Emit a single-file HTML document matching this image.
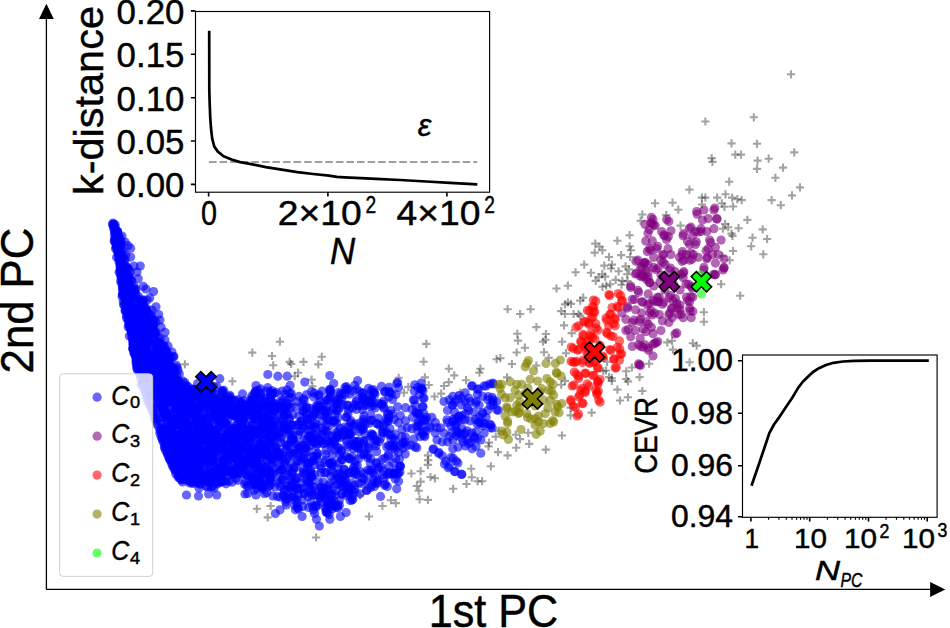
<!DOCTYPE html>
<html><head><meta charset="utf-8"><style>
html,body{margin:0;padding:0;background:#fff;}
body{width:950px;height:628px;overflow:hidden;}
svg{display:block;}
text{font-family:"Liberation Sans", sans-serif;fill:#000;stroke:#000;stroke-width:0.45px;}
</style></head><body>
<svg width="950" height="628" viewBox="0 0 950 628">
<g fill="none" stroke="#000" stroke-opacity="0.36" stroke-width="2.1"><path d="M786.9 74.3h8.2M791.0 70.2v8.2"/><path d="M701.3 121.5h8.2M705.4 117.4v8.2"/><path d="M749.7 117.3h8.2M753.8 113.2v8.2"/><path d="M727.4 143.4h8.2M731.5 139.3v8.2"/><path d="M752.9 143.8h8.2M757.0 139.7v8.2"/><path d="M790.1 152.4h8.2M794.2 148.3v8.2"/><path d="M707.6 158.1h8.2M711.7 154.0v8.2"/><path d="M708.3 161.9h8.2M712.4 157.8v8.2"/><path d="M731.2 154.6h8.2M735.3 150.5v8.2"/><path d="M736.9 154.6h8.2M741.0 150.5v8.2"/><path d="M753.5 160.6h8.2M757.6 156.5v8.2"/><path d="M764.6 158.7h8.2M768.7 154.6v8.2"/><path d="M752.9 168.9h8.2M757.0 164.8v8.2"/><path d="M778.9 167.6h8.2M783.0 163.5v8.2"/><path d="M725.1 181.7h8.2M729.2 177.6v8.2"/><path d="M771.3 177.8h8.2M775.4 173.7v8.2"/><path d="M795.9 187.4h8.2M800.0 183.3v8.2"/><path d="M685.3 189.6h8.2M689.4 185.5v8.2"/><path d="M650.9 203.3h8.2M655.0 199.2v8.2"/><path d="M668.4 202.7h8.2M672.5 198.6v8.2"/><path d="M701.3 197.6h8.2M705.4 193.5v8.2"/><path d="M713.0 197.6h8.2M717.1 193.5v8.2"/><path d="M717.8 203.3h8.2M721.9 199.2v8.2"/><path d="M728.0 197.6h8.2M732.1 193.5v8.2"/><path d="M737.6 200.1h8.2M741.7 196.0v8.2"/><path d="M728.9 206.5h8.2M733.0 202.4v8.2"/><path d="M767.5 200.1h8.2M771.6 196.0v8.2"/><path d="M776.7 205.2h8.2M780.8 201.1v8.2"/><path d="M787.9 195.4h8.2M792.0 191.3v8.2"/><path d="M674.2 209.7h8.2M678.3 205.6v8.2"/><path d="M743.3 219.9h8.2M747.4 215.8v8.2"/><path d="M638.2 214.5h8.2M642.3 210.4v8.2"/><path d="M662.1 215.1h8.2M666.2 211.0v8.2"/><path d="M676.4 225.6h8.2M680.5 221.5v8.2"/><path d="M721.0 224.0h8.2M725.1 219.9v8.2"/><path d="M724.2 227.2h8.2M728.3 223.1v8.2"/><path d="M734.4 228.2h8.2M738.5 224.1v8.2"/><path d="M758.6 229.4h8.2M762.7 225.3v8.2"/><path d="M763.0 239.0h8.2M767.1 234.9v8.2"/><path d="M748.4 237.7h8.2M752.5 233.6v8.2"/><path d="M747.1 246.3h8.2M751.2 242.2v8.2"/><path d="M727.4 233.6h8.2M731.5 229.5v8.2"/><path d="M759.2 254.3h8.2M763.3 250.2v8.2"/><path d="M728.9 251.0h8.2M733.0 246.9v8.2"/><path d="M625.5 235.2h8.2M629.6 231.1v8.2"/><path d="M625.5 246.3h8.2M629.6 242.2v8.2"/><path d="M180.8 364.4h8.2M184.9 360.3v8.2"/><path d="M228.3 381.3h8.2M232.4 377.2v8.2"/><path d="M248.2 352.6h8.2M252.3 348.5v8.2"/><path d="M267.9 356.0h8.2M272.0 351.9v8.2"/><path d="M269.1 365.3h8.2M273.2 361.2v8.2"/><path d="M275.8 341.7h8.2M279.9 337.6v8.2"/><path d="M285.6 361.9h8.2M289.7 357.8v8.2"/><path d="M287.1 364.0h8.2M291.2 359.9v8.2"/><path d="M294.0 372.8h8.2M298.1 368.7v8.2"/><path d="M299.4 361.9h8.2M303.5 357.8v8.2"/><path d="M307.5 379.6h8.2M311.6 375.5v8.2"/><path d="M308.3 386.3h8.2M312.4 382.2v8.2"/><path d="M314.2 364.4h8.2M318.3 360.3v8.2"/><path d="M290.6 376.2h8.2M294.7 372.1v8.2"/><path d="M317.7 356.8h8.2M321.8 352.7v8.2"/><path d="M394.6 377.8h8.2M398.7 373.7v8.2"/><path d="M422.2 343.9h8.2M426.3 339.8v8.2"/><path d="M419.5 361.7h8.2M423.6 357.6v8.2"/><path d="M404.2 386.9h8.2M408.3 382.8v8.2"/><path d="M399.8 392.6h8.2M403.9 388.5v8.2"/><path d="M420.8 377.4h8.2M424.9 373.3v8.2"/><path d="M424.6 385.0h8.2M428.7 380.9v8.2"/><path d="M444.7 368.7h8.2M448.8 364.6v8.2"/><path d="M450.1 375.4h8.2M454.2 371.3v8.2"/><path d="M444.7 382.1h8.2M448.8 378.0v8.2"/><path d="M439.9 386.0h8.2M444.0 381.9v8.2"/><path d="M437.1 393.6h8.2M441.2 389.5v8.2"/><path d="M430.4 396.5h8.2M434.5 392.4v8.2"/><path d="M456.2 392.6h8.2M460.3 388.5v8.2"/><path d="M461.9 380.2h8.2M466.0 376.1v8.2"/><path d="M476.3 368.7h8.2M480.4 364.6v8.2"/><path d="M475.3 372.6h8.2M479.4 368.5v8.2"/><path d="M492.5 359.2h8.2M496.6 355.1v8.2"/><path d="M496.3 358.2h8.2M500.4 354.1v8.2"/><path d="M507.8 364.0h8.2M511.9 359.9v8.2"/><path d="M513.2 333.8h8.2M517.3 329.7v8.2"/><path d="M513.9 340.6h8.2M518.0 336.5v8.2"/><path d="M520.8 347.7h8.2M524.9 343.6v8.2"/><path d="M512.6 352.5h8.2M516.7 348.4v8.2"/><path d="M532.3 327.1h8.2M536.4 323.0v8.2"/><path d="M532.3 365.5h8.2M536.4 361.4v8.2"/><path d="M503.0 377.4h8.2M507.1 373.3v8.2"/><path d="M491.6 436.6h8.2M495.7 432.5v8.2"/><path d="M511.6 434.7h8.2M515.7 430.6v8.2"/><path d="M524.1 432.8h8.2M528.2 428.7v8.2"/><path d="M494.4 430.9h8.2M498.5 426.8v8.2"/><path d="M252.7 508.8h8.2M256.8 504.7v8.2"/><path d="M266.5 506.0h8.2M270.6 501.9v8.2"/><path d="M263.6 517.4h8.2M267.7 513.3v8.2"/><path d="M312.0 537.5h8.2M316.1 533.4v8.2"/><path d="M355.9 495.4h8.2M360.0 491.3v8.2"/><path d="M364.9 516.5h8.2M369.0 512.4v8.2"/><path d="M378.3 506.0h8.2M382.4 501.9v8.2"/><path d="M386.9 500.2h8.2M391.0 496.1v8.2"/><path d="M391.7 503.1h8.2M395.8 499.0v8.2"/><path d="M383.1 477.3h8.2M387.2 473.2v8.2"/><path d="M361.1 484.9h8.2M365.2 480.8v8.2"/><path d="M423.8 455.4h8.2M427.9 451.3v8.2"/><path d="M424.1 460.1h8.2M428.2 456.0v8.2"/><path d="M423.8 464.9h8.2M427.9 460.8v8.2"/><path d="M407.3 473.5h8.2M411.4 469.4v8.2"/><path d="M416.5 471.2h8.2M420.6 467.1v8.2"/><path d="M426.4 477.0h8.2M430.5 472.9v8.2"/><path d="M430.8 478.3h8.2M434.9 474.2v8.2"/><path d="M416.5 481.6h8.2M420.6 477.5v8.2"/><path d="M412.7 486.0h8.2M416.8 481.9v8.2"/><path d="M414.6 490.7h8.2M418.7 486.6v8.2"/><path d="M415.5 499.3h8.2M419.6 495.2v8.2"/><path d="M423.8 499.9h8.2M427.9 495.8v8.2"/><path d="M449.0 488.8h8.2M453.1 484.7v8.2"/><path d="M462.4 484.0h8.2M466.5 479.9v8.2"/><path d="M467.1 468.7h8.2M471.2 464.6v8.2"/><path d="M467.7 477.3h8.2M471.8 473.2v8.2"/><path d="M473.5 481.2h8.2M477.6 477.1v8.2"/><path d="M478.0 481.2h8.2M482.1 477.1v8.2"/><path d="M484.9 442.6h8.2M489.0 438.5v8.2"/><path d="M484.4 446.4h8.2M488.5 442.3v8.2"/><path d="M486.8 466.3h8.2M490.9 462.2v8.2"/><path d="M493.9 452.1h8.2M498.0 448.0v8.2"/><path d="M503.5 455.4h8.2M507.6 451.3v8.2"/><path d="M512.1 447.7h8.2M516.2 443.6v8.2"/><path d="M515.9 439.1h8.2M520.0 435.0v8.2"/><path d="M525.1 443.9h8.2M529.2 439.8v8.2"/><path d="M541.7 449.6h8.2M545.8 445.5v8.2"/><path d="M591.2 243.6h8.2M595.3 239.5v8.2"/><path d="M595.4 246.5h8.2M599.5 242.4v8.2"/><path d="M598.2 250.3h8.2M602.3 246.2v8.2"/><path d="M590.6 252.6h8.2M594.7 248.5v8.2"/><path d="M613.2 240.7h8.2M617.3 236.6v8.2"/><path d="M626.9 250.3h8.2M631.0 246.2v8.2"/><path d="M626.0 257.0h8.2M630.1 252.9v8.2"/><path d="M617.0 255.1h8.2M621.1 251.0v8.2"/><path d="M604.9 257.0h8.2M609.0 252.9v8.2"/><path d="M580.1 264.6h8.2M584.2 260.5v8.2"/><path d="M571.5 272.3h8.2M575.6 268.2v8.2"/><path d="M586.8 272.8h8.2M590.9 268.7v8.2"/><path d="M600.2 265.6h8.2M604.3 261.5v8.2"/><path d="M607.8 264.6h8.2M611.9 260.5v8.2"/><path d="M606.9 268.5h8.2M611.0 264.4v8.2"/><path d="M614.5 271.3h8.2M618.6 267.2v8.2"/><path d="M625.0 269.4h8.2M629.1 265.3v8.2"/><path d="M623.1 274.2h8.2M627.2 270.1v8.2"/><path d="M598.2 274.2h8.2M602.3 270.1v8.2"/><path d="M594.4 277.1h8.2M598.5 273.0v8.2"/><path d="M591.6 280.9h8.2M595.7 276.8v8.2"/><path d="M611.6 279.9h8.2M615.7 275.8v8.2"/><path d="M618.3 280.9h8.2M622.4 276.8v8.2"/><path d="M617.4 284.7h8.2M621.5 280.6v8.2"/><path d="M602.1 285.7h8.2M606.2 281.6v8.2"/><path d="M563.8 285.7h8.2M567.9 281.6v8.2"/><path d="M552.4 288.5h8.2M556.5 284.4v8.2"/><path d="M636.5 220.7h8.2M640.6 216.6v8.2"/><path d="M579.1 297.7h8.2M583.2 293.6v8.2"/><path d="M576.2 300.6h8.2M580.3 296.5v8.2"/><path d="M563.8 302.5h8.2M567.9 298.4v8.2"/><path d="M560.9 304.4h8.2M565.0 300.3v8.2"/><path d="M557.1 311.1h8.2M561.2 307.0v8.2"/><path d="M560.9 314.0h8.2M565.0 309.9v8.2"/><path d="M569.5 314.0h8.2M573.6 309.9v8.2"/><path d="M574.3 314.0h8.2M578.4 309.9v8.2"/><path d="M576.2 315.9h8.2M580.3 311.8v8.2"/><path d="M503.5 309.2h8.2M507.6 305.1v8.2"/><path d="M516.0 314.0h8.2M520.1 309.9v8.2"/><path d="M526.5 309.2h8.2M530.6 305.1v8.2"/><path d="M559.9 325.4h8.2M564.0 321.3v8.2"/><path d="M567.6 333.1h8.2M571.7 329.0v8.2"/><path d="M541.8 334.0h8.2M545.9 329.9v8.2"/><path d="M541.4 339.8h8.2M545.5 335.7v8.2"/><path d="M538.9 341.7h8.2M543.0 337.6v8.2"/><path d="M558.0 341.7h8.2M562.1 337.6v8.2"/><path d="M539.9 352.2h8.2M544.0 348.1v8.2"/><path d="M561.9 353.2h8.2M566.0 349.1v8.2"/><path d="M544.6 357.9h8.2M548.7 353.8v8.2"/><path d="M603.0 361.8h8.2M607.1 357.7v8.2"/><path d="M599.1 371.3h8.2M603.2 367.2v8.2"/><path d="M604.9 377.1h8.2M609.0 373.0v8.2"/><path d="M607.7 380.9h8.2M611.8 376.8v8.2"/><path d="M622.1 371.3h8.2M626.2 367.2v8.2"/><path d="M627.8 367.5h8.2M631.9 363.4v8.2"/><path d="M645.0 363.7h8.2M649.1 359.6v8.2"/><path d="M622.1 379.0h8.2M626.2 374.9v8.2"/><path d="M635.5 377.1h8.2M639.6 373.0v8.2"/><path d="M560.9 380.9h8.2M565.0 376.8v8.2"/><path d="M557.1 384.7h8.2M561.2 380.6v8.2"/><path d="M721.4 194.3h8.2M725.5 190.2v8.2"/><path d="M733.2 199.1h8.2M737.3 195.0v8.2"/><path d="M720.3 206.8h8.2M724.4 202.7v8.2"/><path d="M697.9 204.5h8.2M702.0 200.4v8.2"/><path d="M718.9 228.7h8.2M723.0 224.6v8.2"/><path d="M725.6 260.3h8.2M729.7 256.2v8.2"/><path d="M717.0 284.2h8.2M721.1 280.1v8.2"/><path d="M736.1 295.7h8.2M740.2 291.6v8.2"/><path d="M623.4 281.1h8.2M627.5 277.0v8.2"/><path d="M699.8 312.2h8.2M703.9 308.1v8.2"/><path d="M699.8 321.7h8.2M703.9 317.6v8.2"/><path d="M663.2 342.4h8.2M667.3 338.3v8.2"/><path d="M668.0 340.8h8.2M672.1 336.7v8.2"/><path d="M668.8 349.6h8.2M672.9 345.5v8.2"/><path d="M688.7 343.2h8.2M692.8 339.1v8.2"/><path d="M692.6 345.6h8.2M696.7 341.5v8.2"/><path d="M685.5 362.3h8.2M689.6 358.2v8.2"/><path d="M623.9 381.4h8.2M628.0 377.3v8.2"/><path d="M638.2 391.0h8.2M642.3 386.9v8.2"/><path d="M623.9 397.3h8.2M628.0 393.2v8.2"/><path d="M615.9 400.5h8.2M620.0 396.4v8.2"/><path d="M566.5 407.8h8.2M570.6 403.7v8.2"/><path d="M566.5 415.4h8.2M570.6 411.3v8.2"/><path d="M587.5 412.6h8.2M591.6 408.5v8.2"/><path d="M557.9 435.5h8.2M562.0 431.4v8.2"/><path d="M601.9 370.5h8.2M606.0 366.4v8.2"/><path d="M607.6 378.2h8.2M611.7 374.1v8.2"/><path d="M613.3 389.6h8.2M617.4 385.5v8.2"/><path d="M566.9 303.9h8.2M571.0 299.8v8.2"/><path d="M621.4 266.4h8.2M625.5 262.3v8.2"/><path d="M601.0 276.6h8.2M605.1 272.5v8.2"/><path d="M606.1 284.3h8.2M610.2 280.2v8.2"/><path d="M598.4 286.8h8.2M602.5 282.7v8.2"/><path d="M697.8 197.6h8.2M701.9 193.5v8.2"/><path d="M728.4 235.9h8.2M732.5 231.8v8.2"/><path d="M718.2 256.2h8.2M722.3 252.1v8.2"/></g><g fill="#0000ff" fill-opacity="0.6"><circle cx="154.1" cy="320.8" r="4.6"/><circle cx="144.0" cy="362.0" r="4.6"/><circle cx="148.8" cy="364.7" r="4.6"/><circle cx="158.3" cy="346.4" r="4.6"/><circle cx="133.9" cy="353.1" r="4.6"/><circle cx="126.4" cy="273.2" r="4.6"/><circle cx="136.9" cy="359.3" r="4.6"/><circle cx="127.1" cy="305.1" r="4.6"/><circle cx="138.1" cy="312.6" r="4.6"/><circle cx="125.2" cy="277.8" r="4.6"/><circle cx="166.2" cy="350.7" r="4.6"/><circle cx="126.6" cy="268.4" r="4.6"/><circle cx="116.6" cy="257.2" r="4.6"/><circle cx="137.5" cy="364.3" r="4.6"/><circle cx="157.8" cy="383.9" r="4.6"/><circle cx="168.6" cy="376.8" r="4.6"/><circle cx="160.2" cy="338.5" r="4.6"/><circle cx="127.6" cy="292.6" r="4.6"/><circle cx="165.4" cy="363.5" r="4.6"/><circle cx="142.6" cy="346.4" r="4.6"/><circle cx="125.8" cy="277.0" r="4.6"/><circle cx="143.5" cy="348.4" r="4.6"/><circle cx="159.1" cy="342.7" r="4.6"/><circle cx="131.6" cy="320.3" r="4.6"/><circle cx="173.6" cy="369.9" r="4.6"/><circle cx="122.4" cy="250.4" r="4.6"/><circle cx="125.2" cy="303.5" r="4.6"/><circle cx="160.4" cy="384.3" r="4.6"/><circle cx="123.5" cy="254.7" r="4.6"/><circle cx="169.1" cy="372.5" r="4.6"/><circle cx="123.2" cy="293.5" r="4.6"/><circle cx="160.3" cy="345.3" r="4.6"/><circle cx="136.6" cy="330.6" r="4.6"/><circle cx="137.5" cy="335.5" r="4.6"/><circle cx="143.0" cy="327.1" r="4.6"/><circle cx="136.3" cy="339.7" r="4.6"/><circle cx="149.7" cy="377.6" r="4.6"/><circle cx="147.5" cy="353.8" r="4.6"/><circle cx="155.5" cy="333.1" r="4.6"/><circle cx="145.6" cy="312.5" r="4.6"/><circle cx="135.8" cy="335.8" r="4.6"/><circle cx="156.5" cy="347.6" r="4.6"/><circle cx="119.3" cy="238.6" r="4.6"/><circle cx="135.5" cy="318.6" r="4.6"/><circle cx="114.7" cy="241.6" r="4.6"/><circle cx="140.9" cy="307.9" r="4.6"/><circle cx="156.0" cy="370.7" r="4.6"/><circle cx="172.7" cy="369.4" r="4.6"/><circle cx="128.8" cy="325.6" r="4.6"/><circle cx="156.8" cy="372.2" r="4.6"/><circle cx="127.4" cy="293.7" r="4.6"/><circle cx="146.0" cy="381.2" r="4.6"/><circle cx="155.2" cy="359.7" r="4.6"/><circle cx="123.8" cy="266.0" r="4.6"/><circle cx="146.1" cy="314.0" r="4.6"/><circle cx="134.8" cy="289.2" r="4.6"/><circle cx="132.9" cy="315.5" r="4.6"/><circle cx="121.3" cy="279.5" r="4.6"/><circle cx="118.2" cy="234.8" r="4.6"/><circle cx="148.5" cy="325.9" r="4.6"/><circle cx="125.1" cy="310.4" r="4.6"/><circle cx="133.3" cy="296.5" r="4.6"/><circle cx="135.2" cy="297.8" r="4.6"/><circle cx="157.2" cy="352.3" r="4.6"/><circle cx="143.8" cy="333.8" r="4.6"/><circle cx="139.9" cy="363.8" r="4.6"/><circle cx="129.9" cy="292.5" r="4.6"/><circle cx="143.3" cy="365.3" r="4.6"/><circle cx="148.0" cy="331.9" r="4.6"/><circle cx="150.5" cy="321.9" r="4.6"/><circle cx="155.1" cy="376.6" r="4.6"/><circle cx="117.6" cy="231.3" r="4.6"/><circle cx="134.4" cy="319.2" r="4.6"/><circle cx="155.6" cy="372.0" r="4.6"/><circle cx="128.2" cy="326.9" r="4.6"/><circle cx="157.2" cy="369.1" r="4.6"/><circle cx="161.3" cy="351.4" r="4.6"/><circle cx="149.0" cy="329.8" r="4.6"/><circle cx="163.7" cy="378.3" r="4.6"/><circle cx="123.1" cy="259.3" r="4.6"/><circle cx="120.6" cy="281.4" r="4.6"/><circle cx="123.2" cy="288.4" r="4.6"/><circle cx="141.6" cy="309.6" r="4.6"/><circle cx="135.1" cy="335.6" r="4.6"/><circle cx="130.4" cy="320.9" r="4.6"/><circle cx="156.0" cy="343.9" r="4.6"/><circle cx="122.0" cy="257.8" r="4.6"/><circle cx="121.3" cy="244.7" r="4.6"/><circle cx="148.6" cy="320.3" r="4.6"/><circle cx="171.3" cy="375.9" r="4.6"/><circle cx="155.0" cy="333.5" r="4.6"/><circle cx="126.5" cy="318.1" r="4.6"/><circle cx="118.4" cy="254.3" r="4.6"/><circle cx="131.3" cy="314.0" r="4.6"/><circle cx="129.3" cy="311.2" r="4.6"/><circle cx="133.1" cy="344.6" r="4.6"/><circle cx="150.8" cy="347.9" r="4.6"/><circle cx="140.0" cy="358.0" r="4.6"/><circle cx="133.0" cy="322.0" r="4.6"/><circle cx="138.9" cy="308.9" r="4.6"/><circle cx="146.6" cy="323.4" r="4.6"/><circle cx="146.6" cy="341.4" r="4.6"/><circle cx="133.8" cy="344.7" r="4.6"/><circle cx="126.7" cy="285.0" r="4.6"/><circle cx="139.9" cy="341.7" r="4.6"/><circle cx="140.4" cy="328.3" r="4.6"/><circle cx="164.0" cy="346.2" r="4.6"/><circle cx="134.2" cy="349.4" r="4.6"/><circle cx="178.6" cy="381.7" r="4.6"/><circle cx="141.6" cy="362.3" r="4.6"/><circle cx="130.8" cy="330.1" r="4.6"/><circle cx="146.9" cy="312.2" r="4.6"/><circle cx="140.9" cy="343.6" r="4.6"/><circle cx="121.0" cy="261.1" r="4.6"/><circle cx="172.1" cy="368.5" r="4.6"/><circle cx="128.0" cy="313.3" r="4.6"/><circle cx="151.3" cy="363.6" r="4.6"/><circle cx="140.8" cy="327.8" r="4.6"/><circle cx="121.2" cy="248.8" r="4.6"/><circle cx="129.0" cy="276.8" r="4.6"/><circle cx="142.0" cy="342.9" r="4.6"/><circle cx="145.5" cy="358.8" r="4.6"/><circle cx="159.2" cy="342.5" r="4.6"/><circle cx="139.4" cy="312.4" r="4.6"/><circle cx="137.4" cy="314.0" r="4.6"/><circle cx="134.7" cy="311.6" r="4.6"/><circle cx="141.6" cy="302.5" r="4.6"/><circle cx="156.5" cy="384.1" r="4.6"/><circle cx="148.1" cy="322.0" r="4.6"/><circle cx="121.2" cy="241.6" r="4.6"/><circle cx="165.3" cy="377.2" r="4.6"/><circle cx="169.5" cy="366.6" r="4.6"/><circle cx="126.1" cy="294.4" r="4.6"/><circle cx="158.2" cy="355.8" r="4.6"/><circle cx="115.5" cy="248.8" r="4.6"/><circle cx="124.4" cy="285.7" r="4.6"/><circle cx="119.5" cy="250.3" r="4.6"/><circle cx="139.9" cy="317.6" r="4.6"/><circle cx="134.7" cy="305.2" r="4.6"/><circle cx="134.7" cy="320.7" r="4.6"/><circle cx="130.9" cy="304.8" r="4.6"/><circle cx="157.5" cy="352.3" r="4.6"/><circle cx="128.9" cy="269.8" r="4.6"/><circle cx="154.5" cy="367.4" r="4.6"/><circle cx="142.4" cy="324.0" r="4.6"/><circle cx="124.8" cy="291.1" r="4.6"/><circle cx="141.0" cy="384.5" r="4.6"/><circle cx="144.6" cy="331.8" r="4.6"/><circle cx="168.6" cy="368.8" r="4.6"/><circle cx="116.1" cy="247.2" r="4.6"/><circle cx="175.5" cy="383.3" r="4.6"/><circle cx="152.1" cy="364.8" r="4.6"/><circle cx="142.6" cy="340.9" r="4.6"/><circle cx="127.3" cy="306.6" r="4.6"/><circle cx="143.2" cy="299.9" r="4.6"/><circle cx="118.5" cy="240.6" r="4.6"/><circle cx="129.1" cy="323.0" r="4.6"/><circle cx="150.2" cy="382.4" r="4.6"/><circle cx="130.3" cy="316.3" r="4.6"/><circle cx="135.8" cy="319.9" r="4.6"/><circle cx="152.6" cy="380.2" r="4.6"/><circle cx="142.8" cy="352.5" r="4.6"/><circle cx="146.6" cy="380.9" r="4.6"/><circle cx="130.2" cy="272.0" r="4.6"/><circle cx="127.4" cy="293.7" r="4.6"/><circle cx="147.6" cy="365.9" r="4.6"/><circle cx="162.8" cy="383.7" r="4.6"/><circle cx="129.5" cy="301.5" r="4.6"/><circle cx="143.8" cy="329.0" r="4.6"/><circle cx="167.4" cy="358.7" r="4.6"/><circle cx="131.3" cy="330.4" r="4.6"/><circle cx="138.7" cy="318.0" r="4.6"/><circle cx="147.8" cy="328.2" r="4.6"/><circle cx="176.9" cy="383.2" r="4.6"/><circle cx="157.3" cy="379.7" r="4.6"/><circle cx="137.5" cy="315.8" r="4.6"/><circle cx="174.3" cy="378.3" r="4.6"/><circle cx="143.9" cy="348.4" r="4.6"/><circle cx="133.7" cy="342.3" r="4.6"/><circle cx="146.1" cy="333.9" r="4.6"/><circle cx="155.4" cy="350.9" r="4.6"/><circle cx="158.8" cy="365.3" r="4.6"/><circle cx="142.8" cy="361.6" r="4.6"/><circle cx="169.8" cy="369.7" r="4.6"/><circle cx="136.0" cy="343.8" r="4.6"/><circle cx="129.1" cy="276.3" r="4.6"/><circle cx="135.5" cy="342.5" r="4.6"/><circle cx="154.6" cy="340.8" r="4.6"/><circle cx="142.3" cy="341.8" r="4.6"/><circle cx="146.5" cy="338.8" r="4.6"/><circle cx="121.9" cy="270.6" r="4.6"/><circle cx="143.1" cy="318.7" r="4.6"/><circle cx="122.4" cy="289.0" r="4.6"/><circle cx="126.1" cy="278.4" r="4.6"/><circle cx="165.1" cy="380.1" r="4.6"/><circle cx="136.6" cy="301.3" r="4.6"/><circle cx="177.5" cy="384.4" r="4.6"/><circle cx="154.5" cy="334.1" r="4.6"/><circle cx="143.6" cy="380.5" r="4.6"/><circle cx="121.8" cy="266.5" r="4.6"/><circle cx="162.0" cy="349.2" r="4.6"/><circle cx="130.7" cy="321.1" r="4.6"/><circle cx="140.7" cy="333.4" r="4.6"/><circle cx="132.4" cy="320.3" r="4.6"/><circle cx="149.0" cy="383.5" r="4.6"/><circle cx="147.5" cy="340.0" r="4.6"/><circle cx="169.3" cy="362.0" r="4.6"/><circle cx="133.8" cy="285.9" r="4.6"/><circle cx="124.2" cy="284.0" r="4.6"/><circle cx="145.1" cy="325.5" r="4.6"/><circle cx="161.8" cy="371.8" r="4.6"/><circle cx="138.4" cy="296.4" r="4.6"/><circle cx="148.5" cy="328.6" r="4.6"/><circle cx="177.5" cy="380.7" r="4.6"/><circle cx="143.1" cy="375.3" r="4.6"/><circle cx="150.6" cy="371.3" r="4.6"/><circle cx="162.6" cy="345.2" r="4.6"/><circle cx="171.5" cy="368.8" r="4.6"/><circle cx="125.4" cy="311.1" r="4.6"/><circle cx="153.5" cy="326.7" r="4.6"/><circle cx="141.9" cy="343.6" r="4.6"/><circle cx="161.8" cy="361.7" r="4.6"/><circle cx="125.6" cy="310.3" r="4.6"/><circle cx="129.3" cy="336.0" r="4.6"/><circle cx="124.2" cy="265.7" r="4.6"/><circle cx="118.2" cy="242.4" r="4.6"/><circle cx="138.7" cy="325.6" r="4.6"/><circle cx="159.0" cy="361.3" r="4.6"/><circle cx="119.2" cy="236.3" r="4.6"/><circle cx="163.0" cy="372.0" r="4.6"/><circle cx="121.8" cy="257.4" r="4.6"/><circle cx="161.5" cy="366.4" r="4.6"/><circle cx="124.2" cy="297.1" r="4.6"/><circle cx="142.4" cy="335.1" r="4.6"/><circle cx="145.6" cy="350.0" r="4.6"/><circle cx="120.7" cy="262.7" r="4.6"/><circle cx="160.4" cy="347.0" r="4.6"/><circle cx="146.4" cy="358.1" r="4.6"/><circle cx="148.5" cy="321.7" r="4.6"/><circle cx="156.0" cy="359.7" r="4.6"/><circle cx="141.7" cy="348.2" r="4.6"/><circle cx="144.5" cy="317.3" r="4.6"/><circle cx="124.0" cy="259.5" r="4.6"/><circle cx="146.1" cy="359.4" r="4.6"/><circle cx="120.4" cy="243.6" r="4.6"/><circle cx="125.8" cy="254.9" r="4.6"/><circle cx="144.1" cy="315.5" r="4.6"/><circle cx="148.4" cy="335.0" r="4.6"/><circle cx="177.6" cy="380.3" r="4.6"/><circle cx="134.8" cy="353.3" r="4.6"/><circle cx="127.9" cy="268.3" r="4.6"/><circle cx="165.7" cy="378.0" r="4.6"/><circle cx="158.9" cy="361.7" r="4.6"/><circle cx="148.4" cy="383.4" r="4.6"/><circle cx="137.7" cy="331.1" r="4.6"/><circle cx="136.3" cy="308.5" r="4.6"/><circle cx="127.5" cy="280.8" r="4.6"/><circle cx="113.9" cy="224.3" r="4.6"/><circle cx="118.6" cy="244.2" r="4.6"/><circle cx="164.3" cy="379.6" r="4.6"/><circle cx="157.9" cy="336.5" r="4.6"/><circle cx="132.8" cy="321.9" r="4.6"/><circle cx="141.1" cy="326.4" r="4.6"/><circle cx="152.6" cy="323.3" r="4.6"/><circle cx="114.2" cy="240.9" r="4.6"/><circle cx="160.3" cy="366.1" r="4.6"/><circle cx="156.4" cy="332.6" r="4.6"/><circle cx="138.4" cy="350.7" r="4.6"/><circle cx="155.4" cy="377.1" r="4.6"/><circle cx="131.3" cy="280.1" r="4.6"/><circle cx="164.0" cy="367.1" r="4.6"/><circle cx="129.7" cy="288.4" r="4.6"/><circle cx="144.0" cy="368.1" r="4.6"/><circle cx="138.7" cy="343.3" r="4.6"/><circle cx="117.4" cy="231.6" r="4.6"/><circle cx="148.6" cy="344.6" r="4.6"/><circle cx="158.9" cy="368.0" r="4.6"/><circle cx="115.2" cy="227.5" r="4.6"/><circle cx="130.1" cy="321.3" r="4.6"/><circle cx="146.9" cy="326.2" r="4.6"/><circle cx="143.7" cy="357.3" r="4.6"/><circle cx="116.6" cy="232.9" r="4.6"/><circle cx="151.1" cy="352.1" r="4.6"/><circle cx="158.7" cy="343.4" r="4.6"/><circle cx="115.2" cy="224.8" r="4.6"/><circle cx="133.9" cy="289.9" r="4.6"/><circle cx="138.0" cy="309.4" r="4.6"/><circle cx="142.7" cy="311.9" r="4.6"/><circle cx="140.3" cy="326.1" r="4.6"/><circle cx="141.8" cy="350.0" r="4.6"/><circle cx="151.1" cy="314.7" r="4.6"/><circle cx="127.5" cy="314.6" r="4.6"/><circle cx="137.3" cy="351.1" r="4.6"/><circle cx="143.5" cy="356.7" r="4.6"/><circle cx="121.7" cy="283.5" r="4.6"/><circle cx="122.6" cy="294.7" r="4.6"/><circle cx="125.7" cy="298.1" r="4.6"/><circle cx="130.6" cy="318.1" r="4.6"/><circle cx="117.3" cy="231.8" r="4.6"/><circle cx="161.4" cy="347.8" r="4.6"/><circle cx="176.4" cy="374.9" r="4.6"/><circle cx="131.8" cy="308.4" r="4.6"/><circle cx="147.9" cy="367.3" r="4.6"/><circle cx="119.5" cy="240.4" r="4.6"/><circle cx="135.4" cy="350.3" r="4.6"/><circle cx="158.5" cy="377.1" r="4.6"/><circle cx="123.8" cy="282.0" r="4.6"/><circle cx="152.7" cy="372.1" r="4.6"/><circle cx="146.5" cy="350.4" r="4.6"/><circle cx="139.6" cy="358.7" r="4.6"/><circle cx="125.1" cy="296.3" r="4.6"/><circle cx="165.5" cy="353.3" r="4.6"/><circle cx="123.5" cy="292.8" r="4.6"/><circle cx="135.9" cy="289.1" r="4.6"/><circle cx="149.0" cy="364.7" r="4.6"/><circle cx="163.0" cy="366.4" r="4.6"/><circle cx="140.1" cy="337.5" r="4.6"/><circle cx="141.1" cy="301.2" r="4.6"/><circle cx="170.1" cy="367.0" r="4.6"/><circle cx="147.0" cy="343.4" r="4.6"/><circle cx="125.2" cy="295.4" r="4.6"/><circle cx="139.2" cy="349.9" r="4.6"/><circle cx="128.3" cy="321.1" r="4.6"/><circle cx="139.0" cy="335.5" r="4.6"/><circle cx="135.8" cy="315.8" r="4.6"/><circle cx="126.3" cy="301.0" r="4.6"/><circle cx="167.5" cy="380.2" r="4.6"/><circle cx="146.1" cy="307.9" r="4.6"/><circle cx="143.8" cy="364.9" r="4.6"/><circle cx="162.1" cy="372.8" r="4.6"/><circle cx="118.1" cy="251.8" r="4.6"/><circle cx="139.6" cy="365.7" r="4.6"/><circle cx="120.7" cy="276.3" r="4.6"/><circle cx="132.7" cy="311.5" r="4.6"/><circle cx="148.8" cy="379.8" r="4.6"/><circle cx="164.3" cy="355.8" r="4.6"/><circle cx="152.8" cy="344.0" r="4.6"/><circle cx="153.2" cy="325.5" r="4.6"/><circle cx="167.3" cy="360.3" r="4.6"/><circle cx="115.7" cy="243.5" r="4.6"/><circle cx="146.9" cy="311.3" r="4.6"/><circle cx="120.8" cy="273.2" r="4.6"/><circle cx="150.1" cy="340.2" r="4.6"/><circle cx="132.4" cy="324.9" r="4.6"/><circle cx="155.4" cy="366.9" r="4.6"/><circle cx="118.7" cy="254.4" r="4.6"/><circle cx="136.4" cy="314.9" r="4.6"/><circle cx="139.8" cy="299.7" r="4.6"/><circle cx="164.1" cy="381.6" r="4.6"/><circle cx="126.2" cy="299.6" r="4.6"/><circle cx="119.7" cy="250.7" r="4.6"/><circle cx="137.2" cy="323.2" r="4.6"/><circle cx="163.1" cy="348.7" r="4.6"/><circle cx="134.2" cy="320.2" r="4.6"/><circle cx="136.2" cy="327.9" r="4.6"/><circle cx="137.4" cy="317.6" r="4.6"/><circle cx="118.4" cy="245.0" r="4.6"/><circle cx="150.5" cy="358.7" r="4.6"/><circle cx="121.8" cy="255.7" r="4.6"/><circle cx="119.1" cy="272.3" r="4.6"/><circle cx="166.0" cy="354.7" r="4.6"/><circle cx="155.6" cy="353.8" r="4.6"/><circle cx="142.4" cy="302.9" r="4.6"/><circle cx="150.0" cy="368.5" r="4.6"/><circle cx="141.3" cy="362.9" r="4.6"/><circle cx="158.2" cy="368.1" r="4.6"/><circle cx="173.1" cy="375.3" r="4.6"/><circle cx="135.2" cy="306.3" r="4.6"/><circle cx="129.5" cy="284.5" r="4.6"/><circle cx="138.1" cy="344.6" r="4.6"/><circle cx="163.6" cy="362.3" r="4.6"/><circle cx="150.6" cy="374.0" r="4.6"/><circle cx="153.3" cy="319.3" r="4.6"/><circle cx="141.4" cy="342.2" r="4.6"/><circle cx="144.8" cy="316.0" r="4.6"/><circle cx="152.9" cy="356.6" r="4.6"/><circle cx="161.5" cy="376.9" r="4.6"/><circle cx="143.5" cy="352.9" r="4.6"/><circle cx="148.2" cy="353.4" r="4.6"/><circle cx="132.9" cy="348.7" r="4.6"/><circle cx="152.1" cy="328.6" r="4.6"/><circle cx="143.4" cy="340.4" r="4.6"/><circle cx="136.2" cy="309.2" r="4.6"/><circle cx="159.9" cy="376.7" r="4.6"/><circle cx="116.6" cy="231.3" r="4.6"/><circle cx="117.4" cy="236.0" r="4.6"/><circle cx="131.4" cy="290.6" r="4.6"/><circle cx="129.2" cy="308.1" r="4.6"/><circle cx="140.3" cy="319.8" r="4.6"/><circle cx="165.5" cy="356.0" r="4.6"/><circle cx="154.3" cy="377.0" r="4.6"/><circle cx="144.9" cy="315.6" r="4.6"/><circle cx="132.3" cy="290.7" r="4.6"/><circle cx="122.6" cy="281.4" r="4.6"/><circle cx="167.0" cy="371.8" r="4.6"/><circle cx="140.2" cy="336.3" r="4.6"/><circle cx="172.3" cy="383.0" r="4.6"/><circle cx="128.1" cy="278.5" r="4.6"/><circle cx="128.1" cy="304.9" r="4.6"/><circle cx="143.6" cy="305.2" r="4.6"/><circle cx="143.4" cy="327.3" r="4.6"/><circle cx="158.3" cy="353.4" r="4.6"/><circle cx="132.7" cy="309.8" r="4.6"/><circle cx="164.7" cy="352.6" r="4.6"/><circle cx="124.2" cy="269.1" r="4.6"/><circle cx="133.2" cy="347.3" r="4.6"/><circle cx="144.4" cy="346.0" r="4.6"/><circle cx="156.1" cy="356.1" r="4.6"/><circle cx="176.5" cy="383.5" r="4.6"/><circle cx="120.6" cy="241.1" r="4.6"/><circle cx="135.8" cy="294.0" r="4.6"/><circle cx="165.1" cy="383.3" r="4.6"/><circle cx="120.0" cy="271.5" r="4.6"/><circle cx="145.9" cy="344.9" r="4.6"/><circle cx="133.4" cy="347.9" r="4.6"/><circle cx="142.3" cy="346.4" r="4.6"/><circle cx="153.4" cy="356.7" r="4.6"/><circle cx="127.1" cy="267.1" r="4.6"/><circle cx="145.3" cy="380.4" r="4.6"/><circle cx="157.9" cy="369.3" r="4.6"/><circle cx="158.4" cy="380.5" r="4.6"/><circle cx="120.2" cy="263.6" r="4.6"/><circle cx="136.0" cy="311.3" r="4.6"/><circle cx="125.6" cy="298.9" r="4.6"/><circle cx="149.7" cy="314.6" r="4.6"/><circle cx="148.8" cy="332.1" r="4.6"/><circle cx="147.1" cy="310.3" r="4.6"/><circle cx="150.2" cy="379.7" r="4.6"/><circle cx="158.8" cy="349.8" r="4.6"/><circle cx="147.6" cy="366.9" r="4.6"/><circle cx="154.3" cy="367.4" r="4.6"/><circle cx="114.7" cy="238.8" r="4.6"/><circle cx="146.8" cy="323.7" r="4.6"/><circle cx="166.6" cy="352.1" r="4.6"/><circle cx="141.9" cy="303.6" r="4.6"/><circle cx="136.2" cy="354.2" r="4.6"/><circle cx="159.7" cy="383.2" r="4.6"/><circle cx="169.8" cy="362.1" r="4.6"/><circle cx="143.9" cy="306.1" r="4.6"/><circle cx="168.5" cy="382.0" r="4.6"/><circle cx="128.1" cy="318.0" r="4.6"/><circle cx="134.8" cy="291.8" r="4.6"/><circle cx="154.0" cy="338.9" r="4.6"/><circle cx="166.7" cy="384.2" r="4.6"/><circle cx="123.3" cy="301.8" r="4.6"/><circle cx="125.3" cy="266.1" r="4.6"/><circle cx="122.4" cy="293.7" r="4.6"/><circle cx="145.9" cy="375.7" r="4.6"/><circle cx="140.4" cy="304.2" r="4.6"/><circle cx="142.7" cy="376.3" r="4.6"/><circle cx="157.5" cy="383.0" r="4.6"/><circle cx="157.2" cy="381.4" r="4.6"/><circle cx="139.3" cy="342.7" r="4.6"/><circle cx="156.1" cy="372.6" r="4.6"/><circle cx="122.1" cy="268.8" r="4.6"/><circle cx="123.9" cy="305.0" r="4.6"/><circle cx="141.3" cy="349.4" r="4.6"/><circle cx="156.8" cy="361.4" r="4.6"/><circle cx="146.4" cy="311.2" r="4.6"/><circle cx="151.3" cy="358.7" r="4.6"/><circle cx="141.2" cy="322.5" r="4.6"/><circle cx="133.6" cy="295.6" r="4.6"/><circle cx="134.6" cy="343.0" r="4.6"/><circle cx="155.9" cy="373.6" r="4.6"/><circle cx="151.1" cy="359.5" r="4.6"/><circle cx="137.6" cy="322.3" r="4.6"/><circle cx="153.0" cy="367.6" r="4.6"/><circle cx="170.3" cy="375.7" r="4.6"/><circle cx="163.7" cy="362.4" r="4.6"/><circle cx="172.0" cy="367.8" r="4.6"/><circle cx="145.8" cy="320.5" r="4.6"/><circle cx="178.2" cy="381.0" r="4.6"/><circle cx="172.6" cy="374.6" r="4.6"/><circle cx="164.8" cy="353.7" r="4.6"/><circle cx="160.1" cy="349.5" r="4.6"/><circle cx="144.8" cy="359.0" r="4.6"/><circle cx="140.6" cy="338.8" r="4.6"/><circle cx="170.3" cy="366.2" r="4.6"/><circle cx="133.9" cy="349.1" r="4.6"/><circle cx="166.6" cy="367.4" r="4.6"/><circle cx="137.6" cy="335.9" r="4.6"/><circle cx="133.5" cy="344.6" r="4.6"/><circle cx="129.3" cy="297.2" r="4.6"/><circle cx="144.3" cy="378.7" r="4.6"/><circle cx="157.6" cy="348.0" r="4.6"/><circle cx="147.6" cy="342.4" r="4.6"/><circle cx="168.5" cy="356.6" r="4.6"/><circle cx="148.5" cy="324.4" r="4.6"/><circle cx="141.0" cy="302.0" r="4.6"/><circle cx="167.7" cy="354.1" r="4.6"/><circle cx="120.3" cy="262.7" r="4.6"/><circle cx="134.0" cy="324.3" r="4.6"/><circle cx="145.2" cy="338.7" r="4.6"/><circle cx="144.8" cy="377.6" r="4.6"/><circle cx="145.6" cy="335.1" r="4.6"/><circle cx="120.8" cy="262.3" r="4.6"/><circle cx="130.7" cy="302.0" r="4.6"/><circle cx="168.5" cy="365.6" r="4.6"/><circle cx="134.0" cy="350.7" r="4.6"/><circle cx="135.9" cy="346.7" r="4.6"/><circle cx="147.2" cy="333.3" r="4.6"/><circle cx="121.6" cy="271.6" r="4.6"/><circle cx="135.6" cy="354.5" r="4.6"/><circle cx="134.5" cy="322.5" r="4.6"/><circle cx="159.2" cy="359.0" r="4.6"/><circle cx="155.1" cy="383.6" r="4.6"/><circle cx="140.4" cy="347.3" r="4.6"/><circle cx="146.5" cy="348.7" r="4.6"/><circle cx="133.5" cy="321.9" r="4.6"/><circle cx="131.8" cy="281.5" r="4.6"/><circle cx="129.7" cy="279.2" r="4.6"/><circle cx="153.4" cy="356.5" r="4.6"/><circle cx="133.6" cy="311.0" r="4.6"/><circle cx="140.8" cy="306.5" r="4.6"/><circle cx="130.7" cy="311.2" r="4.6"/><circle cx="130.9" cy="307.5" r="4.6"/><circle cx="116.6" cy="246.5" r="4.6"/><circle cx="164.9" cy="348.3" r="4.6"/><circle cx="129.5" cy="296.5" r="4.6"/><circle cx="133.4" cy="296.8" r="4.6"/><circle cx="148.5" cy="381.0" r="4.6"/><circle cx="155.5" cy="340.8" r="4.6"/><circle cx="167.4" cy="366.2" r="4.6"/><circle cx="140.5" cy="314.9" r="4.6"/><circle cx="121.6" cy="276.8" r="4.6"/><circle cx="152.7" cy="325.8" r="4.6"/><circle cx="136.2" cy="334.2" r="4.6"/><circle cx="152.5" cy="331.9" r="4.6"/><circle cx="130.9" cy="310.8" r="4.6"/><circle cx="132.7" cy="348.8" r="4.6"/><circle cx="122.5" cy="285.8" r="4.6"/><circle cx="122.8" cy="294.8" r="4.6"/><circle cx="173.8" cy="381.4" r="4.6"/><circle cx="138.6" cy="354.9" r="4.6"/><circle cx="136.8" cy="359.8" r="4.6"/><circle cx="152.4" cy="376.8" r="4.6"/><circle cx="159.1" cy="358.1" r="4.6"/><circle cx="122.1" cy="296.8" r="4.6"/><circle cx="112.6" cy="224.4" r="4.6"/><circle cx="153.4" cy="323.8" r="4.6"/><circle cx="142.5" cy="338.8" r="4.6"/><circle cx="126.5" cy="315.7" r="4.6"/><circle cx="142.5" cy="363.2" r="4.6"/><circle cx="122.9" cy="289.0" r="4.6"/><circle cx="143.5" cy="380.6" r="4.6"/><circle cx="154.2" cy="330.7" r="4.6"/><circle cx="152.8" cy="332.1" r="4.6"/><circle cx="132.1" cy="294.7" r="4.6"/><circle cx="125.1" cy="260.6" r="4.6"/><circle cx="151.3" cy="318.1" r="4.6"/><circle cx="127.5" cy="300.2" r="4.6"/><circle cx="142.6" cy="311.8" r="4.6"/><circle cx="174.1" cy="368.2" r="4.6"/><circle cx="152.8" cy="365.1" r="4.6"/><circle cx="143.3" cy="300.8" r="4.6"/><circle cx="123.8" cy="304.8" r="4.6"/><circle cx="156.1" cy="378.2" r="4.6"/><circle cx="162.6" cy="376.5" r="4.6"/><circle cx="127.5" cy="283.9" r="4.6"/><circle cx="138.6" cy="309.8" r="4.6"/><circle cx="113.0" cy="223.0" r="4.6"/><circle cx="113.1" cy="224.9" r="4.6"/><circle cx="114.0" cy="226.7" r="4.6"/><circle cx="113.6" cy="228.6" r="4.6"/><circle cx="114.5" cy="230.4" r="4.6"/><circle cx="114.6" cy="232.3" r="4.6"/><circle cx="114.5" cy="234.2" r="4.6"/><circle cx="115.4" cy="236.0" r="4.6"/><circle cx="115.1" cy="237.9" r="4.6"/><circle cx="115.9" cy="239.7" r="4.6"/><circle cx="115.8" cy="241.6" r="4.6"/><circle cx="116.1" cy="243.5" r="4.6"/><circle cx="116.8" cy="245.3" r="4.6"/><circle cx="117.6" cy="247.2" r="4.6"/><circle cx="117.1" cy="249.1" r="4.6"/><circle cx="117.5" cy="250.9" r="4.6"/><circle cx="118.3" cy="252.8" r="4.6"/><circle cx="119.0" cy="254.6" r="4.6"/><circle cx="118.8" cy="256.5" r="4.6"/><circle cx="118.9" cy="258.4" r="4.6"/><circle cx="119.9" cy="260.2" r="4.6"/><circle cx="119.1" cy="262.1" r="4.6"/><circle cx="120.4" cy="263.9" r="4.6"/><circle cx="120.0" cy="265.8" r="4.6"/><circle cx="120.2" cy="267.7" r="4.6"/><circle cx="120.4" cy="269.5" r="4.6"/><circle cx="121.0" cy="271.4" r="4.6"/><circle cx="121.9" cy="273.2" r="4.6"/><circle cx="121.4" cy="275.1" r="4.6"/><circle cx="122.2" cy="277.0" r="4.6"/><circle cx="122.6" cy="278.8" r="4.6"/><circle cx="122.6" cy="280.7" r="4.6"/><circle cx="123.1" cy="282.5" r="4.6"/><circle cx="122.8" cy="284.4" r="4.6"/><circle cx="123.1" cy="286.3" r="4.6"/><circle cx="123.6" cy="288.1" r="4.6"/><circle cx="124.5" cy="290.0" r="4.6"/><circle cx="124.5" cy="291.8" r="4.6"/><circle cx="124.7" cy="293.7" r="4.6"/><circle cx="125.3" cy="295.6" r="4.6"/><circle cx="125.4" cy="297.4" r="4.6"/><circle cx="125.6" cy="299.3" r="4.6"/><circle cx="126.5" cy="301.2" r="4.6"/><circle cx="126.7" cy="303.0" r="4.6"/><circle cx="126.4" cy="304.9" r="4.6"/><circle cx="127.1" cy="306.7" r="4.6"/><circle cx="127.4" cy="308.6" r="4.6"/><circle cx="128.1" cy="310.5" r="4.6"/><circle cx="128.2" cy="312.3" r="4.6"/><circle cx="128.0" cy="314.2" r="4.6"/><circle cx="129.2" cy="316.0" r="4.6"/><circle cx="128.4" cy="317.9" r="4.6"/><circle cx="129.1" cy="319.8" r="4.6"/><circle cx="129.8" cy="321.6" r="4.6"/><circle cx="129.4" cy="323.5" r="4.6"/><circle cx="130.1" cy="325.3" r="4.6"/><circle cx="129.9" cy="327.2" r="4.6"/><circle cx="130.9" cy="329.1" r="4.6"/><circle cx="131.4" cy="330.9" r="4.6"/><circle cx="131.4" cy="332.8" r="4.6"/><circle cx="132.1" cy="334.6" r="4.6"/><circle cx="131.7" cy="336.5" r="4.6"/><circle cx="132.5" cy="338.4" r="4.6"/><circle cx="132.7" cy="340.2" r="4.6"/><circle cx="133.0" cy="342.1" r="4.6"/><circle cx="133.1" cy="343.9" r="4.6"/><circle cx="133.9" cy="345.8" r="4.6"/><circle cx="134.3" cy="347.7" r="4.6"/><circle cx="134.1" cy="349.5" r="4.6"/><circle cx="134.6" cy="351.4" r="4.6"/><circle cx="134.2" cy="353.3" r="4.6"/><circle cx="135.3" cy="355.1" r="4.6"/><circle cx="135.5" cy="357.0" r="4.6"/><circle cx="136.2" cy="358.8" r="4.6"/><circle cx="136.3" cy="360.7" r="4.6"/><circle cx="136.0" cy="362.6" r="4.6"/><circle cx="136.4" cy="364.4" r="4.6"/><circle cx="137.1" cy="366.3" r="4.6"/><circle cx="136.6" cy="368.1" r="4.6"/><circle cx="137.5" cy="370.0" r="4.6"/><circle cx="138.5" cy="370.0" r="4.6"/><circle cx="139.5" cy="374.0" r="4.6"/><circle cx="140.5" cy="378.0" r="4.6"/><circle cx="142.7" cy="382.0" r="4.6"/><circle cx="142.8" cy="386.0" r="4.6"/><circle cx="144.1" cy="390.0" r="4.6"/><circle cx="145.3" cy="393.0" r="4.6"/><circle cx="147.1" cy="396.0" r="4.6"/><circle cx="146.8" cy="399.0" r="4.6"/><circle cx="148.4" cy="402.0" r="4.6"/><circle cx="149.6" cy="405.0" r="4.6"/><circle cx="151.4" cy="408.2" r="4.6"/><circle cx="152.6" cy="411.4" r="4.6"/><circle cx="154.0" cy="414.6" r="4.6"/><circle cx="154.3" cy="417.8" r="4.6"/><circle cx="155.9" cy="421.0" r="4.6"/><circle cx="156.9" cy="424.0" r="4.6"/><circle cx="158.8" cy="427.0" r="4.6"/><circle cx="160.0" cy="430.0" r="4.6"/><circle cx="159.8" cy="433.0" r="4.6"/><circle cx="161.0" cy="436.0" r="4.6"/><circle cx="161.9" cy="438.4" r="4.6"/><circle cx="162.7" cy="440.8" r="4.6"/><circle cx="163.9" cy="443.2" r="4.6"/><circle cx="164.8" cy="445.6" r="4.6"/><circle cx="165.1" cy="448.0" r="4.6"/><circle cx="165.7" cy="450.8" r="4.6"/><circle cx="167.4" cy="453.6" r="4.6"/><circle cx="168.3" cy="456.4" r="4.6"/><circle cx="169.6" cy="459.2" r="4.6"/><circle cx="171.2" cy="462.0" r="4.6"/><circle cx="172.0" cy="464.4" r="4.6"/><circle cx="172.9" cy="466.8" r="4.6"/><circle cx="174.3" cy="469.2" r="4.6"/><circle cx="175.6" cy="471.6" r="4.6"/><circle cx="175.8" cy="474.0" r="4.6"/><circle cx="178.5" cy="476.0" r="4.6"/><circle cx="179.7" cy="478.0" r="4.6"/><circle cx="181.3" cy="480.0" r="4.6"/><circle cx="182.6" cy="482.0" r="4.6"/><circle cx="128.0" cy="245.7" r="4.6"/><circle cx="130.6" cy="248.2" r="4.6"/><circle cx="130.6" cy="257.1" r="4.6"/><circle cx="140.3" cy="266.0" r="4.6"/><circle cx="138.2" cy="278.8" r="4.6"/><circle cx="143.3" cy="286.4" r="4.6"/><circle cx="145.9" cy="289.0" r="4.6"/><circle cx="153.5" cy="291.5" r="4.6"/><circle cx="149.7" cy="297.9" r="4.6"/><circle cx="156.0" cy="306.8" r="4.6"/><circle cx="158.6" cy="314.5" r="4.6"/><circle cx="156.0" cy="322.1" r="4.6"/><circle cx="161.1" cy="327.2" r="4.6"/><circle cx="165.0" cy="332.3" r="4.6"/><circle cx="165.0" cy="339.9" r="4.6"/><circle cx="171.3" cy="357.8" r="4.6"/><circle cx="173.9" cy="356.5" r="4.6"/><circle cx="176.4" cy="365.4" r="4.6"/><circle cx="122.0" cy="236.0" r="4.6"/><circle cx="125.0" cy="242.0" r="4.6"/><circle cx="134.0" cy="266.0" r="4.6"/><circle cx="137.0" cy="272.0" r="4.6"/><circle cx="147.0" cy="300.0" r="4.6"/><circle cx="152.0" cy="310.0" r="4.6"/><circle cx="160.0" cy="320.0" r="4.6"/><circle cx="168.0" cy="346.0" r="4.6"/><circle cx="172.0" cy="352.0" r="4.6"/><circle cx="178.0" cy="370.0" r="4.6"/><circle cx="184.1" cy="453.9" r="4.6"/><circle cx="336.5" cy="437.1" r="4.6"/><circle cx="345.0" cy="394.6" r="4.6"/><circle cx="255.6" cy="434.2" r="4.6"/><circle cx="184.7" cy="390.8" r="4.6"/><circle cx="180.2" cy="451.0" r="4.6"/><circle cx="342.5" cy="480.8" r="4.6"/><circle cx="199.1" cy="469.5" r="4.6"/><circle cx="332.1" cy="508.9" r="4.6"/><circle cx="271.3" cy="409.4" r="4.6"/><circle cx="170.1" cy="442.8" r="4.6"/><circle cx="253.7" cy="435.4" r="4.6"/><circle cx="253.7" cy="405.9" r="4.6"/><circle cx="301.7" cy="483.0" r="4.6"/><circle cx="200.5" cy="428.9" r="4.6"/><circle cx="177.8" cy="469.1" r="4.6"/><circle cx="166.3" cy="393.8" r="4.6"/><circle cx="289.5" cy="398.4" r="4.6"/><circle cx="216.5" cy="408.0" r="4.6"/><circle cx="232.0" cy="457.2" r="4.6"/><circle cx="375.8" cy="445.9" r="4.6"/><circle cx="253.6" cy="417.2" r="4.6"/><circle cx="275.9" cy="409.0" r="4.6"/><circle cx="179.8" cy="399.2" r="4.6"/><circle cx="209.0" cy="462.0" r="4.6"/><circle cx="283.2" cy="419.3" r="4.6"/><circle cx="170.9" cy="441.7" r="4.6"/><circle cx="164.5" cy="374.3" r="4.6"/><circle cx="292.2" cy="472.3" r="4.6"/><circle cx="316.1" cy="495.3" r="4.6"/><circle cx="313.9" cy="434.7" r="4.6"/><circle cx="324.3" cy="488.0" r="4.6"/><circle cx="309.2" cy="483.4" r="4.6"/><circle cx="188.4" cy="456.6" r="4.6"/><circle cx="174.8" cy="400.5" r="4.6"/><circle cx="255.2" cy="418.7" r="4.6"/><circle cx="263.5" cy="418.1" r="4.6"/><circle cx="354.9" cy="489.7" r="4.6"/><circle cx="291.6" cy="472.8" r="4.6"/><circle cx="314.4" cy="393.2" r="4.6"/><circle cx="210.6" cy="430.1" r="4.6"/><circle cx="372.6" cy="434.7" r="4.6"/><circle cx="255.0" cy="392.3" r="4.6"/><circle cx="236.6" cy="468.9" r="4.6"/><circle cx="261.1" cy="475.1" r="4.6"/><circle cx="339.4" cy="500.6" r="4.6"/><circle cx="229.6" cy="431.5" r="4.6"/><circle cx="164.7" cy="413.0" r="4.6"/><circle cx="350.9" cy="420.7" r="4.6"/><circle cx="220.2" cy="433.3" r="4.6"/><circle cx="289.7" cy="447.3" r="4.6"/><circle cx="239.1" cy="408.4" r="4.6"/><circle cx="164.9" cy="440.2" r="4.6"/><circle cx="155.8" cy="388.8" r="4.6"/><circle cx="391.5" cy="393.2" r="4.6"/><circle cx="242.6" cy="419.8" r="4.6"/><circle cx="185.6" cy="427.8" r="4.6"/><circle cx="201.1" cy="479.4" r="4.6"/><circle cx="349.0" cy="472.5" r="4.6"/><circle cx="193.9" cy="482.8" r="4.6"/><circle cx="182.3" cy="397.9" r="4.6"/><circle cx="246.0" cy="421.7" r="4.6"/><circle cx="179.7" cy="414.7" r="4.6"/><circle cx="168.8" cy="444.7" r="4.6"/><circle cx="313.0" cy="436.1" r="4.6"/><circle cx="283.5" cy="495.1" r="4.6"/><circle cx="227.4" cy="476.5" r="4.6"/><circle cx="204.0" cy="466.2" r="4.6"/><circle cx="183.3" cy="411.4" r="4.6"/><circle cx="342.8" cy="404.7" r="4.6"/><circle cx="177.0" cy="455.3" r="4.6"/><circle cx="293.2" cy="438.7" r="4.6"/><circle cx="207.7" cy="479.4" r="4.6"/><circle cx="271.9" cy="459.6" r="4.6"/><circle cx="334.8" cy="442.8" r="4.6"/><circle cx="311.5" cy="391.6" r="4.6"/><circle cx="183.1" cy="478.9" r="4.6"/><circle cx="287.4" cy="414.6" r="4.6"/><circle cx="165.9" cy="402.5" r="4.6"/><circle cx="336.0" cy="507.2" r="4.6"/><circle cx="384.8" cy="485.4" r="4.6"/><circle cx="317.8" cy="405.6" r="4.6"/><circle cx="188.5" cy="401.8" r="4.6"/><circle cx="213.8" cy="415.0" r="4.6"/><circle cx="213.8" cy="386.8" r="4.6"/><circle cx="254.2" cy="419.0" r="4.6"/><circle cx="261.8" cy="485.0" r="4.6"/><circle cx="192.6" cy="483.5" r="4.6"/><circle cx="222.2" cy="449.1" r="4.6"/><circle cx="381.2" cy="467.1" r="4.6"/><circle cx="233.9" cy="428.5" r="4.6"/><circle cx="219.6" cy="438.5" r="4.6"/><circle cx="170.6" cy="424.9" r="4.6"/><circle cx="277.1" cy="454.9" r="4.6"/><circle cx="306.5" cy="407.9" r="4.6"/><circle cx="252.2" cy="476.5" r="4.6"/><circle cx="153.0" cy="384.8" r="4.6"/><circle cx="269.5" cy="457.4" r="4.6"/><circle cx="323.1" cy="403.6" r="4.6"/><circle cx="185.1" cy="411.5" r="4.6"/><circle cx="203.7" cy="479.4" r="4.6"/><circle cx="197.8" cy="482.8" r="4.6"/><circle cx="257.6" cy="414.8" r="4.6"/><circle cx="256.8" cy="432.0" r="4.6"/><circle cx="169.4" cy="457.5" r="4.6"/><circle cx="261.7" cy="423.4" r="4.6"/><circle cx="227.4" cy="461.6" r="4.6"/><circle cx="252.4" cy="425.4" r="4.6"/><circle cx="196.3" cy="479.7" r="4.6"/><circle cx="330.2" cy="463.6" r="4.6"/><circle cx="232.1" cy="414.9" r="4.6"/><circle cx="181.0" cy="383.6" r="4.6"/><circle cx="286.1" cy="403.0" r="4.6"/><circle cx="184.6" cy="421.8" r="4.6"/><circle cx="181.0" cy="455.5" r="4.6"/><circle cx="265.9" cy="406.6" r="4.6"/><circle cx="176.4" cy="390.8" r="4.6"/><circle cx="164.7" cy="373.6" r="4.6"/><circle cx="270.3" cy="436.6" r="4.6"/><circle cx="268.8" cy="408.7" r="4.6"/><circle cx="221.3" cy="462.4" r="4.6"/><circle cx="175.9" cy="420.2" r="4.6"/><circle cx="191.5" cy="401.2" r="4.6"/><circle cx="369.1" cy="423.2" r="4.6"/><circle cx="262.4" cy="470.4" r="4.6"/><circle cx="191.6" cy="398.6" r="4.6"/><circle cx="208.6" cy="425.5" r="4.6"/><circle cx="260.7" cy="388.9" r="4.6"/><circle cx="222.1" cy="401.6" r="4.6"/><circle cx="267.7" cy="471.1" r="4.6"/><circle cx="182.7" cy="397.5" r="4.6"/><circle cx="219.2" cy="425.5" r="4.6"/><circle cx="189.3" cy="457.4" r="4.6"/><circle cx="306.1" cy="479.5" r="4.6"/><circle cx="196.6" cy="414.9" r="4.6"/><circle cx="273.9" cy="474.6" r="4.6"/><circle cx="182.2" cy="427.3" r="4.6"/><circle cx="366.4" cy="490.5" r="4.6"/><circle cx="246.4" cy="434.0" r="4.6"/><circle cx="189.8" cy="419.3" r="4.6"/><circle cx="190.0" cy="468.3" r="4.6"/><circle cx="315.1" cy="443.0" r="4.6"/><circle cx="277.8" cy="453.6" r="4.6"/><circle cx="389.2" cy="387.3" r="4.6"/><circle cx="196.5" cy="391.9" r="4.6"/><circle cx="185.2" cy="427.3" r="4.6"/><circle cx="339.1" cy="398.1" r="4.6"/><circle cx="292.5" cy="455.2" r="4.6"/><circle cx="353.7" cy="474.3" r="4.6"/><circle cx="338.5" cy="448.7" r="4.6"/><circle cx="270.4" cy="426.5" r="4.6"/><circle cx="261.8" cy="438.4" r="4.6"/><circle cx="227.0" cy="471.8" r="4.6"/><circle cx="172.9" cy="425.9" r="4.6"/><circle cx="218.5" cy="422.0" r="4.6"/><circle cx="212.2" cy="476.2" r="4.6"/><circle cx="247.8" cy="475.5" r="4.6"/><circle cx="303.6" cy="411.0" r="4.6"/><circle cx="255.4" cy="430.6" r="4.6"/><circle cx="213.5" cy="402.0" r="4.6"/><circle cx="236.0" cy="440.3" r="4.6"/><circle cx="161.3" cy="391.4" r="4.6"/><circle cx="278.2" cy="452.9" r="4.6"/><circle cx="159.9" cy="381.6" r="4.6"/><circle cx="255.2" cy="454.5" r="4.6"/><circle cx="191.5" cy="440.8" r="4.6"/><circle cx="191.7" cy="426.6" r="4.6"/><circle cx="362.8" cy="399.1" r="4.6"/><circle cx="180.8" cy="441.4" r="4.6"/><circle cx="270.0" cy="406.4" r="4.6"/><circle cx="158.4" cy="418.5" r="4.6"/><circle cx="251.9" cy="428.1" r="4.6"/><circle cx="186.0" cy="472.4" r="4.6"/><circle cx="237.7" cy="432.1" r="4.6"/><circle cx="172.4" cy="373.1" r="4.6"/><circle cx="183.7" cy="393.1" r="4.6"/><circle cx="318.9" cy="394.5" r="4.6"/><circle cx="160.9" cy="395.5" r="4.6"/><circle cx="303.5" cy="473.3" r="4.6"/><circle cx="219.5" cy="436.6" r="4.6"/><circle cx="291.4" cy="397.3" r="4.6"/><circle cx="293.9" cy="453.5" r="4.6"/><circle cx="243.9" cy="400.7" r="4.6"/><circle cx="282.0" cy="402.6" r="4.6"/><circle cx="179.0" cy="473.7" r="4.6"/><circle cx="354.0" cy="471.7" r="4.6"/><circle cx="202.4" cy="437.6" r="4.6"/><circle cx="277.0" cy="429.5" r="4.6"/><circle cx="174.3" cy="447.2" r="4.6"/><circle cx="275.6" cy="449.3" r="4.6"/><circle cx="204.8" cy="397.1" r="4.6"/><circle cx="363.4" cy="393.0" r="4.6"/><circle cx="171.5" cy="413.1" r="4.6"/><circle cx="297.4" cy="488.3" r="4.6"/><circle cx="182.5" cy="408.0" r="4.6"/><circle cx="333.0" cy="420.9" r="4.6"/><circle cx="195.8" cy="391.6" r="4.6"/><circle cx="352.1" cy="496.2" r="4.6"/><circle cx="348.4" cy="426.9" r="4.6"/><circle cx="191.2" cy="459.8" r="4.6"/><circle cx="147.8" cy="370.8" r="4.6"/><circle cx="245.6" cy="449.2" r="4.6"/><circle cx="226.7" cy="424.4" r="4.6"/><circle cx="358.6" cy="458.8" r="4.6"/><circle cx="160.2" cy="394.4" r="4.6"/><circle cx="321.8" cy="496.3" r="4.6"/><circle cx="328.7" cy="398.9" r="4.6"/><circle cx="247.9" cy="467.0" r="4.6"/><circle cx="367.3" cy="457.5" r="4.6"/><circle cx="234.0" cy="469.4" r="4.6"/><circle cx="224.5" cy="450.3" r="4.6"/><circle cx="189.9" cy="434.2" r="4.6"/><circle cx="191.6" cy="415.2" r="4.6"/><circle cx="173.6" cy="414.7" r="4.6"/><circle cx="377.6" cy="468.4" r="4.6"/><circle cx="207.3" cy="402.9" r="4.6"/><circle cx="236.4" cy="460.3" r="4.6"/><circle cx="218.9" cy="443.0" r="4.6"/><circle cx="179.2" cy="441.9" r="4.6"/><circle cx="252.7" cy="424.3" r="4.6"/><circle cx="187.8" cy="471.2" r="4.6"/><circle cx="188.7" cy="478.0" r="4.6"/><circle cx="197.6" cy="424.4" r="4.6"/><circle cx="233.0" cy="457.3" r="4.6"/><circle cx="207.2" cy="403.1" r="4.6"/><circle cx="254.3" cy="482.7" r="4.6"/><circle cx="201.7" cy="419.6" r="4.6"/><circle cx="258.2" cy="463.9" r="4.6"/><circle cx="313.1" cy="426.2" r="4.6"/><circle cx="360.9" cy="483.5" r="4.6"/><circle cx="308.3" cy="492.1" r="4.6"/><circle cx="194.2" cy="478.6" r="4.6"/><circle cx="163.5" cy="397.3" r="4.6"/><circle cx="206.2" cy="474.9" r="4.6"/><circle cx="199.7" cy="413.2" r="4.6"/><circle cx="387.8" cy="421.6" r="4.6"/><circle cx="260.7" cy="476.9" r="4.6"/><circle cx="271.9" cy="449.0" r="4.6"/><circle cx="336.3" cy="404.0" r="4.6"/><circle cx="306.6" cy="414.6" r="4.6"/><circle cx="252.1" cy="401.0" r="4.6"/><circle cx="245.8" cy="411.3" r="4.6"/><circle cx="197.1" cy="421.5" r="4.6"/><circle cx="284.5" cy="461.2" r="4.6"/><circle cx="196.4" cy="480.4" r="4.6"/><circle cx="173.8" cy="419.2" r="4.6"/><circle cx="273.3" cy="454.7" r="4.6"/><circle cx="339.6" cy="408.1" r="4.6"/><circle cx="234.8" cy="449.2" r="4.6"/><circle cx="192.7" cy="451.4" r="4.6"/><circle cx="241.8" cy="423.5" r="4.6"/><circle cx="273.2" cy="410.7" r="4.6"/><circle cx="326.1" cy="454.3" r="4.6"/><circle cx="189.5" cy="391.6" r="4.6"/><circle cx="171.7" cy="420.4" r="4.6"/><circle cx="201.2" cy="430.1" r="4.6"/><circle cx="261.5" cy="485.3" r="4.6"/><circle cx="188.9" cy="470.1" r="4.6"/><circle cx="221.9" cy="439.6" r="4.6"/><circle cx="323.8" cy="410.9" r="4.6"/><circle cx="212.6" cy="442.3" r="4.6"/><circle cx="229.8" cy="412.5" r="4.6"/><circle cx="222.6" cy="392.5" r="4.6"/><circle cx="249.5" cy="440.2" r="4.6"/><circle cx="172.7" cy="455.1" r="4.6"/><circle cx="352.7" cy="407.8" r="4.6"/><circle cx="267.9" cy="436.5" r="4.6"/><circle cx="305.2" cy="453.4" r="4.6"/><circle cx="229.1" cy="435.4" r="4.6"/><circle cx="241.5" cy="425.8" r="4.6"/><circle cx="175.9" cy="465.5" r="4.6"/><circle cx="187.3" cy="460.6" r="4.6"/><circle cx="230.6" cy="446.6" r="4.6"/><circle cx="170.2" cy="460.0" r="4.6"/><circle cx="289.1" cy="419.6" r="4.6"/><circle cx="266.6" cy="425.4" r="4.6"/><circle cx="172.5" cy="391.7" r="4.6"/><circle cx="363.1" cy="429.4" r="4.6"/><circle cx="306.8" cy="407.0" r="4.6"/><circle cx="214.0" cy="409.8" r="4.6"/><circle cx="235.1" cy="441.4" r="4.6"/><circle cx="286.3" cy="449.4" r="4.6"/><circle cx="266.8" cy="449.8" r="4.6"/><circle cx="188.5" cy="452.6" r="4.6"/><circle cx="198.7" cy="464.8" r="4.6"/><circle cx="186.0" cy="424.2" r="4.6"/><circle cx="183.5" cy="400.6" r="4.6"/><circle cx="172.8" cy="387.1" r="4.6"/><circle cx="371.2" cy="390.3" r="4.6"/><circle cx="287.7" cy="406.2" r="4.6"/><circle cx="195.6" cy="460.8" r="4.6"/><circle cx="193.6" cy="437.8" r="4.6"/><circle cx="181.8" cy="479.6" r="4.6"/><circle cx="350.8" cy="422.9" r="4.6"/><circle cx="282.2" cy="431.9" r="4.6"/><circle cx="171.2" cy="395.1" r="4.6"/><circle cx="307.9" cy="423.0" r="4.6"/><circle cx="306.0" cy="448.4" r="4.6"/><circle cx="257.0" cy="402.8" r="4.6"/><circle cx="252.4" cy="432.6" r="4.6"/><circle cx="359.0" cy="431.8" r="4.6"/><circle cx="214.4" cy="394.1" r="4.6"/><circle cx="346.4" cy="386.7" r="4.6"/><circle cx="187.9" cy="440.8" r="4.6"/><circle cx="375.0" cy="440.1" r="4.6"/><circle cx="183.9" cy="399.3" r="4.6"/><circle cx="241.5" cy="473.1" r="4.6"/><circle cx="195.8" cy="398.0" r="4.6"/><circle cx="220.6" cy="481.7" r="4.6"/><circle cx="178.1" cy="389.2" r="4.6"/><circle cx="202.7" cy="395.3" r="4.6"/><circle cx="203.8" cy="400.2" r="4.6"/><circle cx="377.9" cy="480.3" r="4.6"/><circle cx="236.5" cy="410.0" r="4.6"/><circle cx="190.8" cy="463.2" r="4.6"/><circle cx="389.1" cy="391.4" r="4.6"/><circle cx="373.3" cy="472.9" r="4.6"/><circle cx="150.5" cy="371.8" r="4.6"/><circle cx="388.3" cy="434.4" r="4.6"/><circle cx="329.3" cy="425.7" r="4.6"/><circle cx="186.5" cy="391.9" r="4.6"/><circle cx="197.1" cy="472.2" r="4.6"/><circle cx="333.6" cy="506.3" r="4.6"/><circle cx="255.5" cy="391.0" r="4.6"/><circle cx="290.8" cy="407.4" r="4.6"/><circle cx="278.2" cy="405.3" r="4.6"/><circle cx="222.4" cy="391.4" r="4.6"/><circle cx="163.3" cy="380.9" r="4.6"/><circle cx="197.7" cy="422.0" r="4.6"/><circle cx="290.0" cy="424.6" r="4.6"/><circle cx="260.2" cy="394.1" r="4.6"/><circle cx="238.0" cy="480.3" r="4.6"/><circle cx="302.7" cy="506.4" r="4.6"/><circle cx="222.4" cy="414.7" r="4.6"/><circle cx="258.6" cy="405.6" r="4.6"/><circle cx="167.4" cy="429.8" r="4.6"/><circle cx="368.6" cy="448.5" r="4.6"/><circle cx="234.1" cy="433.0" r="4.6"/><circle cx="217.7" cy="410.0" r="4.6"/><circle cx="388.4" cy="445.6" r="4.6"/><circle cx="288.5" cy="445.3" r="4.6"/><circle cx="259.8" cy="398.1" r="4.6"/><circle cx="169.2" cy="400.8" r="4.6"/><circle cx="382.3" cy="459.2" r="4.6"/><circle cx="266.0" cy="433.7" r="4.6"/><circle cx="261.7" cy="420.7" r="4.6"/><circle cx="247.5" cy="405.7" r="4.6"/><circle cx="199.0" cy="479.0" r="4.6"/><circle cx="176.2" cy="451.6" r="4.6"/><circle cx="232.4" cy="408.6" r="4.6"/><circle cx="182.5" cy="421.7" r="4.6"/><circle cx="208.0" cy="416.4" r="4.6"/><circle cx="214.4" cy="458.8" r="4.6"/><circle cx="193.2" cy="473.2" r="4.6"/><circle cx="321.3" cy="440.8" r="4.6"/><circle cx="310.5" cy="484.7" r="4.6"/><circle cx="217.8" cy="482.1" r="4.6"/><circle cx="311.4" cy="456.9" r="4.6"/><circle cx="330.7" cy="470.0" r="4.6"/><circle cx="336.7" cy="423.8" r="4.6"/><circle cx="392.6" cy="414.1" r="4.6"/><circle cx="264.9" cy="466.7" r="4.6"/><circle cx="342.5" cy="475.2" r="4.6"/><circle cx="293.9" cy="469.1" r="4.6"/><circle cx="364.0" cy="415.9" r="4.6"/><circle cx="171.8" cy="383.1" r="4.6"/><circle cx="344.2" cy="435.4" r="4.6"/><circle cx="267.3" cy="428.7" r="4.6"/><circle cx="156.0" cy="419.1" r="4.6"/><circle cx="216.4" cy="446.3" r="4.6"/><circle cx="230.8" cy="434.4" r="4.6"/><circle cx="367.1" cy="490.2" r="4.6"/><circle cx="154.3" cy="368.9" r="4.6"/><circle cx="258.2" cy="432.7" r="4.6"/><circle cx="341.6" cy="486.1" r="4.6"/><circle cx="320.4" cy="498.2" r="4.6"/><circle cx="185.6" cy="452.5" r="4.6"/><circle cx="208.9" cy="413.2" r="4.6"/><circle cx="191.0" cy="412.7" r="4.6"/><circle cx="159.6" cy="374.9" r="4.6"/><circle cx="195.0" cy="421.3" r="4.6"/><circle cx="195.2" cy="438.3" r="4.6"/><circle cx="292.8" cy="435.4" r="4.6"/><circle cx="233.0" cy="473.7" r="4.6"/><circle cx="264.0" cy="404.9" r="4.6"/><circle cx="370.3" cy="420.5" r="4.6"/><circle cx="196.5" cy="452.4" r="4.6"/><circle cx="326.1" cy="450.3" r="4.6"/><circle cx="168.6" cy="428.6" r="4.6"/><circle cx="227.4" cy="433.8" r="4.6"/><circle cx="259.4" cy="473.1" r="4.6"/><circle cx="308.4" cy="481.8" r="4.6"/><circle cx="177.9" cy="424.1" r="4.6"/><circle cx="239.2" cy="460.2" r="4.6"/><circle cx="183.4" cy="462.2" r="4.6"/><circle cx="236.1" cy="478.3" r="4.6"/><circle cx="262.4" cy="486.9" r="4.6"/><circle cx="375.3" cy="407.8" r="4.6"/><circle cx="186.8" cy="480.0" r="4.6"/><circle cx="237.4" cy="434.0" r="4.6"/><circle cx="370.4" cy="472.3" r="4.6"/><circle cx="345.0" cy="427.1" r="4.6"/><circle cx="309.8" cy="430.3" r="4.6"/><circle cx="252.2" cy="477.6" r="4.6"/><circle cx="184.2" cy="453.3" r="4.6"/><circle cx="205.2" cy="460.3" r="4.6"/><circle cx="189.7" cy="397.1" r="4.6"/><circle cx="173.0" cy="408.1" r="4.6"/><circle cx="328.6" cy="435.3" r="4.6"/><circle cx="207.6" cy="457.0" r="4.6"/><circle cx="362.6" cy="409.8" r="4.6"/><circle cx="378.8" cy="467.3" r="4.6"/><circle cx="269.7" cy="445.2" r="4.6"/><circle cx="203.2" cy="404.1" r="4.6"/><circle cx="235.1" cy="440.7" r="4.6"/><circle cx="248.6" cy="407.7" r="4.6"/><circle cx="196.1" cy="420.6" r="4.6"/><circle cx="187.9" cy="440.4" r="4.6"/><circle cx="308.3" cy="430.4" r="4.6"/><circle cx="150.6" cy="397.7" r="4.6"/><circle cx="177.0" cy="425.1" r="4.6"/><circle cx="392.7" cy="445.5" r="4.6"/><circle cx="203.9" cy="398.1" r="4.6"/><circle cx="296.9" cy="461.0" r="4.6"/><circle cx="260.3" cy="443.6" r="4.6"/><circle cx="224.1" cy="468.3" r="4.6"/><circle cx="314.9" cy="464.8" r="4.6"/><circle cx="362.1" cy="393.0" r="4.6"/><circle cx="185.3" cy="437.8" r="4.6"/><circle cx="216.4" cy="403.8" r="4.6"/><circle cx="341.4" cy="459.7" r="4.6"/><circle cx="164.7" cy="398.3" r="4.6"/><circle cx="327.3" cy="431.7" r="4.6"/><circle cx="177.8" cy="420.0" r="4.6"/><circle cx="214.1" cy="408.6" r="4.6"/><circle cx="277.8" cy="407.5" r="4.6"/><circle cx="331.0" cy="494.3" r="4.6"/><circle cx="197.2" cy="477.6" r="4.6"/><circle cx="388.9" cy="417.4" r="4.6"/><circle cx="232.0" cy="482.2" r="4.6"/><circle cx="252.9" cy="477.8" r="4.6"/><circle cx="389.8" cy="428.4" r="4.6"/><circle cx="287.2" cy="429.7" r="4.6"/><circle cx="321.0" cy="473.1" r="4.6"/><circle cx="220.6" cy="404.6" r="4.6"/><circle cx="330.9" cy="446.5" r="4.6"/><circle cx="303.4" cy="456.5" r="4.6"/><circle cx="251.6" cy="484.4" r="4.6"/><circle cx="353.9" cy="444.5" r="4.6"/><circle cx="183.0" cy="403.1" r="4.6"/><circle cx="162.1" cy="409.1" r="4.6"/><circle cx="166.2" cy="414.0" r="4.6"/><circle cx="395.8" cy="458.7" r="4.6"/><circle cx="346.2" cy="495.6" r="4.6"/><circle cx="180.4" cy="449.5" r="4.6"/><circle cx="376.6" cy="423.4" r="4.6"/><circle cx="330.3" cy="389.2" r="4.6"/><circle cx="303.2" cy="407.3" r="4.6"/><circle cx="367.5" cy="480.9" r="4.6"/><circle cx="211.2" cy="487.1" r="4.6"/><circle cx="246.7" cy="439.8" r="4.6"/><circle cx="172.0" cy="437.2" r="4.6"/><circle cx="253.5" cy="465.0" r="4.6"/><circle cx="227.2" cy="464.1" r="4.6"/><circle cx="176.3" cy="455.0" r="4.6"/><circle cx="310.9" cy="445.6" r="4.6"/><circle cx="159.8" cy="372.4" r="4.6"/><circle cx="327.7" cy="489.3" r="4.6"/><circle cx="209.7" cy="458.8" r="4.6"/><circle cx="227.2" cy="452.1" r="4.6"/><circle cx="362.7" cy="397.1" r="4.6"/><circle cx="364.2" cy="399.6" r="4.6"/><circle cx="255.4" cy="467.8" r="4.6"/><circle cx="181.1" cy="438.5" r="4.6"/><circle cx="260.0" cy="479.9" r="4.6"/><circle cx="295.4" cy="484.9" r="4.6"/><circle cx="217.4" cy="416.0" r="4.6"/><circle cx="191.9" cy="468.9" r="4.6"/><circle cx="355.1" cy="465.5" r="4.6"/><circle cx="203.1" cy="437.5" r="4.6"/><circle cx="158.3" cy="381.1" r="4.6"/><circle cx="182.7" cy="381.1" r="4.6"/><circle cx="230.3" cy="455.1" r="4.6"/><circle cx="360.0" cy="493.8" r="4.6"/><circle cx="262.1" cy="487.1" r="4.6"/><circle cx="217.0" cy="415.4" r="4.6"/><circle cx="243.1" cy="432.3" r="4.6"/><circle cx="226.9" cy="407.9" r="4.6"/><circle cx="238.8" cy="450.0" r="4.6"/><circle cx="287.3" cy="475.2" r="4.6"/><circle cx="320.4" cy="401.1" r="4.6"/><circle cx="251.0" cy="411.0" r="4.6"/><circle cx="219.0" cy="467.7" r="4.6"/><circle cx="210.0" cy="384.6" r="4.6"/><circle cx="311.6" cy="490.9" r="4.6"/><circle cx="212.5" cy="461.9" r="4.6"/><circle cx="246.3" cy="459.5" r="4.6"/><circle cx="219.2" cy="462.0" r="4.6"/><circle cx="223.4" cy="459.8" r="4.6"/><circle cx="244.6" cy="484.3" r="4.6"/><circle cx="254.2" cy="490.2" r="4.6"/><circle cx="289.7" cy="393.3" r="4.6"/><circle cx="258.8" cy="412.3" r="4.6"/><circle cx="280.2" cy="426.5" r="4.6"/><circle cx="323.4" cy="443.4" r="4.6"/><circle cx="348.5" cy="409.5" r="4.6"/><circle cx="210.0" cy="395.3" r="4.6"/><circle cx="376.7" cy="482.7" r="4.6"/><circle cx="202.2" cy="442.5" r="4.6"/><circle cx="148.9" cy="385.0" r="4.6"/><circle cx="266.7" cy="462.4" r="4.6"/><circle cx="141.2" cy="373.6" r="4.6"/><circle cx="192.4" cy="439.3" r="4.6"/><circle cx="312.7" cy="506.3" r="4.6"/><circle cx="254.7" cy="393.3" r="4.6"/><circle cx="270.4" cy="480.2" r="4.6"/><circle cx="279.9" cy="465.9" r="4.6"/><circle cx="178.1" cy="392.2" r="4.6"/><circle cx="161.8" cy="373.3" r="4.6"/><circle cx="206.9" cy="453.2" r="4.6"/><circle cx="269.1" cy="443.4" r="4.6"/><circle cx="184.1" cy="469.6" r="4.6"/><circle cx="148.5" cy="389.9" r="4.6"/><circle cx="193.2" cy="407.8" r="4.6"/><circle cx="190.0" cy="451.4" r="4.6"/><circle cx="329.3" cy="499.5" r="4.6"/><circle cx="165.9" cy="435.2" r="4.6"/><circle cx="174.5" cy="450.8" r="4.6"/><circle cx="343.3" cy="482.3" r="4.6"/><circle cx="244.1" cy="418.7" r="4.6"/><circle cx="198.7" cy="480.1" r="4.6"/><circle cx="213.0" cy="450.1" r="4.6"/><circle cx="319.9" cy="414.7" r="4.6"/><circle cx="279.6" cy="433.8" r="4.6"/><circle cx="147.7" cy="384.9" r="4.6"/><circle cx="224.5" cy="468.7" r="4.6"/><circle cx="294.8" cy="496.6" r="4.6"/><circle cx="183.9" cy="403.7" r="4.6"/><circle cx="382.6" cy="475.0" r="4.6"/><circle cx="302.3" cy="411.3" r="4.6"/><circle cx="364.0" cy="479.0" r="4.6"/><circle cx="237.6" cy="399.8" r="4.6"/><circle cx="190.1" cy="420.3" r="4.6"/><circle cx="346.1" cy="389.2" r="4.6"/><circle cx="200.1" cy="430.0" r="4.6"/><circle cx="283.5" cy="424.5" r="4.6"/><circle cx="390.4" cy="434.8" r="4.6"/><circle cx="219.8" cy="439.3" r="4.6"/><circle cx="334.5" cy="440.2" r="4.6"/><circle cx="327.6" cy="412.0" r="4.6"/><circle cx="240.6" cy="460.3" r="4.6"/><circle cx="229.6" cy="459.2" r="4.6"/><circle cx="343.2" cy="430.9" r="4.6"/><circle cx="297.6" cy="507.9" r="4.6"/><circle cx="222.3" cy="462.6" r="4.6"/><circle cx="333.5" cy="486.7" r="4.6"/><circle cx="259.4" cy="431.4" r="4.6"/><circle cx="240.1" cy="402.2" r="4.6"/><circle cx="207.5" cy="456.2" r="4.6"/><circle cx="178.1" cy="444.0" r="4.6"/><circle cx="225.8" cy="398.6" r="4.6"/><circle cx="234.3" cy="441.9" r="4.6"/><circle cx="355.4" cy="423.9" r="4.6"/><circle cx="243.4" cy="409.2" r="4.6"/><circle cx="195.4" cy="415.1" r="4.6"/><circle cx="392.9" cy="462.5" r="4.6"/><circle cx="266.8" cy="473.8" r="4.6"/><circle cx="309.1" cy="436.3" r="4.6"/><circle cx="315.6" cy="505.6" r="4.6"/><circle cx="239.2" cy="404.9" r="4.6"/><circle cx="152.1" cy="377.3" r="4.6"/><circle cx="156.3" cy="382.6" r="4.6"/><circle cx="178.2" cy="434.8" r="4.6"/><circle cx="182.7" cy="477.8" r="4.6"/><circle cx="177.9" cy="465.1" r="4.6"/><circle cx="219.8" cy="398.1" r="4.6"/><circle cx="161.4" cy="371.9" r="4.6"/><circle cx="196.1" cy="462.1" r="4.6"/><circle cx="205.9" cy="389.9" r="4.6"/><circle cx="166.3" cy="417.5" r="4.6"/><circle cx="213.1" cy="459.1" r="4.6"/><circle cx="165.8" cy="373.0" r="4.6"/><circle cx="248.7" cy="411.9" r="4.6"/><circle cx="252.5" cy="430.2" r="4.6"/><circle cx="179.6" cy="390.5" r="4.6"/><circle cx="214.3" cy="477.3" r="4.6"/><circle cx="204.6" cy="440.0" r="4.6"/><circle cx="162.1" cy="407.2" r="4.6"/><circle cx="334.1" cy="501.0" r="4.6"/><circle cx="178.0" cy="384.6" r="4.6"/><circle cx="265.0" cy="399.6" r="4.6"/><circle cx="259.1" cy="449.8" r="4.6"/><circle cx="329.9" cy="397.1" r="4.6"/><circle cx="388.3" cy="456.1" r="4.6"/><circle cx="217.9" cy="427.7" r="4.6"/><circle cx="280.3" cy="497.2" r="4.6"/><circle cx="317.6" cy="453.4" r="4.6"/><circle cx="326.1" cy="424.9" r="4.6"/><circle cx="167.2" cy="424.9" r="4.6"/><circle cx="300.2" cy="450.8" r="4.6"/><circle cx="214.8" cy="466.9" r="4.6"/><circle cx="365.2" cy="447.0" r="4.6"/><circle cx="224.6" cy="401.0" r="4.6"/><circle cx="266.1" cy="468.4" r="4.6"/><circle cx="336.8" cy="400.0" r="4.6"/><circle cx="240.7" cy="468.7" r="4.6"/><circle cx="210.3" cy="398.3" r="4.6"/><circle cx="226.7" cy="434.9" r="4.6"/><circle cx="303.8" cy="493.1" r="4.6"/><circle cx="339.9" cy="455.6" r="4.6"/><circle cx="310.0" cy="408.4" r="4.6"/><circle cx="183.4" cy="420.5" r="4.6"/><circle cx="190.8" cy="475.6" r="4.6"/><circle cx="360.5" cy="422.6" r="4.6"/><circle cx="170.8" cy="385.9" r="4.6"/><circle cx="272.1" cy="432.7" r="4.6"/><circle cx="288.8" cy="455.8" r="4.6"/><circle cx="260.3" cy="457.5" r="4.6"/><circle cx="215.6" cy="478.8" r="4.6"/><circle cx="196.3" cy="417.4" r="4.6"/><circle cx="271.1" cy="402.0" r="4.6"/><circle cx="202.8" cy="443.3" r="4.6"/><circle cx="224.7" cy="471.6" r="4.6"/><circle cx="286.7" cy="459.2" r="4.6"/><circle cx="329.4" cy="389.8" r="4.6"/><circle cx="270.5" cy="425.5" r="4.6"/><circle cx="240.8" cy="431.4" r="4.6"/><circle cx="231.1" cy="407.0" r="4.6"/><circle cx="222.3" cy="390.7" r="4.6"/><circle cx="181.0" cy="386.8" r="4.6"/><circle cx="199.5" cy="428.5" r="4.6"/><circle cx="179.6" cy="454.8" r="4.6"/><circle cx="247.4" cy="461.9" r="4.6"/><circle cx="185.2" cy="432.8" r="4.6"/><circle cx="264.0" cy="420.6" r="4.6"/><circle cx="164.5" cy="439.4" r="4.6"/><circle cx="259.7" cy="430.7" r="4.6"/><circle cx="175.8" cy="405.4" r="4.6"/><circle cx="359.7" cy="405.3" r="4.6"/><circle cx="247.7" cy="413.9" r="4.6"/><circle cx="196.7" cy="457.6" r="4.6"/><circle cx="200.4" cy="397.6" r="4.6"/><circle cx="189.8" cy="452.3" r="4.6"/><circle cx="268.5" cy="470.8" r="4.6"/><circle cx="220.4" cy="482.4" r="4.6"/><circle cx="165.1" cy="415.6" r="4.6"/><circle cx="250.3" cy="400.0" r="4.6"/><circle cx="252.5" cy="468.4" r="4.6"/><circle cx="386.6" cy="432.2" r="4.6"/><circle cx="166.1" cy="388.7" r="4.6"/><circle cx="341.1" cy="450.4" r="4.6"/><circle cx="218.6" cy="438.0" r="4.6"/><circle cx="261.6" cy="405.5" r="4.6"/><circle cx="276.6" cy="450.9" r="4.6"/><circle cx="170.2" cy="371.9" r="4.6"/><circle cx="227.4" cy="424.5" r="4.6"/><circle cx="169.4" cy="388.9" r="4.6"/><circle cx="146.7" cy="379.5" r="4.6"/><circle cx="347.4" cy="405.1" r="4.6"/><circle cx="331.9" cy="436.2" r="4.6"/><circle cx="332.9" cy="462.2" r="4.6"/><circle cx="189.7" cy="460.5" r="4.6"/><circle cx="287.0" cy="389.9" r="4.6"/><circle cx="361.5" cy="471.9" r="4.6"/><circle cx="383.8" cy="401.1" r="4.6"/><circle cx="316.4" cy="458.2" r="4.6"/><circle cx="256.3" cy="467.2" r="4.6"/><circle cx="197.1" cy="450.5" r="4.6"/><circle cx="167.2" cy="449.5" r="4.6"/><circle cx="260.2" cy="469.6" r="4.6"/><circle cx="261.4" cy="473.8" r="4.6"/><circle cx="285.0" cy="463.6" r="4.6"/><circle cx="207.7" cy="421.0" r="4.6"/><circle cx="162.9" cy="429.8" r="4.6"/><circle cx="329.6" cy="463.4" r="4.6"/><circle cx="288.7" cy="470.9" r="4.6"/><circle cx="308.9" cy="451.5" r="4.6"/><circle cx="293.4" cy="425.6" r="4.6"/><circle cx="174.9" cy="431.5" r="4.6"/><circle cx="259.6" cy="431.4" r="4.6"/><circle cx="236.0" cy="408.6" r="4.6"/><circle cx="180.2" cy="416.9" r="4.6"/><circle cx="345.2" cy="480.4" r="4.6"/><circle cx="229.9" cy="395.4" r="4.6"/><circle cx="383.6" cy="470.9" r="4.6"/><circle cx="213.2" cy="429.3" r="4.6"/><circle cx="265.5" cy="483.8" r="4.6"/><circle cx="177.1" cy="418.1" r="4.6"/><circle cx="182.0" cy="433.6" r="4.6"/><circle cx="216.7" cy="410.8" r="4.6"/><circle cx="160.1" cy="401.8" r="4.6"/><circle cx="211.9" cy="421.3" r="4.6"/><circle cx="206.7" cy="394.9" r="4.6"/><circle cx="150.0" cy="395.3" r="4.6"/><circle cx="166.0" cy="400.1" r="4.6"/><circle cx="249.8" cy="460.3" r="4.6"/><circle cx="290.6" cy="480.7" r="4.6"/><circle cx="201.8" cy="422.1" r="4.6"/><circle cx="370.6" cy="487.6" r="4.6"/><circle cx="184.7" cy="387.3" r="4.6"/><circle cx="377.9" cy="423.9" r="4.6"/><circle cx="211.4" cy="448.9" r="4.6"/><circle cx="209.3" cy="471.6" r="4.6"/><circle cx="378.4" cy="418.3" r="4.6"/><circle cx="156.2" cy="404.5" r="4.6"/><circle cx="199.7" cy="420.3" r="4.6"/><circle cx="266.6" cy="470.2" r="4.6"/><circle cx="282.4" cy="479.5" r="4.6"/><circle cx="215.7" cy="448.4" r="4.6"/><circle cx="364.0" cy="454.6" r="4.6"/><circle cx="340.0" cy="482.2" r="4.6"/><circle cx="275.4" cy="411.0" r="4.6"/><circle cx="258.3" cy="390.0" r="4.6"/><circle cx="220.8" cy="398.1" r="4.6"/><circle cx="323.2" cy="482.1" r="4.6"/><circle cx="210.4" cy="471.9" r="4.6"/><circle cx="226.0" cy="483.8" r="4.6"/><circle cx="228.5" cy="396.8" r="4.6"/><circle cx="254.7" cy="474.3" r="4.6"/><circle cx="166.3" cy="388.5" r="4.6"/><circle cx="311.6" cy="495.0" r="4.6"/><circle cx="262.8" cy="480.2" r="4.6"/><circle cx="240.4" cy="451.2" r="4.6"/><circle cx="176.0" cy="451.1" r="4.6"/><circle cx="182.6" cy="392.3" r="4.6"/><circle cx="162.7" cy="411.7" r="4.6"/><circle cx="224.9" cy="422.8" r="4.6"/><circle cx="188.9" cy="410.2" r="4.6"/><circle cx="226.7" cy="441.2" r="4.6"/><circle cx="198.2" cy="434.7" r="4.6"/><circle cx="357.0" cy="399.7" r="4.6"/><circle cx="250.5" cy="415.2" r="4.6"/><circle cx="289.6" cy="418.1" r="4.6"/><circle cx="209.5" cy="443.4" r="4.6"/><circle cx="298.3" cy="461.2" r="4.6"/><circle cx="203.0" cy="398.6" r="4.6"/><circle cx="262.5" cy="416.6" r="4.6"/><circle cx="166.8" cy="413.7" r="4.6"/><circle cx="305.0" cy="445.4" r="4.6"/><circle cx="258.1" cy="409.0" r="4.6"/><circle cx="218.4" cy="406.2" r="4.6"/><circle cx="276.4" cy="408.2" r="4.6"/><circle cx="143.2" cy="370.2" r="4.6"/><circle cx="177.6" cy="463.8" r="4.6"/><circle cx="199.8" cy="472.2" r="4.6"/><circle cx="205.9" cy="429.8" r="4.6"/><circle cx="275.6" cy="421.0" r="4.6"/><circle cx="187.6" cy="425.0" r="4.6"/><circle cx="232.5" cy="471.8" r="4.6"/><circle cx="383.6" cy="407.1" r="4.6"/><circle cx="336.3" cy="432.6" r="4.6"/><circle cx="188.0" cy="401.8" r="4.6"/><circle cx="174.7" cy="374.9" r="4.6"/><circle cx="195.8" cy="436.1" r="4.6"/><circle cx="264.9" cy="454.8" r="4.6"/><circle cx="283.9" cy="424.8" r="4.6"/><circle cx="316.7" cy="408.1" r="4.6"/><circle cx="241.6" cy="402.4" r="4.6"/><circle cx="193.4" cy="389.2" r="4.6"/><circle cx="254.3" cy="430.3" r="4.6"/><circle cx="282.8" cy="457.7" r="4.6"/><circle cx="334.7" cy="450.1" r="4.6"/><circle cx="397.2" cy="474.1" r="4.6"/><circle cx="188.1" cy="437.0" r="4.6"/><circle cx="230.6" cy="442.8" r="4.6"/><circle cx="281.4" cy="462.8" r="4.6"/><circle cx="222.5" cy="413.3" r="4.6"/><circle cx="155.1" cy="373.2" r="4.6"/><circle cx="241.7" cy="409.8" r="4.6"/><circle cx="215.1" cy="430.8" r="4.6"/><circle cx="272.1" cy="441.3" r="4.6"/><circle cx="275.1" cy="487.0" r="4.6"/><circle cx="206.7" cy="463.3" r="4.6"/><circle cx="233.5" cy="472.7" r="4.6"/><circle cx="226.3" cy="414.6" r="4.6"/><circle cx="273.7" cy="455.4" r="4.6"/><circle cx="196.4" cy="395.2" r="4.6"/><circle cx="154.5" cy="396.3" r="4.6"/><circle cx="186.9" cy="408.3" r="4.6"/><circle cx="389.4" cy="473.1" r="4.6"/><circle cx="172.1" cy="374.9" r="4.6"/><circle cx="222.9" cy="449.5" r="4.6"/><circle cx="393.7" cy="438.3" r="4.6"/><circle cx="352.1" cy="456.6" r="4.6"/><circle cx="280.5" cy="442.4" r="4.6"/><circle cx="253.1" cy="401.9" r="4.6"/><circle cx="261.9" cy="465.0" r="4.6"/><circle cx="386.7" cy="447.1" r="4.6"/><circle cx="306.0" cy="448.0" r="4.6"/><circle cx="279.3" cy="480.9" r="4.6"/><circle cx="176.1" cy="469.6" r="4.6"/><circle cx="316.1" cy="446.1" r="4.6"/><circle cx="315.9" cy="490.7" r="4.6"/><circle cx="234.7" cy="415.1" r="4.6"/><circle cx="184.0" cy="423.2" r="4.6"/><circle cx="251.2" cy="408.6" r="4.6"/><circle cx="204.9" cy="383.5" r="4.6"/><circle cx="185.7" cy="462.1" r="4.6"/><circle cx="301.2" cy="420.8" r="4.6"/><circle cx="174.8" cy="449.7" r="4.6"/><circle cx="173.3" cy="462.8" r="4.6"/><circle cx="285.0" cy="425.1" r="4.6"/><circle cx="178.2" cy="477.3" r="4.6"/><circle cx="331.1" cy="443.7" r="4.6"/><circle cx="210.5" cy="401.3" r="4.6"/><circle cx="183.0" cy="387.4" r="4.6"/><circle cx="210.7" cy="436.9" r="4.6"/><circle cx="288.8" cy="468.2" r="4.6"/><circle cx="214.1" cy="488.1" r="4.6"/><circle cx="333.8" cy="441.3" r="4.6"/><circle cx="387.8" cy="474.6" r="4.6"/><circle cx="327.4" cy="505.6" r="4.6"/><circle cx="372.0" cy="470.5" r="4.6"/><circle cx="395.2" cy="440.5" r="4.6"/><circle cx="241.5" cy="412.2" r="4.6"/><circle cx="178.6" cy="389.7" r="4.6"/><circle cx="202.2" cy="423.1" r="4.6"/><circle cx="217.8" cy="477.5" r="4.6"/><circle cx="173.2" cy="393.7" r="4.6"/><circle cx="353.9" cy="441.8" r="4.6"/><circle cx="212.8" cy="486.2" r="4.6"/><circle cx="277.9" cy="483.4" r="4.6"/><circle cx="314.5" cy="423.4" r="4.6"/><circle cx="358.8" cy="448.4" r="4.6"/><circle cx="176.6" cy="448.8" r="4.6"/><circle cx="270.8" cy="415.0" r="4.6"/><circle cx="206.7" cy="434.2" r="4.6"/><circle cx="257.3" cy="404.9" r="4.6"/><circle cx="298.0" cy="444.8" r="4.6"/><circle cx="217.6" cy="443.9" r="4.6"/><circle cx="229.0" cy="481.1" r="4.6"/><circle cx="214.9" cy="444.4" r="4.6"/><circle cx="228.5" cy="441.3" r="4.6"/><circle cx="178.5" cy="434.7" r="4.6"/><circle cx="173.5" cy="466.0" r="4.6"/><circle cx="282.4" cy="391.0" r="4.6"/><circle cx="202.4" cy="432.1" r="4.6"/><circle cx="154.3" cy="412.2" r="4.6"/><circle cx="183.1" cy="471.6" r="4.6"/><circle cx="172.5" cy="456.8" r="4.6"/><circle cx="203.2" cy="426.1" r="4.6"/><circle cx="164.8" cy="411.3" r="4.6"/><circle cx="256.6" cy="483.8" r="4.6"/><circle cx="278.7" cy="456.6" r="4.6"/><circle cx="335.0" cy="494.9" r="4.6"/><circle cx="187.9" cy="431.5" r="4.6"/><circle cx="291.2" cy="393.3" r="4.6"/><circle cx="216.4" cy="406.1" r="4.6"/><circle cx="329.1" cy="419.9" r="4.6"/><circle cx="326.5" cy="399.8" r="4.6"/><circle cx="210.0" cy="482.7" r="4.6"/><circle cx="383.4" cy="432.4" r="4.6"/><circle cx="187.8" cy="464.0" r="4.6"/><circle cx="198.6" cy="470.7" r="4.6"/><circle cx="234.9" cy="453.1" r="4.6"/><circle cx="163.0" cy="389.5" r="4.6"/><circle cx="221.9" cy="477.0" r="4.6"/><circle cx="180.2" cy="424.9" r="4.6"/><circle cx="228.5" cy="471.4" r="4.6"/><circle cx="237.0" cy="456.8" r="4.6"/><circle cx="142.7" cy="372.9" r="4.6"/><circle cx="157.9" cy="387.2" r="4.6"/><circle cx="168.5" cy="388.4" r="4.6"/><circle cx="327.8" cy="502.6" r="4.6"/><circle cx="177.0" cy="367.4" r="4.6"/><circle cx="269.9" cy="454.5" r="4.6"/><circle cx="372.2" cy="484.6" r="4.6"/><circle cx="222.3" cy="409.5" r="4.6"/><circle cx="262.0" cy="412.8" r="4.6"/><circle cx="211.6" cy="446.0" r="4.6"/><circle cx="257.2" cy="430.9" r="4.6"/><circle cx="384.1" cy="408.2" r="4.6"/><circle cx="195.5" cy="407.1" r="4.6"/><circle cx="226.1" cy="427.9" r="4.6"/><circle cx="332.2" cy="455.1" r="4.6"/><circle cx="211.7" cy="461.1" r="4.6"/><circle cx="180.0" cy="420.8" r="4.6"/><circle cx="170.6" cy="386.4" r="4.6"/><circle cx="243.6" cy="420.0" r="4.6"/><circle cx="347.9" cy="405.7" r="4.6"/><circle cx="146.2" cy="387.6" r="4.6"/><circle cx="374.4" cy="392.1" r="4.6"/><circle cx="354.4" cy="492.1" r="4.6"/><circle cx="368.5" cy="447.6" r="4.6"/><circle cx="229.8" cy="400.4" r="4.6"/><circle cx="205.4" cy="437.9" r="4.6"/><circle cx="238.1" cy="473.6" r="4.6"/><circle cx="205.0" cy="455.0" r="4.6"/><circle cx="320.8" cy="487.7" r="4.6"/><circle cx="303.6" cy="458.1" r="4.6"/><circle cx="164.7" cy="409.9" r="4.6"/><circle cx="282.2" cy="470.2" r="4.6"/><circle cx="332.2" cy="463.4" r="4.6"/><circle cx="242.0" cy="425.7" r="4.6"/><circle cx="250.9" cy="455.6" r="4.6"/><circle cx="166.5" cy="369.7" r="4.6"/><circle cx="239.2" cy="463.0" r="4.6"/><circle cx="323.0" cy="410.1" r="4.6"/><circle cx="243.1" cy="473.7" r="4.6"/><circle cx="336.3" cy="410.4" r="4.6"/><circle cx="199.4" cy="403.3" r="4.6"/><circle cx="198.2" cy="478.5" r="4.6"/><circle cx="260.1" cy="440.1" r="4.6"/><circle cx="338.3" cy="447.5" r="4.6"/><circle cx="390.7" cy="410.5" r="4.6"/><circle cx="330.8" cy="395.1" r="4.6"/><circle cx="281.6" cy="437.0" r="4.6"/><circle cx="326.5" cy="494.7" r="4.6"/><circle cx="208.4" cy="391.5" r="4.6"/><circle cx="336.6" cy="478.0" r="4.6"/><circle cx="185.7" cy="408.3" r="4.6"/><circle cx="314.5" cy="474.6" r="4.6"/><circle cx="168.5" cy="393.8" r="4.6"/><circle cx="316.5" cy="405.4" r="4.6"/><circle cx="228.3" cy="464.9" r="4.6"/><circle cx="235.9" cy="409.8" r="4.6"/><circle cx="266.4" cy="407.4" r="4.6"/><circle cx="274.6" cy="393.3" r="4.6"/><circle cx="360.8" cy="426.3" r="4.6"/><circle cx="241.4" cy="434.4" r="4.6"/><circle cx="171.4" cy="386.7" r="4.6"/><circle cx="233.1" cy="431.0" r="4.6"/><circle cx="160.6" cy="380.2" r="4.6"/><circle cx="209.1" cy="459.8" r="4.6"/><circle cx="251.8" cy="472.9" r="4.6"/><circle cx="234.9" cy="436.8" r="4.6"/><circle cx="382.2" cy="432.7" r="4.6"/><circle cx="291.2" cy="488.1" r="4.6"/><circle cx="232.6" cy="451.9" r="4.6"/><circle cx="311.3" cy="473.5" r="4.6"/><circle cx="259.0" cy="396.8" r="4.6"/><circle cx="331.1" cy="499.6" r="4.6"/><circle cx="326.9" cy="512.3" r="4.6"/><circle cx="159.5" cy="392.4" r="4.6"/><circle cx="190.4" cy="409.8" r="4.6"/><circle cx="249.2" cy="436.8" r="4.6"/><circle cx="212.9" cy="472.2" r="4.6"/><circle cx="208.6" cy="394.4" r="4.6"/><circle cx="162.9" cy="393.8" r="4.6"/><circle cx="171.2" cy="408.8" r="4.6"/><circle cx="189.6" cy="476.7" r="4.6"/><circle cx="240.5" cy="408.6" r="4.6"/><circle cx="263.0" cy="449.4" r="4.6"/><circle cx="316.3" cy="435.2" r="4.6"/><circle cx="199.2" cy="454.6" r="4.6"/><circle cx="374.2" cy="402.9" r="4.6"/><circle cx="330.3" cy="390.7" r="4.6"/><circle cx="257.2" cy="456.6" r="4.6"/><circle cx="328.2" cy="485.7" r="4.6"/><circle cx="256.5" cy="488.5" r="4.6"/><circle cx="192.6" cy="480.9" r="4.6"/><circle cx="373.0" cy="405.7" r="4.6"/><circle cx="217.7" cy="483.7" r="4.6"/><circle cx="308.0" cy="436.3" r="4.6"/><circle cx="180.2" cy="444.4" r="4.6"/><circle cx="314.0" cy="396.9" r="4.6"/><circle cx="164.6" cy="380.3" r="4.6"/><circle cx="249.8" cy="430.4" r="4.6"/><circle cx="364.2" cy="401.3" r="4.6"/><circle cx="190.1" cy="392.8" r="4.6"/><circle cx="180.2" cy="388.3" r="4.6"/><circle cx="239.6" cy="424.2" r="4.6"/><circle cx="308.7" cy="507.5" r="4.6"/><circle cx="212.8" cy="474.7" r="4.6"/><circle cx="337.2" cy="474.2" r="4.6"/><circle cx="268.1" cy="436.4" r="4.6"/><circle cx="246.4" cy="473.9" r="4.6"/><circle cx="175.4" cy="448.1" r="4.6"/><circle cx="178.0" cy="421.2" r="4.6"/><circle cx="258.3" cy="449.5" r="4.6"/><circle cx="225.6" cy="451.0" r="4.6"/><circle cx="334.4" cy="479.5" r="4.6"/><circle cx="274.1" cy="419.1" r="4.6"/><circle cx="261.7" cy="487.7" r="4.6"/><circle cx="163.3" cy="427.9" r="4.6"/><circle cx="190.7" cy="472.8" r="4.6"/><circle cx="156.0" cy="384.7" r="4.6"/><circle cx="251.1" cy="434.9" r="4.6"/><circle cx="180.4" cy="409.6" r="4.6"/><circle cx="250.1" cy="409.2" r="4.6"/><circle cx="262.4" cy="427.6" r="4.6"/><circle cx="315.7" cy="414.7" r="4.6"/><circle cx="261.4" cy="424.4" r="4.6"/><circle cx="201.0" cy="458.1" r="4.6"/><circle cx="366.5" cy="404.7" r="4.6"/><circle cx="238.4" cy="463.1" r="4.6"/><circle cx="206.2" cy="418.0" r="4.6"/><circle cx="281.8" cy="418.1" r="4.6"/><circle cx="144.3" cy="377.7" r="4.6"/><circle cx="348.6" cy="435.6" r="4.6"/><circle cx="158.6" cy="388.1" r="4.6"/><circle cx="183.4" cy="477.1" r="4.6"/><circle cx="249.4" cy="451.7" r="4.6"/><circle cx="201.0" cy="476.6" r="4.6"/><circle cx="197.8" cy="471.1" r="4.6"/><circle cx="203.5" cy="440.6" r="4.6"/><circle cx="257.1" cy="447.6" r="4.6"/><circle cx="322.7" cy="434.0" r="4.6"/><circle cx="167.7" cy="384.4" r="4.6"/><circle cx="324.7" cy="472.7" r="4.6"/><circle cx="161.2" cy="432.2" r="4.6"/><circle cx="345.4" cy="478.4" r="4.6"/><circle cx="225.7" cy="440.4" r="4.6"/><circle cx="185.9" cy="385.7" r="4.6"/><circle cx="241.8" cy="418.2" r="4.6"/><circle cx="269.5" cy="483.7" r="4.6"/><circle cx="205.0" cy="394.1" r="4.6"/><circle cx="161.5" cy="423.5" r="4.6"/><circle cx="284.1" cy="428.4" r="4.6"/><circle cx="221.9" cy="481.0" r="4.6"/><circle cx="373.0" cy="435.7" r="4.6"/><circle cx="199.3" cy="394.4" r="4.6"/><circle cx="217.4" cy="451.0" r="4.6"/><circle cx="376.0" cy="463.6" r="4.6"/><circle cx="286.8" cy="486.0" r="4.6"/><circle cx="292.5" cy="485.3" r="4.6"/><circle cx="200.5" cy="484.1" r="4.6"/><circle cx="352.9" cy="391.1" r="4.6"/><circle cx="162.1" cy="407.2" r="4.6"/><circle cx="203.6" cy="408.8" r="4.6"/><circle cx="385.0" cy="391.7" r="4.6"/><circle cx="285.7" cy="499.3" r="4.6"/><circle cx="318.5" cy="440.5" r="4.6"/><circle cx="349.5" cy="434.7" r="4.6"/><circle cx="270.7" cy="397.5" r="4.6"/><circle cx="280.0" cy="453.1" r="4.6"/><circle cx="179.8" cy="421.2" r="4.6"/><circle cx="330.4" cy="392.6" r="4.6"/><circle cx="223.0" cy="422.6" r="4.6"/><circle cx="179.3" cy="373.9" r="4.6"/><circle cx="326.4" cy="500.5" r="4.6"/><circle cx="240.8" cy="444.5" r="4.6"/><circle cx="166.2" cy="400.5" r="4.6"/><circle cx="330.6" cy="504.3" r="4.6"/><circle cx="173.7" cy="373.5" r="4.6"/><circle cx="224.8" cy="438.0" r="4.6"/><circle cx="373.8" cy="393.1" r="4.6"/><circle cx="184.2" cy="388.3" r="4.6"/><circle cx="356.9" cy="441.3" r="4.6"/><circle cx="270.7" cy="422.3" r="4.6"/><circle cx="279.2" cy="456.3" r="4.6"/><circle cx="166.7" cy="414.4" r="4.6"/><circle cx="252.4" cy="397.6" r="4.6"/><circle cx="349.7" cy="394.1" r="4.6"/><circle cx="225.4" cy="481.1" r="4.6"/><circle cx="179.1" cy="415.2" r="4.6"/><circle cx="214.3" cy="417.1" r="4.6"/><circle cx="209.5" cy="427.8" r="4.6"/><circle cx="201.3" cy="445.6" r="4.6"/><circle cx="163.9" cy="370.1" r="4.6"/><circle cx="167.6" cy="392.1" r="4.6"/><circle cx="343.8" cy="486.1" r="4.6"/><circle cx="219.7" cy="420.5" r="4.6"/><circle cx="209.0" cy="460.9" r="4.6"/><circle cx="152.0" cy="387.4" r="4.6"/><circle cx="229.6" cy="442.2" r="4.6"/><circle cx="371.3" cy="399.3" r="4.6"/><circle cx="214.2" cy="456.2" r="4.6"/><circle cx="201.5" cy="454.1" r="4.6"/><circle cx="269.6" cy="478.3" r="4.6"/><circle cx="230.3" cy="472.6" r="4.6"/><circle cx="351.5" cy="490.1" r="4.6"/><circle cx="252.5" cy="461.2" r="4.6"/><circle cx="283.4" cy="476.4" r="4.6"/><circle cx="292.5" cy="438.9" r="4.6"/><circle cx="207.7" cy="403.5" r="4.6"/><circle cx="324.5" cy="416.5" r="4.6"/><circle cx="298.8" cy="423.8" r="4.6"/><circle cx="237.3" cy="412.3" r="4.6"/><circle cx="186.2" cy="386.6" r="4.6"/><circle cx="349.5" cy="433.3" r="4.6"/><circle cx="235.4" cy="400.7" r="4.6"/><circle cx="184.7" cy="474.7" r="4.6"/><circle cx="214.7" cy="430.4" r="4.6"/><circle cx="208.3" cy="392.9" r="4.6"/><circle cx="383.5" cy="478.5" r="4.6"/><circle cx="258.3" cy="414.6" r="4.6"/><circle cx="368.9" cy="395.0" r="4.6"/><circle cx="363.9" cy="421.7" r="4.6"/><circle cx="264.2" cy="398.5" r="4.6"/><circle cx="357.3" cy="465.5" r="4.6"/><circle cx="395.2" cy="478.9" r="4.6"/><circle cx="191.7" cy="413.0" r="4.6"/><circle cx="272.4" cy="436.6" r="4.6"/><circle cx="228.3" cy="445.2" r="4.6"/><circle cx="303.2" cy="488.3" r="4.6"/><circle cx="230.5" cy="401.2" r="4.6"/><circle cx="188.7" cy="428.2" r="4.6"/><circle cx="278.0" cy="433.0" r="4.6"/><circle cx="246.8" cy="438.2" r="4.6"/><circle cx="197.0" cy="446.6" r="4.6"/><circle cx="357.1" cy="445.6" r="4.6"/><circle cx="370.3" cy="402.2" r="4.6"/><circle cx="338.1" cy="410.0" r="4.6"/><circle cx="325.2" cy="508.1" r="4.6"/><circle cx="187.8" cy="445.0" r="4.6"/><circle cx="276.6" cy="411.8" r="4.6"/><circle cx="389.6" cy="392.7" r="4.6"/><circle cx="251.6" cy="437.9" r="4.6"/><circle cx="330.7" cy="476.1" r="4.6"/><circle cx="256.5" cy="462.7" r="4.6"/><circle cx="218.8" cy="417.3" r="4.6"/><circle cx="299.5" cy="431.0" r="4.6"/><circle cx="256.4" cy="482.2" r="4.6"/><circle cx="326.7" cy="441.7" r="4.6"/><circle cx="221.4" cy="414.3" r="4.6"/><circle cx="221.9" cy="403.0" r="4.6"/><circle cx="160.5" cy="387.8" r="4.6"/><circle cx="320.3" cy="465.6" r="4.6"/><circle cx="170.1" cy="385.1" r="4.6"/><circle cx="160.2" cy="382.3" r="4.6"/><circle cx="144.2" cy="379.5" r="4.6"/><circle cx="235.0" cy="438.5" r="4.6"/><circle cx="209.4" cy="424.8" r="4.6"/><circle cx="185.6" cy="455.3" r="4.6"/><circle cx="296.6" cy="425.2" r="4.6"/><circle cx="240.0" cy="411.8" r="4.6"/><circle cx="291.1" cy="439.7" r="4.6"/><circle cx="232.4" cy="470.8" r="4.6"/><circle cx="266.3" cy="450.5" r="4.6"/><circle cx="204.6" cy="386.2" r="4.6"/><circle cx="186.2" cy="445.4" r="4.6"/><circle cx="242.2" cy="425.7" r="4.6"/><circle cx="281.5" cy="469.8" r="4.6"/><circle cx="327.5" cy="416.8" r="4.6"/><circle cx="310.4" cy="476.1" r="4.6"/><circle cx="299.0" cy="396.4" r="4.6"/><circle cx="190.9" cy="441.5" r="4.6"/><circle cx="165.8" cy="395.9" r="4.6"/><circle cx="219.3" cy="439.6" r="4.6"/><circle cx="294.9" cy="407.0" r="4.6"/><circle cx="173.4" cy="450.7" r="4.6"/><circle cx="276.5" cy="392.4" r="4.6"/><circle cx="165.3" cy="431.4" r="4.6"/><circle cx="273.6" cy="442.0" r="4.6"/><circle cx="264.5" cy="493.7" r="4.6"/><circle cx="357.2" cy="445.6" r="4.6"/><circle cx="268.7" cy="433.3" r="4.6"/><circle cx="382.9" cy="430.1" r="4.6"/><circle cx="260.1" cy="393.2" r="4.6"/><circle cx="265.7" cy="450.4" r="4.6"/><circle cx="240.8" cy="446.5" r="4.6"/><circle cx="351.7" cy="433.0" r="4.6"/><circle cx="321.3" cy="468.4" r="4.6"/><circle cx="246.8" cy="485.7" r="4.6"/><circle cx="265.5" cy="455.6" r="4.6"/><circle cx="259.6" cy="467.5" r="4.6"/><circle cx="206.9" cy="486.5" r="4.6"/><circle cx="266.7" cy="391.2" r="4.6"/><circle cx="236.0" cy="453.8" r="4.6"/><circle cx="260.5" cy="426.2" r="4.6"/><circle cx="228.1" cy="406.7" r="4.6"/><circle cx="207.9" cy="460.4" r="4.6"/><circle cx="195.5" cy="447.0" r="4.6"/><circle cx="335.1" cy="414.2" r="4.6"/><circle cx="200.3" cy="464.6" r="4.6"/><circle cx="337.5" cy="435.2" r="4.6"/><circle cx="176.7" cy="436.6" r="4.6"/><circle cx="233.7" cy="409.4" r="4.6"/><circle cx="233.7" cy="444.6" r="4.6"/><circle cx="329.1" cy="514.6" r="4.6"/><circle cx="240.4" cy="451.2" r="4.6"/><circle cx="283.8" cy="452.2" r="4.6"/><circle cx="321.0" cy="487.4" r="4.6"/><circle cx="300.5" cy="431.5" r="4.6"/><circle cx="185.9" cy="464.1" r="4.6"/><circle cx="250.6" cy="455.6" r="4.6"/><circle cx="300.0" cy="461.2" r="4.6"/><circle cx="192.2" cy="390.4" r="4.6"/><circle cx="371.0" cy="436.2" r="4.6"/><circle cx="175.5" cy="409.4" r="4.6"/><circle cx="279.6" cy="454.2" r="4.6"/><circle cx="380.5" cy="438.4" r="4.6"/><circle cx="298.9" cy="415.8" r="4.6"/><circle cx="187.2" cy="453.5" r="4.6"/><circle cx="186.4" cy="462.9" r="4.6"/><circle cx="282.8" cy="399.7" r="4.6"/><circle cx="272.2" cy="462.9" r="4.6"/><circle cx="222.6" cy="470.8" r="4.6"/><circle cx="168.8" cy="443.7" r="4.6"/><circle cx="217.2" cy="441.4" r="4.6"/><circle cx="190.3" cy="411.9" r="4.6"/><circle cx="193.8" cy="402.0" r="4.6"/><circle cx="218.1" cy="417.9" r="4.6"/><circle cx="217.2" cy="400.2" r="4.6"/><circle cx="347.9" cy="389.2" r="4.6"/><circle cx="282.3" cy="407.8" r="4.6"/><circle cx="314.8" cy="427.3" r="4.6"/><circle cx="337.5" cy="436.9" r="4.6"/><circle cx="382.4" cy="404.0" r="4.6"/><circle cx="180.9" cy="412.4" r="4.6"/><circle cx="184.9" cy="437.5" r="4.6"/><circle cx="346.5" cy="431.2" r="4.6"/><circle cx="354.1" cy="404.8" r="4.6"/><circle cx="208.5" cy="479.0" r="4.6"/><circle cx="340.3" cy="428.3" r="4.6"/><circle cx="312.3" cy="477.1" r="4.6"/><circle cx="264.8" cy="416.2" r="4.6"/><circle cx="325.3" cy="460.1" r="4.6"/><circle cx="342.1" cy="493.8" r="4.6"/><circle cx="166.0" cy="431.0" r="4.6"/><circle cx="227.4" cy="400.6" r="4.6"/><circle cx="303.2" cy="472.0" r="4.6"/><circle cx="365.1" cy="434.2" r="4.6"/><circle cx="171.0" cy="396.1" r="4.6"/><circle cx="272.5" cy="393.3" r="4.6"/><circle cx="298.6" cy="508.9" r="4.6"/><circle cx="151.3" cy="392.6" r="4.6"/><circle cx="204.5" cy="397.4" r="4.6"/><circle cx="234.1" cy="448.9" r="4.6"/><circle cx="339.8" cy="473.8" r="4.6"/><circle cx="363.4" cy="473.8" r="4.6"/><circle cx="267.7" cy="417.1" r="4.6"/><circle cx="207.1" cy="437.4" r="4.6"/><circle cx="313.9" cy="486.7" r="4.6"/><circle cx="223.8" cy="458.5" r="4.6"/><circle cx="203.2" cy="419.7" r="4.6"/><circle cx="255.4" cy="431.1" r="4.6"/><circle cx="180.1" cy="417.7" r="4.6"/><circle cx="213.4" cy="451.1" r="4.6"/><circle cx="251.1" cy="402.3" r="4.6"/><circle cx="322.6" cy="490.7" r="4.6"/><circle cx="293.8" cy="467.2" r="4.6"/><circle cx="318.7" cy="482.2" r="4.6"/><circle cx="177.8" cy="432.7" r="4.6"/><circle cx="169.9" cy="426.2" r="4.6"/><circle cx="228.9" cy="403.6" r="4.6"/><circle cx="166.0" cy="378.5" r="4.6"/><circle cx="253.4" cy="454.1" r="4.6"/><circle cx="327.7" cy="400.8" r="4.6"/><circle cx="261.0" cy="426.0" r="4.6"/><circle cx="256.2" cy="483.9" r="4.6"/><circle cx="246.9" cy="447.2" r="4.6"/><circle cx="220.1" cy="471.5" r="4.6"/><circle cx="221.6" cy="403.5" r="4.6"/><circle cx="378.3" cy="403.1" r="4.6"/><circle cx="370.7" cy="458.6" r="4.6"/><circle cx="236.7" cy="461.8" r="4.6"/><circle cx="341.7" cy="494.1" r="4.6"/><circle cx="166.6" cy="390.9" r="4.6"/><circle cx="177.3" cy="397.2" r="4.6"/><circle cx="278.1" cy="457.6" r="4.6"/><circle cx="164.4" cy="399.0" r="4.6"/><circle cx="302.2" cy="500.1" r="4.6"/><circle cx="311.2" cy="476.4" r="4.6"/><circle cx="242.0" cy="463.3" r="4.6"/><circle cx="312.4" cy="441.1" r="4.6"/><circle cx="208.1" cy="397.2" r="4.6"/><circle cx="220.7" cy="475.2" r="4.6"/><circle cx="257.8" cy="419.3" r="4.6"/><circle cx="332.1" cy="494.5" r="4.6"/><circle cx="341.4" cy="451.8" r="4.6"/><circle cx="395.9" cy="470.7" r="4.6"/><circle cx="194.2" cy="433.1" r="4.6"/><circle cx="157.0" cy="402.6" r="4.6"/><circle cx="362.7" cy="428.9" r="4.6"/><circle cx="337.9" cy="507.9" r="4.6"/><circle cx="241.7" cy="460.3" r="4.6"/><circle cx="239.3" cy="457.5" r="4.6"/><circle cx="233.7" cy="400.6" r="4.6"/><circle cx="173.5" cy="400.3" r="4.6"/><circle cx="258.1" cy="449.7" r="4.6"/><circle cx="291.1" cy="431.5" r="4.6"/><circle cx="234.7" cy="457.1" r="4.6"/><circle cx="210.1" cy="441.1" r="4.6"/><circle cx="191.0" cy="481.9" r="4.6"/><circle cx="208.0" cy="455.9" r="4.6"/><circle cx="164.4" cy="447.4" r="4.6"/><circle cx="216.2" cy="435.8" r="4.6"/><circle cx="354.2" cy="485.3" r="4.6"/><circle cx="186.7" cy="394.8" r="4.6"/><circle cx="208.7" cy="480.9" r="4.6"/><circle cx="297.0" cy="401.6" r="4.6"/><circle cx="238.6" cy="453.4" r="4.6"/><circle cx="270.2" cy="485.3" r="4.6"/><circle cx="267.5" cy="406.1" r="4.6"/><circle cx="234.5" cy="428.8" r="4.6"/><circle cx="163.7" cy="410.7" r="4.6"/><circle cx="242.3" cy="404.1" r="4.6"/><circle cx="247.4" cy="476.3" r="4.6"/><circle cx="313.5" cy="460.7" r="4.6"/><circle cx="226.6" cy="455.5" r="4.6"/><circle cx="203.2" cy="455.2" r="4.6"/><circle cx="238.3" cy="472.0" r="4.6"/><circle cx="186.5" cy="416.5" r="4.6"/><circle cx="183.7" cy="423.1" r="4.6"/><circle cx="191.2" cy="435.3" r="4.6"/><circle cx="251.1" cy="403.0" r="4.6"/><circle cx="239.3" cy="462.1" r="4.6"/><circle cx="221.8" cy="437.9" r="4.6"/><circle cx="335.1" cy="402.6" r="4.6"/><circle cx="180.6" cy="444.6" r="4.6"/><circle cx="187.9" cy="478.3" r="4.6"/><circle cx="155.5" cy="396.6" r="4.6"/><circle cx="251.0" cy="455.5" r="4.6"/><circle cx="199.4" cy="417.3" r="4.6"/><circle cx="169.7" cy="393.7" r="4.6"/><circle cx="258.8" cy="409.3" r="4.6"/><circle cx="209.0" cy="478.2" r="4.6"/><circle cx="172.7" cy="427.3" r="4.6"/><circle cx="285.0" cy="394.0" r="4.6"/><circle cx="338.9" cy="402.8" r="4.6"/><circle cx="371.9" cy="420.1" r="4.6"/><circle cx="264.2" cy="427.3" r="4.6"/><circle cx="252.7" cy="453.5" r="4.6"/><circle cx="225.7" cy="425.2" r="4.6"/><circle cx="262.0" cy="441.3" r="4.6"/><circle cx="175.4" cy="401.2" r="4.6"/><circle cx="276.6" cy="419.5" r="4.6"/><circle cx="178.8" cy="443.5" r="4.6"/><circle cx="356.8" cy="389.2" r="4.6"/><circle cx="185.0" cy="401.7" r="4.6"/><circle cx="366.7" cy="440.5" r="4.6"/><circle cx="308.0" cy="496.7" r="4.6"/><circle cx="363.4" cy="443.1" r="4.6"/><circle cx="255.2" cy="437.3" r="4.6"/><circle cx="171.3" cy="394.3" r="4.6"/><circle cx="388.8" cy="472.7" r="4.6"/><circle cx="222.9" cy="466.8" r="4.6"/><circle cx="177.2" cy="389.7" r="4.6"/><circle cx="183.3" cy="407.5" r="4.6"/><circle cx="292.8" cy="414.5" r="4.6"/><circle cx="222.6" cy="481.2" r="4.6"/><circle cx="232.7" cy="454.6" r="4.6"/><circle cx="163.3" cy="396.9" r="4.6"/><circle cx="225.7" cy="416.3" r="4.6"/><circle cx="235.2" cy="416.7" r="4.6"/><circle cx="298.6" cy="453.2" r="4.6"/><circle cx="338.2" cy="477.3" r="4.6"/><circle cx="212.1" cy="438.3" r="4.6"/><circle cx="330.0" cy="483.9" r="4.6"/><circle cx="322.3" cy="491.8" r="4.6"/><circle cx="207.5" cy="449.0" r="4.6"/><circle cx="221.4" cy="431.6" r="4.6"/><circle cx="393.6" cy="447.9" r="4.6"/><circle cx="269.9" cy="440.3" r="4.6"/><circle cx="271.5" cy="437.6" r="4.6"/><circle cx="296.0" cy="467.3" r="4.6"/><circle cx="165.4" cy="437.7" r="4.6"/><circle cx="269.6" cy="435.5" r="4.6"/><circle cx="262.7" cy="434.5" r="4.6"/><circle cx="241.6" cy="420.6" r="4.6"/><circle cx="364.2" cy="453.0" r="4.6"/><circle cx="348.3" cy="457.9" r="4.6"/><circle cx="289.8" cy="433.0" r="4.6"/><circle cx="197.1" cy="422.2" r="4.6"/><circle cx="203.8" cy="438.9" r="4.6"/><circle cx="166.3" cy="375.6" r="4.6"/><circle cx="264.3" cy="401.7" r="4.6"/><circle cx="252.2" cy="478.3" r="4.6"/><circle cx="269.8" cy="471.6" r="4.6"/><circle cx="176.5" cy="394.0" r="4.6"/><circle cx="197.4" cy="409.3" r="4.6"/><circle cx="192.9" cy="393.3" r="4.6"/><circle cx="230.3" cy="396.9" r="4.6"/><circle cx="248.2" cy="486.2" r="4.6"/><circle cx="272.5" cy="464.0" r="4.6"/><circle cx="188.0" cy="445.7" r="4.6"/><circle cx="213.1" cy="460.5" r="4.6"/><circle cx="239.9" cy="418.5" r="4.6"/><circle cx="243.2" cy="430.8" r="4.6"/><circle cx="337.5" cy="484.0" r="4.6"/><circle cx="270.4" cy="392.1" r="4.6"/><circle cx="319.7" cy="497.6" r="4.6"/><circle cx="337.7" cy="436.1" r="4.6"/><circle cx="209.3" cy="481.4" r="4.6"/><circle cx="236.3" cy="428.3" r="4.6"/><circle cx="199.3" cy="474.8" r="4.6"/><circle cx="216.3" cy="452.5" r="4.6"/><circle cx="265.8" cy="452.2" r="4.6"/><circle cx="204.1" cy="385.4" r="4.6"/><circle cx="289.0" cy="434.7" r="4.6"/><circle cx="196.1" cy="447.3" r="4.6"/><circle cx="222.0" cy="470.3" r="4.6"/><circle cx="370.2" cy="406.3" r="4.6"/><circle cx="337.8" cy="505.8" r="4.6"/><circle cx="355.4" cy="445.9" r="4.6"/><circle cx="238.9" cy="447.8" r="4.6"/><circle cx="210.9" cy="444.3" r="4.6"/><circle cx="271.5" cy="394.8" r="4.6"/><circle cx="158.0" cy="406.2" r="4.6"/><circle cx="375.3" cy="476.7" r="4.6"/><circle cx="192.6" cy="457.6" r="4.6"/><circle cx="369.7" cy="470.2" r="4.6"/><circle cx="270.6" cy="442.9" r="4.6"/><circle cx="198.1" cy="389.6" r="4.6"/><circle cx="306.6" cy="394.7" r="4.6"/><circle cx="195.9" cy="435.1" r="4.6"/><circle cx="376.6" cy="440.8" r="4.6"/><circle cx="207.6" cy="457.1" r="4.6"/><circle cx="317.4" cy="444.0" r="4.6"/><circle cx="267.8" cy="405.4" r="4.6"/><circle cx="194.9" cy="443.7" r="4.6"/><circle cx="201.1" cy="402.4" r="4.6"/><circle cx="255.9" cy="452.6" r="4.6"/><circle cx="215.5" cy="473.1" r="4.6"/><circle cx="199.4" cy="465.9" r="4.6"/><circle cx="395.0" cy="446.1" r="4.6"/><circle cx="163.4" cy="406.2" r="4.6"/><circle cx="251.7" cy="429.4" r="4.6"/><circle cx="180.7" cy="445.6" r="4.6"/><circle cx="333.6" cy="421.9" r="4.6"/><circle cx="226.4" cy="458.2" r="4.6"/><circle cx="187.9" cy="428.2" r="4.6"/><circle cx="195.2" cy="389.5" r="4.6"/><circle cx="191.5" cy="466.2" r="4.6"/><circle cx="241.4" cy="460.3" r="4.6"/><circle cx="175.0" cy="438.3" r="4.6"/><circle cx="250.4" cy="459.4" r="4.6"/><circle cx="247.8" cy="448.7" r="4.6"/><circle cx="151.8" cy="392.1" r="4.6"/><circle cx="273.3" cy="403.8" r="4.6"/><circle cx="170.3" cy="418.7" r="4.6"/><circle cx="306.6" cy="440.4" r="4.6"/><circle cx="168.8" cy="372.8" r="4.6"/><circle cx="296.8" cy="499.8" r="4.6"/><circle cx="235.4" cy="473.7" r="4.6"/><circle cx="221.3" cy="455.1" r="4.6"/><circle cx="381.2" cy="404.4" r="4.6"/><circle cx="287.3" cy="427.1" r="4.6"/><circle cx="200.0" cy="393.7" r="4.6"/><circle cx="321.2" cy="434.5" r="4.6"/><circle cx="340.6" cy="393.7" r="4.6"/><circle cx="243.0" cy="460.5" r="4.6"/><circle cx="267.2" cy="452.2" r="4.6"/><circle cx="211.3" cy="391.0" r="4.6"/><circle cx="190.1" cy="450.5" r="4.6"/><circle cx="368.0" cy="455.3" r="4.6"/><circle cx="266.5" cy="446.1" r="4.6"/><circle cx="185.4" cy="407.1" r="4.6"/><circle cx="262.7" cy="489.3" r="4.6"/><circle cx="351.7" cy="483.0" r="4.6"/><circle cx="344.1" cy="469.2" r="4.6"/><circle cx="294.2" cy="486.8" r="4.6"/><circle cx="314.3" cy="409.9" r="4.6"/><circle cx="319.5" cy="406.7" r="4.6"/><circle cx="170.6" cy="434.5" r="4.6"/><circle cx="323.0" cy="494.3" r="4.6"/><circle cx="220.9" cy="476.7" r="4.6"/><circle cx="244.1" cy="406.8" r="4.6"/><circle cx="199.4" cy="483.9" r="4.6"/><circle cx="197.9" cy="435.9" r="4.6"/><circle cx="353.3" cy="425.2" r="4.6"/><circle cx="245.3" cy="429.5" r="4.6"/><circle cx="154.4" cy="384.8" r="4.6"/><circle cx="234.6" cy="434.2" r="4.6"/><circle cx="195.5" cy="433.1" r="4.6"/><circle cx="374.4" cy="486.6" r="4.6"/><circle cx="271.3" cy="400.8" r="4.6"/><circle cx="326.2" cy="508.2" r="4.6"/><circle cx="221.7" cy="412.4" r="4.6"/><circle cx="370.3" cy="463.0" r="4.6"/><circle cx="388.4" cy="454.6" r="4.6"/><circle cx="296.6" cy="477.8" r="4.6"/><circle cx="158.8" cy="386.2" r="4.6"/><circle cx="167.4" cy="440.6" r="4.6"/><circle cx="235.0" cy="425.6" r="4.6"/><circle cx="161.4" cy="374.3" r="4.6"/><circle cx="182.5" cy="460.7" r="4.6"/><circle cx="190.6" cy="441.1" r="4.6"/><circle cx="176.2" cy="458.2" r="4.6"/><circle cx="162.2" cy="438.0" r="4.6"/><circle cx="245.1" cy="465.2" r="4.6"/><circle cx="184.2" cy="429.7" r="4.6"/><circle cx="207.2" cy="477.9" r="4.6"/><circle cx="178.1" cy="399.1" r="4.6"/><circle cx="158.5" cy="399.8" r="4.6"/><circle cx="214.4" cy="419.5" r="4.6"/><circle cx="210.2" cy="438.9" r="4.6"/><circle cx="167.3" cy="453.5" r="4.6"/><circle cx="198.1" cy="428.8" r="4.6"/><circle cx="211.2" cy="458.0" r="4.6"/><circle cx="336.0" cy="400.9" r="4.6"/><circle cx="263.5" cy="451.9" r="4.6"/><circle cx="249.1" cy="461.2" r="4.6"/><circle cx="284.0" cy="489.3" r="4.6"/><circle cx="242.5" cy="451.4" r="4.6"/><circle cx="183.9" cy="462.6" r="4.6"/><circle cx="179.6" cy="437.8" r="4.6"/><circle cx="350.7" cy="444.3" r="4.6"/><circle cx="171.5" cy="447.7" r="4.6"/><circle cx="327.3" cy="419.7" r="4.6"/><circle cx="260.2" cy="434.9" r="4.6"/><circle cx="248.5" cy="435.4" r="4.6"/><circle cx="205.6" cy="393.2" r="4.6"/><circle cx="312.4" cy="441.9" r="4.6"/><circle cx="189.4" cy="391.6" r="4.6"/><circle cx="280.7" cy="486.8" r="4.6"/><circle cx="267.5" cy="420.6" r="4.6"/><circle cx="190.9" cy="399.5" r="4.6"/><circle cx="295.2" cy="478.9" r="4.6"/><circle cx="395.2" cy="450.0" r="4.6"/><circle cx="183.5" cy="412.9" r="4.6"/><circle cx="197.7" cy="383.6" r="4.6"/><circle cx="230.5" cy="433.4" r="4.6"/><circle cx="203.4" cy="438.3" r="4.6"/><circle cx="207.9" cy="481.4" r="4.6"/><circle cx="172.1" cy="372.7" r="4.6"/><circle cx="171.8" cy="419.3" r="4.6"/><circle cx="170.0" cy="448.6" r="4.6"/><circle cx="231.0" cy="429.4" r="4.6"/><circle cx="158.3" cy="375.6" r="4.6"/><circle cx="188.9" cy="480.6" r="4.6"/><circle cx="288.6" cy="495.2" r="4.6"/><circle cx="223.8" cy="390.4" r="4.6"/><circle cx="195.5" cy="448.7" r="4.6"/><circle cx="167.4" cy="372.9" r="4.6"/><circle cx="356.8" cy="474.4" r="4.6"/><circle cx="153.0" cy="385.3" r="4.6"/><circle cx="155.2" cy="389.8" r="4.6"/><circle cx="272.5" cy="408.6" r="4.6"/><circle cx="192.3" cy="389.0" r="4.6"/><circle cx="388.5" cy="414.2" r="4.6"/><circle cx="311.1" cy="477.6" r="4.6"/><circle cx="360.2" cy="428.9" r="4.6"/><circle cx="348.8" cy="485.7" r="4.6"/><circle cx="208.6" cy="406.1" r="4.6"/><circle cx="201.1" cy="440.6" r="4.6"/><circle cx="168.5" cy="429.5" r="4.6"/><circle cx="232.5" cy="416.0" r="4.6"/><circle cx="247.6" cy="441.5" r="4.6"/><circle cx="215.6" cy="476.1" r="4.6"/><circle cx="316.0" cy="427.5" r="4.6"/><circle cx="375.0" cy="394.5" r="4.6"/><circle cx="176.1" cy="409.1" r="4.6"/><circle cx="239.6" cy="442.1" r="4.6"/><circle cx="263.4" cy="450.3" r="4.6"/><circle cx="384.9" cy="458.3" r="4.6"/><circle cx="191.0" cy="391.2" r="4.6"/><circle cx="267.0" cy="460.1" r="4.6"/><circle cx="301.1" cy="421.4" r="4.6"/><circle cx="210.1" cy="454.0" r="4.6"/><circle cx="270.0" cy="480.6" r="4.6"/><circle cx="187.3" cy="439.1" r="4.6"/><circle cx="203.9" cy="453.4" r="4.6"/><circle cx="201.5" cy="450.1" r="4.6"/><circle cx="335.5" cy="491.0" r="4.6"/><circle cx="162.0" cy="385.2" r="4.6"/><circle cx="177.9" cy="439.3" r="4.6"/><circle cx="374.5" cy="443.7" r="4.6"/><circle cx="296.7" cy="489.0" r="4.6"/><circle cx="192.4" cy="460.7" r="4.6"/><circle cx="361.2" cy="454.4" r="4.6"/><circle cx="399.9" cy="472.3" r="4.6"/><circle cx="165.0" cy="405.8" r="4.6"/><circle cx="160.6" cy="381.2" r="4.6"/><circle cx="153.5" cy="371.2" r="4.6"/><circle cx="205.6" cy="465.5" r="4.6"/><circle cx="178.7" cy="422.3" r="4.6"/><circle cx="286.5" cy="504.9" r="4.6"/><circle cx="235.7" cy="406.7" r="4.6"/><circle cx="236.6" cy="471.4" r="4.6"/><circle cx="210.9" cy="391.6" r="4.6"/><circle cx="158.9" cy="399.2" r="4.6"/><circle cx="313.1" cy="460.5" r="4.6"/><circle cx="289.6" cy="487.3" r="4.6"/><circle cx="295.2" cy="505.8" r="4.6"/><circle cx="327.9" cy="440.5" r="4.6"/><circle cx="279.2" cy="471.5" r="4.6"/><circle cx="305.0" cy="474.3" r="4.6"/><circle cx="376.6" cy="462.6" r="4.6"/><circle cx="208.9" cy="402.3" r="4.6"/><circle cx="304.0" cy="439.6" r="4.6"/><circle cx="357.3" cy="448.1" r="4.6"/><circle cx="350.4" cy="434.1" r="4.6"/><circle cx="240.1" cy="418.2" r="4.6"/><circle cx="161.7" cy="375.7" r="4.6"/><circle cx="298.1" cy="495.2" r="4.6"/><circle cx="242.6" cy="440.0" r="4.6"/><circle cx="323.4" cy="430.2" r="4.6"/><circle cx="209.8" cy="409.6" r="4.6"/><circle cx="266.6" cy="409.8" r="4.6"/><circle cx="386.3" cy="418.8" r="4.6"/><circle cx="192.6" cy="392.5" r="4.6"/><circle cx="248.0" cy="446.9" r="4.6"/><circle cx="238.9" cy="433.4" r="4.6"/><circle cx="198.3" cy="459.1" r="4.6"/><circle cx="260.4" cy="446.4" r="4.6"/><circle cx="273.6" cy="426.6" r="4.6"/><circle cx="238.6" cy="460.6" r="4.6"/><circle cx="198.1" cy="475.1" r="4.6"/><circle cx="285.5" cy="444.1" r="4.6"/><circle cx="323.9" cy="462.6" r="4.6"/><circle cx="192.4" cy="426.8" r="4.6"/><circle cx="204.2" cy="456.2" r="4.6"/><circle cx="312.9" cy="439.0" r="4.6"/><circle cx="185.0" cy="447.9" r="4.6"/><circle cx="306.8" cy="481.4" r="4.6"/><circle cx="250.1" cy="462.1" r="4.6"/><circle cx="328.9" cy="503.9" r="4.6"/><circle cx="316.3" cy="506.7" r="4.6"/><circle cx="151.5" cy="386.0" r="4.6"/><circle cx="342.5" cy="459.8" r="4.6"/><circle cx="202.8" cy="404.9" r="4.6"/><circle cx="321.1" cy="501.8" r="4.6"/><circle cx="163.4" cy="413.1" r="4.6"/><circle cx="200.3" cy="437.9" r="4.6"/><circle cx="270.8" cy="394.4" r="4.6"/><circle cx="226.3" cy="405.9" r="4.6"/><circle cx="145.4" cy="384.8" r="4.6"/><circle cx="215.9" cy="401.7" r="4.6"/><circle cx="176.8" cy="389.9" r="4.6"/><circle cx="229.4" cy="446.9" r="4.6"/><circle cx="355.1" cy="445.7" r="4.6"/><circle cx="272.9" cy="495.9" r="4.6"/><circle cx="242.4" cy="448.5" r="4.6"/><circle cx="208.8" cy="393.1" r="4.6"/><circle cx="195.6" cy="392.6" r="4.6"/><circle cx="353.4" cy="425.9" r="4.6"/><circle cx="218.8" cy="427.9" r="4.6"/><circle cx="240.9" cy="428.9" r="4.6"/><circle cx="213.4" cy="399.2" r="4.6"/><circle cx="182.5" cy="429.4" r="4.6"/><circle cx="349.2" cy="489.7" r="4.6"/><circle cx="238.3" cy="447.4" r="4.6"/><circle cx="298.1" cy="435.3" r="4.6"/><circle cx="211.7" cy="467.8" r="4.6"/><circle cx="169.0" cy="402.5" r="4.6"/><circle cx="302.5" cy="445.4" r="4.6"/><circle cx="346.8" cy="417.3" r="4.6"/><circle cx="265.6" cy="429.2" r="4.6"/><circle cx="311.1" cy="502.3" r="4.6"/><circle cx="342.4" cy="486.1" r="4.6"/><circle cx="157.6" cy="373.5" r="4.6"/><circle cx="270.1" cy="473.1" r="4.6"/><circle cx="170.6" cy="389.8" r="4.6"/><circle cx="160.8" cy="380.6" r="4.6"/><circle cx="345.7" cy="456.0" r="4.6"/><circle cx="377.5" cy="483.2" r="4.6"/><circle cx="251.2" cy="415.1" r="4.6"/><circle cx="255.9" cy="485.3" r="4.6"/><circle cx="197.5" cy="464.6" r="4.6"/><circle cx="200.0" cy="463.1" r="4.6"/><circle cx="162.0" cy="428.0" r="4.6"/><circle cx="192.8" cy="443.0" r="4.6"/><circle cx="312.3" cy="416.7" r="4.6"/><circle cx="304.1" cy="400.5" r="4.6"/><circle cx="310.3" cy="470.0" r="4.6"/><circle cx="182.2" cy="420.9" r="4.6"/><circle cx="199.0" cy="488.0" r="4.6"/><circle cx="259.8" cy="457.7" r="4.6"/><circle cx="257.6" cy="451.4" r="4.6"/><circle cx="220.0" cy="407.2" r="4.6"/><circle cx="209.5" cy="438.3" r="4.6"/><circle cx="184.1" cy="430.0" r="4.6"/><circle cx="183.7" cy="425.4" r="4.6"/><circle cx="180.1" cy="476.3" r="4.6"/><circle cx="244.9" cy="441.0" r="4.6"/><circle cx="153.5" cy="379.8" r="4.6"/><circle cx="213.5" cy="436.8" r="4.6"/><circle cx="191.3" cy="451.5" r="4.6"/><circle cx="363.4" cy="405.8" r="4.6"/><circle cx="208.5" cy="384.3" r="4.6"/><circle cx="209.2" cy="412.8" r="4.6"/><circle cx="209.8" cy="458.8" r="4.6"/><circle cx="290.3" cy="452.7" r="4.6"/><circle cx="321.9" cy="428.0" r="4.6"/><circle cx="347.9" cy="447.2" r="4.6"/><circle cx="235.0" cy="409.7" r="4.6"/><circle cx="188.8" cy="429.4" r="4.6"/><circle cx="225.4" cy="437.8" r="4.6"/><circle cx="346.8" cy="444.4" r="4.6"/><circle cx="213.9" cy="445.6" r="4.6"/><circle cx="271.2" cy="477.0" r="4.6"/><circle cx="158.4" cy="403.8" r="4.6"/><circle cx="268.5" cy="486.8" r="4.6"/><circle cx="326.1" cy="472.8" r="4.6"/><circle cx="358.7" cy="482.8" r="4.6"/><circle cx="198.0" cy="409.8" r="4.6"/><circle cx="367.9" cy="470.0" r="4.6"/><circle cx="258.7" cy="467.8" r="4.6"/><circle cx="206.5" cy="486.5" r="4.6"/><circle cx="304.4" cy="493.7" r="4.6"/><circle cx="215.9" cy="394.9" r="4.6"/><circle cx="224.8" cy="397.9" r="4.6"/><circle cx="286.7" cy="445.4" r="4.6"/><circle cx="209.4" cy="449.1" r="4.6"/><circle cx="317.4" cy="505.0" r="4.6"/><circle cx="338.2" cy="468.7" r="4.6"/><circle cx="170.9" cy="422.3" r="4.6"/><circle cx="313.4" cy="510.1" r="4.6"/><circle cx="185.8" cy="420.5" r="4.6"/><circle cx="302.7" cy="428.4" r="4.6"/><circle cx="163.8" cy="400.8" r="4.6"/><circle cx="345.9" cy="417.2" r="4.6"/><circle cx="178.2" cy="464.8" r="4.6"/><circle cx="253.1" cy="399.7" r="4.6"/><circle cx="309.0" cy="425.5" r="4.6"/><circle cx="243.4" cy="404.6" r="4.6"/><circle cx="395.2" cy="434.2" r="4.6"/><circle cx="211.5" cy="473.4" r="4.6"/><circle cx="152.6" cy="389.1" r="4.6"/><circle cx="258.9" cy="454.9" r="4.6"/><circle cx="196.1" cy="448.2" r="4.6"/><circle cx="370.7" cy="414.4" r="4.6"/><circle cx="224.7" cy="402.4" r="4.6"/><circle cx="274.8" cy="403.7" r="4.6"/><circle cx="295.0" cy="452.8" r="4.6"/><circle cx="206.8" cy="477.9" r="4.6"/><circle cx="313.9" cy="414.6" r="4.6"/><circle cx="193.8" cy="395.9" r="4.6"/><circle cx="350.2" cy="500.6" r="4.6"/><circle cx="192.3" cy="427.3" r="4.6"/><circle cx="157.6" cy="397.3" r="4.6"/><circle cx="171.8" cy="374.0" r="4.6"/><circle cx="251.7" cy="396.1" r="4.6"/><circle cx="350.5" cy="459.0" r="4.6"/><circle cx="187.8" cy="431.2" r="4.6"/><circle cx="256.6" cy="394.6" r="4.6"/><circle cx="264.2" cy="453.1" r="4.6"/><circle cx="238.7" cy="435.9" r="4.6"/><circle cx="293.4" cy="440.7" r="4.6"/><circle cx="270.5" cy="430.5" r="4.6"/><circle cx="356.7" cy="405.4" r="4.6"/><circle cx="313.5" cy="494.8" r="4.6"/><circle cx="171.7" cy="372.5" r="4.6"/><circle cx="181.1" cy="450.4" r="4.6"/><circle cx="229.3" cy="439.7" r="4.6"/><circle cx="283.6" cy="413.2" r="4.6"/><circle cx="214.9" cy="466.7" r="4.6"/><circle cx="267.8" cy="474.4" r="4.6"/><circle cx="310.4" cy="418.3" r="4.6"/><circle cx="227.0" cy="452.6" r="4.6"/><circle cx="165.9" cy="414.8" r="4.6"/><circle cx="195.2" cy="471.5" r="4.6"/><circle cx="164.3" cy="399.8" r="4.6"/><circle cx="209.7" cy="447.6" r="4.6"/><circle cx="244.7" cy="439.6" r="4.6"/><circle cx="252.2" cy="408.9" r="4.6"/><circle cx="171.2" cy="456.9" r="4.6"/><circle cx="264.7" cy="418.6" r="4.6"/><circle cx="353.6" cy="467.4" r="4.6"/><circle cx="220.1" cy="438.7" r="4.6"/><circle cx="284.0" cy="415.9" r="4.6"/><circle cx="277.0" cy="447.4" r="4.6"/><circle cx="231.7" cy="412.5" r="4.6"/><circle cx="193.0" cy="410.3" r="4.6"/><circle cx="194.7" cy="407.2" r="4.6"/><circle cx="348.9" cy="473.1" r="4.6"/><circle cx="198.4" cy="436.3" r="4.6"/><circle cx="173.1" cy="378.0" r="4.6"/><circle cx="344.0" cy="469.6" r="4.6"/><circle cx="332.6" cy="503.2" r="4.6"/><circle cx="227.8" cy="419.5" r="4.6"/><circle cx="165.2" cy="376.4" r="4.6"/><circle cx="301.5" cy="458.2" r="4.6"/><circle cx="358.2" cy="446.5" r="4.6"/><circle cx="170.6" cy="425.2" r="4.6"/><circle cx="166.2" cy="377.7" r="4.6"/><circle cx="303.7" cy="469.3" r="4.6"/><circle cx="165.9" cy="380.3" r="4.6"/><circle cx="210.2" cy="399.8" r="4.6"/><circle cx="174.5" cy="462.5" r="4.6"/><circle cx="261.8" cy="446.4" r="4.6"/><circle cx="346.4" cy="439.9" r="4.6"/><circle cx="187.3" cy="407.1" r="4.6"/><circle cx="165.0" cy="419.8" r="4.6"/><circle cx="237.7" cy="418.2" r="4.6"/><circle cx="163.7" cy="393.5" r="4.6"/><circle cx="254.1" cy="460.8" r="4.6"/><circle cx="265.0" cy="401.4" r="4.6"/><circle cx="327.4" cy="512.8" r="4.6"/><circle cx="222.9" cy="459.2" r="4.6"/><circle cx="352.1" cy="500.1" r="4.6"/><circle cx="243.3" cy="468.1" r="4.6"/><circle cx="167.9" cy="442.8" r="4.6"/><circle cx="250.2" cy="451.1" r="4.6"/><circle cx="190.8" cy="405.3" r="4.6"/><circle cx="269.7" cy="416.6" r="4.6"/><circle cx="192.7" cy="478.6" r="4.6"/><circle cx="267.1" cy="419.0" r="4.6"/><circle cx="200.9" cy="403.6" r="4.6"/><circle cx="250.6" cy="464.2" r="4.6"/><circle cx="298.0" cy="477.9" r="4.6"/><circle cx="214.5" cy="450.5" r="4.6"/><circle cx="192.8" cy="409.4" r="4.6"/><circle cx="286.5" cy="429.2" r="4.6"/><circle cx="376.6" cy="451.7" r="4.6"/><circle cx="275.6" cy="447.2" r="4.6"/><circle cx="177.7" cy="406.5" r="4.6"/><circle cx="369.5" cy="401.1" r="4.6"/><circle cx="306.0" cy="413.1" r="4.6"/><circle cx="356.3" cy="401.6" r="4.6"/><circle cx="257.0" cy="463.1" r="4.6"/><circle cx="228.1" cy="432.1" r="4.6"/><circle cx="192.8" cy="395.7" r="4.6"/><circle cx="317.2" cy="453.8" r="4.6"/><circle cx="180.9" cy="443.5" r="4.6"/><circle cx="262.7" cy="444.1" r="4.6"/><circle cx="387.4" cy="413.9" r="4.6"/><circle cx="354.8" cy="441.5" r="4.6"/><circle cx="290.8" cy="477.9" r="4.6"/><circle cx="209.2" cy="453.9" r="4.6"/><circle cx="353.4" cy="448.7" r="4.6"/><circle cx="333.6" cy="407.6" r="4.6"/><circle cx="339.4" cy="479.3" r="4.6"/><circle cx="385.3" cy="422.6" r="4.6"/><circle cx="307.2" cy="419.5" r="4.6"/><circle cx="359.2" cy="441.1" r="4.6"/><circle cx="245.4" cy="481.8" r="4.6"/><circle cx="204.7" cy="431.6" r="4.6"/><circle cx="339.1" cy="463.1" r="4.6"/><circle cx="395.1" cy="472.8" r="4.6"/><circle cx="203.0" cy="407.6" r="4.6"/><circle cx="228.7" cy="466.8" r="4.6"/><circle cx="265.6" cy="453.7" r="4.6"/><circle cx="171.0" cy="396.3" r="4.6"/><circle cx="188.3" cy="444.2" r="4.6"/><circle cx="197.8" cy="407.5" r="4.6"/><circle cx="331.1" cy="442.1" r="4.6"/><circle cx="252.9" cy="479.9" r="4.6"/><circle cx="201.4" cy="417.5" r="4.6"/><circle cx="280.5" cy="400.8" r="4.6"/><circle cx="359.8" cy="391.8" r="4.6"/><circle cx="212.4" cy="435.2" r="4.6"/><circle cx="243.7" cy="428.0" r="4.6"/><circle cx="260.6" cy="408.4" r="4.6"/><circle cx="226.1" cy="439.0" r="4.6"/><circle cx="352.3" cy="470.5" r="4.6"/><circle cx="369.9" cy="402.4" r="4.6"/><circle cx="248.3" cy="430.3" r="4.6"/><circle cx="181.0" cy="465.3" r="4.6"/><circle cx="205.5" cy="451.4" r="4.6"/><circle cx="264.6" cy="426.9" r="4.6"/><circle cx="242.4" cy="465.0" r="4.6"/><circle cx="273.6" cy="437.0" r="4.6"/><circle cx="292.0" cy="497.0" r="4.6"/><circle cx="178.0" cy="454.8" r="4.6"/><circle cx="173.7" cy="416.6" r="4.6"/><circle cx="216.5" cy="406.5" r="4.6"/><circle cx="256.5" cy="479.1" r="4.6"/><circle cx="187.3" cy="444.9" r="4.6"/><circle cx="182.8" cy="471.4" r="4.6"/><circle cx="246.7" cy="455.4" r="4.6"/><circle cx="253.9" cy="463.1" r="4.6"/><circle cx="366.2" cy="400.9" r="4.6"/><circle cx="189.6" cy="483.0" r="4.6"/><circle cx="326.0" cy="512.1" r="4.6"/><circle cx="155.4" cy="395.8" r="4.6"/><circle cx="210.1" cy="444.4" r="4.6"/><circle cx="188.6" cy="399.2" r="4.6"/><circle cx="341.5" cy="399.5" r="4.6"/><circle cx="267.7" cy="387.7" r="4.6"/><circle cx="265.7" cy="425.2" r="4.6"/><circle cx="233.8" cy="474.6" r="4.6"/><circle cx="173.9" cy="434.6" r="4.6"/><circle cx="325.2" cy="431.3" r="4.6"/><circle cx="201.8" cy="453.8" r="4.6"/><circle cx="388.3" cy="420.2" r="4.6"/><circle cx="181.9" cy="422.6" r="4.6"/><circle cx="161.5" cy="430.1" r="4.6"/><circle cx="383.3" cy="425.9" r="4.6"/><circle cx="363.3" cy="419.4" r="4.6"/><circle cx="165.7" cy="395.3" r="4.6"/><circle cx="255.3" cy="397.7" r="4.6"/><circle cx="290.5" cy="462.4" r="4.6"/><circle cx="354.9" cy="461.3" r="4.6"/><circle cx="379.8" cy="425.6" r="4.6"/><circle cx="317.9" cy="408.0" r="4.6"/><circle cx="319.1" cy="439.4" r="4.6"/><circle cx="356.4" cy="409.5" r="4.6"/><circle cx="149.0" cy="384.9" r="4.6"/><circle cx="325.4" cy="412.8" r="4.6"/><circle cx="182.0" cy="464.7" r="4.6"/><circle cx="293.1" cy="482.5" r="4.6"/><circle cx="178.3" cy="417.2" r="4.6"/><circle cx="246.6" cy="425.2" r="4.6"/><circle cx="344.0" cy="434.9" r="4.6"/><circle cx="221.4" cy="423.6" r="4.6"/><circle cx="159.8" cy="400.9" r="4.6"/><circle cx="206.6" cy="474.0" r="4.6"/><circle cx="178.5" cy="470.5" r="4.6"/><circle cx="178.1" cy="462.3" r="4.6"/><circle cx="389.2" cy="466.2" r="4.6"/><circle cx="258.9" cy="450.3" r="4.6"/><circle cx="338.0" cy="432.0" r="4.6"/><circle cx="347.5" cy="486.6" r="4.6"/><circle cx="288.5" cy="404.2" r="4.6"/><circle cx="174.2" cy="394.6" r="4.6"/><circle cx="273.1" cy="406.5" r="4.6"/><circle cx="176.4" cy="470.3" r="4.6"/><circle cx="260.6" cy="473.3" r="4.6"/><circle cx="326.9" cy="406.2" r="4.6"/><circle cx="216.4" cy="469.8" r="4.6"/><circle cx="233.3" cy="451.1" r="4.6"/><circle cx="332.1" cy="465.5" r="4.6"/><circle cx="193.6" cy="410.5" r="4.6"/><circle cx="196.1" cy="480.4" r="4.6"/><circle cx="331.5" cy="506.3" r="4.6"/><circle cx="283.8" cy="496.2" r="4.6"/><circle cx="178.0" cy="403.0" r="4.6"/><circle cx="214.2" cy="409.1" r="4.6"/><circle cx="170.3" cy="439.3" r="4.6"/><circle cx="172.6" cy="392.1" r="4.6"/><circle cx="314.0" cy="456.6" r="4.6"/><circle cx="355.5" cy="471.3" r="4.6"/><circle cx="186.8" cy="463.9" r="4.6"/><circle cx="172.1" cy="432.3" r="4.6"/><circle cx="214.0" cy="402.7" r="4.6"/><circle cx="178.9" cy="384.1" r="4.6"/><circle cx="235.7" cy="463.5" r="4.6"/><circle cx="187.4" cy="424.1" r="4.6"/><circle cx="251.9" cy="411.4" r="4.6"/><circle cx="344.5" cy="475.5" r="4.6"/><circle cx="295.2" cy="443.5" r="4.6"/><circle cx="253.1" cy="481.6" r="4.6"/><circle cx="185.1" cy="416.8" r="4.6"/><circle cx="388.8" cy="396.9" r="4.6"/><circle cx="147.9" cy="393.0" r="4.6"/><circle cx="234.2" cy="474.4" r="4.6"/><circle cx="185.6" cy="408.3" r="4.6"/><circle cx="267.0" cy="471.8" r="4.6"/><circle cx="273.0" cy="459.8" r="4.6"/><circle cx="240.0" cy="431.1" r="4.6"/><circle cx="203.8" cy="414.3" r="4.6"/><circle cx="335.1" cy="420.8" r="4.6"/><circle cx="348.4" cy="492.6" r="4.6"/><circle cx="236.7" cy="432.7" r="4.6"/><circle cx="251.1" cy="442.0" r="4.6"/><circle cx="394.2" cy="419.4" r="4.6"/><circle cx="254.1" cy="400.5" r="4.6"/><circle cx="150.7" cy="370.9" r="4.6"/><circle cx="323.6" cy="443.6" r="4.6"/><circle cx="274.1" cy="435.4" r="4.6"/><circle cx="171.2" cy="370.6" r="4.6"/><circle cx="247.7" cy="453.0" r="4.6"/><circle cx="340.6" cy="437.6" r="4.6"/><circle cx="235.8" cy="468.0" r="4.6"/><circle cx="192.0" cy="466.8" r="4.6"/><circle cx="188.8" cy="403.7" r="4.6"/><circle cx="253.3" cy="448.1" r="4.6"/><circle cx="302.4" cy="403.7" r="4.6"/><circle cx="300.1" cy="447.7" r="4.6"/><circle cx="189.2" cy="464.9" r="4.6"/><circle cx="184.8" cy="382.6" r="4.6"/><circle cx="234.1" cy="449.1" r="4.6"/><circle cx="293.3" cy="486.3" r="4.6"/><circle cx="242.9" cy="460.6" r="4.6"/><circle cx="284.3" cy="409.0" r="4.6"/><circle cx="172.8" cy="440.0" r="4.6"/><circle cx="275.4" cy="436.6" r="4.6"/><circle cx="341.7" cy="394.8" r="4.6"/><circle cx="348.0" cy="413.5" r="4.6"/><circle cx="210.8" cy="450.2" r="4.6"/><circle cx="159.4" cy="412.5" r="4.6"/><circle cx="188.7" cy="465.8" r="4.6"/><circle cx="391.2" cy="439.3" r="4.6"/><circle cx="260.9" cy="454.5" r="4.6"/><circle cx="348.4" cy="488.2" r="4.6"/><circle cx="211.4" cy="389.0" r="4.6"/><circle cx="190.7" cy="457.4" r="4.6"/><circle cx="204.6" cy="434.3" r="4.6"/><circle cx="284.2" cy="490.6" r="4.6"/><circle cx="182.7" cy="448.2" r="4.6"/><circle cx="271.9" cy="390.5" r="4.6"/><circle cx="284.4" cy="416.0" r="4.6"/><circle cx="218.0" cy="469.8" r="4.6"/><circle cx="212.7" cy="448.8" r="4.6"/><circle cx="286.6" cy="412.2" r="4.6"/><circle cx="339.4" cy="505.2" r="4.6"/><circle cx="143.6" cy="381.8" r="4.6"/><circle cx="282.0" cy="479.7" r="4.6"/><circle cx="307.4" cy="418.8" r="4.6"/><circle cx="185.1" cy="424.1" r="4.6"/><circle cx="328.1" cy="492.3" r="4.6"/><circle cx="303.3" cy="398.8" r="4.6"/><circle cx="318.8" cy="396.2" r="4.6"/><circle cx="284.2" cy="411.1" r="4.6"/><circle cx="176.4" cy="397.5" r="4.6"/><circle cx="274.2" cy="431.3" r="4.6"/><circle cx="163.1" cy="417.7" r="4.6"/><circle cx="274.6" cy="410.6" r="4.6"/><circle cx="233.9" cy="449.5" r="4.6"/><circle cx="277.6" cy="425.1" r="4.6"/><circle cx="288.2" cy="498.7" r="4.6"/><circle cx="157.4" cy="393.1" r="4.6"/><circle cx="261.7" cy="444.0" r="4.6"/><circle cx="390.1" cy="446.2" r="4.6"/><circle cx="212.1" cy="417.0" r="4.6"/><circle cx="236.6" cy="457.3" r="4.6"/><circle cx="193.3" cy="395.4" r="4.6"/><circle cx="205.3" cy="481.3" r="4.6"/><circle cx="200.2" cy="405.8" r="4.6"/><circle cx="200.2" cy="473.1" r="4.6"/><circle cx="242.8" cy="409.7" r="4.6"/><circle cx="308.3" cy="462.8" r="4.6"/><circle cx="287.0" cy="485.6" r="4.6"/><circle cx="252.4" cy="451.9" r="4.6"/><circle cx="285.2" cy="407.0" r="4.6"/><circle cx="187.5" cy="474.0" r="4.6"/><circle cx="315.9" cy="411.8" r="4.6"/><circle cx="224.2" cy="404.4" r="4.6"/><circle cx="261.9" cy="483.3" r="4.6"/><circle cx="171.6" cy="401.4" r="4.6"/><circle cx="200.7" cy="438.4" r="4.6"/><circle cx="274.2" cy="468.3" r="4.6"/><circle cx="224.1" cy="421.5" r="4.6"/><circle cx="171.4" cy="401.7" r="4.6"/><circle cx="338.2" cy="417.3" r="4.6"/><circle cx="181.4" cy="445.7" r="4.6"/><circle cx="187.9" cy="389.4" r="4.6"/><circle cx="400.4" cy="466.0" r="4.6"/><circle cx="255.6" cy="444.3" r="4.6"/><circle cx="294.3" cy="500.3" r="4.6"/><circle cx="298.0" cy="449.2" r="4.6"/><circle cx="171.8" cy="376.4" r="4.6"/><circle cx="252.7" cy="430.9" r="4.6"/><circle cx="251.3" cy="475.1" r="4.6"/><circle cx="309.2" cy="487.5" r="4.6"/><circle cx="180.1" cy="399.4" r="4.6"/><circle cx="203.2" cy="451.4" r="4.6"/><circle cx="221.8" cy="467.3" r="4.6"/><circle cx="322.3" cy="421.0" r="4.6"/><circle cx="176.1" cy="424.2" r="4.6"/><circle cx="355.8" cy="474.1" r="4.6"/><circle cx="190.3" cy="459.5" r="4.6"/><circle cx="200.0" cy="450.3" r="4.6"/><circle cx="310.1" cy="472.1" r="4.6"/><circle cx="241.0" cy="427.4" r="4.6"/><circle cx="270.2" cy="478.4" r="4.6"/><circle cx="292.5" cy="425.0" r="4.6"/><circle cx="222.6" cy="453.5" r="4.6"/><circle cx="306.6" cy="463.3" r="4.6"/><circle cx="255.4" cy="461.2" r="4.6"/><circle cx="392.7" cy="474.7" r="4.6"/><circle cx="229.9" cy="410.1" r="4.6"/><circle cx="371.4" cy="433.8" r="4.6"/><circle cx="349.6" cy="458.8" r="4.6"/><circle cx="216.7" cy="386.6" r="4.6"/><circle cx="187.5" cy="460.5" r="4.6"/><circle cx="254.7" cy="420.2" r="4.6"/><circle cx="371.4" cy="396.7" r="4.6"/><circle cx="242.1" cy="417.2" r="4.6"/><circle cx="280.4" cy="438.3" r="4.6"/><circle cx="273.7" cy="472.7" r="4.6"/><circle cx="177.9" cy="387.3" r="4.6"/><circle cx="205.4" cy="406.3" r="4.6"/><circle cx="258.3" cy="413.6" r="4.6"/><circle cx="222.5" cy="438.2" r="4.6"/><circle cx="320.3" cy="406.2" r="4.6"/><circle cx="207.5" cy="426.4" r="4.6"/><circle cx="347.0" cy="493.2" r="4.6"/><circle cx="242.0" cy="433.2" r="4.6"/><circle cx="251.3" cy="403.8" r="4.6"/><circle cx="338.6" cy="392.5" r="4.6"/><circle cx="307.8" cy="463.9" r="4.6"/><circle cx="252.7" cy="477.9" r="4.6"/><circle cx="256.5" cy="457.6" r="4.6"/><circle cx="310.1" cy="435.3" r="4.6"/><circle cx="379.4" cy="441.6" r="4.6"/><circle cx="156.0" cy="372.0" r="4.6"/><circle cx="332.8" cy="409.9" r="4.6"/><circle cx="167.8" cy="415.4" r="4.6"/><circle cx="213.9" cy="397.8" r="4.6"/><circle cx="280.9" cy="469.7" r="4.6"/><circle cx="200.6" cy="457.9" r="4.6"/><circle cx="332.3" cy="471.5" r="4.6"/><circle cx="238.3" cy="416.4" r="4.6"/><circle cx="159.9" cy="384.6" r="4.6"/><circle cx="209.5" cy="432.7" r="4.6"/><circle cx="208.9" cy="454.8" r="4.6"/><circle cx="194.9" cy="474.1" r="4.6"/><circle cx="260.9" cy="485.1" r="4.6"/><circle cx="302.3" cy="424.3" r="4.6"/><circle cx="171.7" cy="426.2" r="4.6"/><circle cx="236.7" cy="425.2" r="4.6"/><circle cx="322.6" cy="494.3" r="4.6"/><circle cx="285.3" cy="428.7" r="4.6"/><circle cx="272.5" cy="425.5" r="4.6"/><circle cx="224.5" cy="410.0" r="4.6"/><circle cx="207.1" cy="471.0" r="4.6"/><circle cx="298.9" cy="447.6" r="4.6"/><circle cx="326.2" cy="410.0" r="4.6"/><circle cx="330.0" cy="463.3" r="4.6"/><circle cx="363.7" cy="441.1" r="4.6"/><circle cx="192.0" cy="397.4" r="4.6"/><circle cx="202.0" cy="401.5" r="4.6"/><circle cx="208.8" cy="390.0" r="4.6"/><circle cx="214.0" cy="448.2" r="4.6"/><circle cx="364.5" cy="425.2" r="4.6"/><circle cx="254.0" cy="446.2" r="4.6"/><circle cx="205.7" cy="478.4" r="4.6"/><circle cx="221.7" cy="445.6" r="4.6"/><circle cx="245.7" cy="455.9" r="4.6"/><circle cx="303.5" cy="425.4" r="4.6"/><circle cx="310.9" cy="438.4" r="4.6"/><circle cx="171.0" cy="453.2" r="4.6"/><circle cx="220.5" cy="467.8" r="4.6"/><circle cx="199.6" cy="397.8" r="4.6"/><circle cx="387.3" cy="486.6" r="4.6"/><circle cx="291.5" cy="440.0" r="4.6"/><circle cx="229.4" cy="435.0" r="4.6"/><circle cx="180.6" cy="460.8" r="4.6"/><circle cx="392.6" cy="399.4" r="4.6"/><circle cx="309.4" cy="463.3" r="4.6"/><circle cx="300.5" cy="488.5" r="4.6"/><circle cx="292.3" cy="492.9" r="4.6"/><circle cx="177.7" cy="437.1" r="4.6"/><circle cx="198.0" cy="469.4" r="4.6"/><circle cx="176.4" cy="400.8" r="4.6"/><circle cx="187.4" cy="405.4" r="4.6"/><circle cx="244.6" cy="468.8" r="4.6"/><circle cx="165.6" cy="431.2" r="4.6"/><circle cx="384.7" cy="391.8" r="4.6"/><circle cx="373.1" cy="389.6" r="4.6"/><circle cx="154.2" cy="385.7" r="4.6"/><circle cx="223.0" cy="443.1" r="4.6"/><circle cx="316.9" cy="456.0" r="4.6"/><circle cx="333.3" cy="504.6" r="4.6"/><circle cx="316.4" cy="423.9" r="4.6"/><circle cx="221.3" cy="446.3" r="4.6"/><circle cx="268.1" cy="414.2" r="4.6"/><circle cx="307.6" cy="468.4" r="4.6"/><circle cx="420.3" cy="436.6" r="4.6"/><circle cx="426.0" cy="430.9" r="4.6"/><circle cx="418.4" cy="413.7" r="4.6"/><circle cx="425.8" cy="419.9" r="4.6"/><circle cx="422.6" cy="406.5" r="4.6"/><circle cx="424.5" cy="420.0" r="4.6"/><circle cx="419.2" cy="423.0" r="4.6"/><circle cx="414.5" cy="400.0" r="4.6"/><circle cx="423.8" cy="420.8" r="4.6"/><circle cx="417.8" cy="426.3" r="4.6"/><circle cx="421.7" cy="389.3" r="4.6"/><circle cx="420.6" cy="389.0" r="4.6"/><circle cx="418.2" cy="422.0" r="4.6"/><circle cx="423.8" cy="435.4" r="4.6"/><circle cx="416.5" cy="413.5" r="4.6"/><circle cx="414.8" cy="384.8" r="4.6"/><circle cx="419.3" cy="414.1" r="4.6"/><circle cx="421.8" cy="388.2" r="4.6"/><circle cx="422.5" cy="433.3" r="4.6"/><circle cx="413.9" cy="439.0" r="4.6"/><circle cx="412.1" cy="409.6" r="4.6"/><circle cx="423.0" cy="390.4" r="4.6"/><circle cx="424.1" cy="398.2" r="4.6"/><circle cx="411.8" cy="428.7" r="4.6"/><circle cx="411.1" cy="445.2" r="4.6"/><circle cx="407.2" cy="445.6" r="4.6"/><circle cx="403.3" cy="442.1" r="4.6"/><circle cx="405.5" cy="437.0" r="4.6"/><circle cx="405.2" cy="454.1" r="4.6"/><circle cx="402.9" cy="448.1" r="4.6"/><circle cx="402.9" cy="443.6" r="4.6"/><circle cx="457.6" cy="431.9" r="4.6"/><circle cx="454.2" cy="402.3" r="4.6"/><circle cx="458.8" cy="416.7" r="4.6"/><circle cx="446.9" cy="419.8" r="4.6"/><circle cx="452.2" cy="405.0" r="4.6"/><circle cx="460.4" cy="434.0" r="4.6"/><circle cx="490.6" cy="405.5" r="4.6"/><circle cx="455.8" cy="419.1" r="4.6"/><circle cx="459.2" cy="395.5" r="4.6"/><circle cx="461.7" cy="428.6" r="4.6"/><circle cx="457.3" cy="399.0" r="4.6"/><circle cx="464.9" cy="419.9" r="4.6"/><circle cx="453.2" cy="419.1" r="4.6"/><circle cx="451.9" cy="432.7" r="4.6"/><circle cx="492.3" cy="428.0" r="4.6"/><circle cx="467.4" cy="407.7" r="4.6"/><circle cx="467.7" cy="439.6" r="4.6"/><circle cx="454.9" cy="425.2" r="4.6"/><circle cx="467.0" cy="430.8" r="4.6"/><circle cx="488.2" cy="396.7" r="4.6"/><circle cx="479.7" cy="422.9" r="4.6"/><circle cx="492.2" cy="397.4" r="4.6"/><circle cx="474.6" cy="437.9" r="4.6"/><circle cx="478.7" cy="388.9" r="4.6"/><circle cx="476.2" cy="401.3" r="4.6"/><circle cx="458.9" cy="416.3" r="4.6"/><circle cx="476.0" cy="446.4" r="4.6"/><circle cx="465.4" cy="445.9" r="4.6"/><circle cx="465.6" cy="413.8" r="4.6"/><circle cx="482.4" cy="412.6" r="4.6"/><circle cx="476.0" cy="432.2" r="4.6"/><circle cx="470.7" cy="442.3" r="4.6"/><circle cx="456.5" cy="435.6" r="4.6"/><circle cx="484.5" cy="423.4" r="4.6"/><circle cx="484.1" cy="433.2" r="4.6"/><circle cx="461.4" cy="438.4" r="4.6"/><circle cx="478.7" cy="421.5" r="4.6"/><circle cx="397.6" cy="382.3" r="4.6"/><circle cx="398.5" cy="387.5" r="4.6"/><circle cx="395.9" cy="394.5" r="4.6"/><circle cx="397.6" cy="406.8" r="4.6"/><circle cx="405.5" cy="407.7" r="4.6"/><circle cx="400.3" cy="415.5" r="4.6"/><circle cx="398.5" cy="422.5" r="4.6"/><circle cx="405.5" cy="420.8" r="4.6"/><circle cx="402.0" cy="429.6" r="4.6"/><circle cx="407.3" cy="427.8" r="4.6"/><circle cx="402.0" cy="436.6" r="4.6"/><circle cx="405.5" cy="441.8" r="4.6"/><circle cx="400.3" cy="445.3" r="4.6"/><circle cx="398.5" cy="452.3" r="4.6"/><circle cx="399.4" cy="459.3" r="4.6"/><circle cx="400.3" cy="466.3" r="4.6"/><circle cx="398.5" cy="473.3" r="4.6"/><circle cx="421.3" cy="383.1" r="4.6"/><circle cx="417.8" cy="387.5" r="4.6"/><circle cx="414.3" cy="391.0" r="4.6"/><circle cx="419.5" cy="394.5" r="4.6"/><circle cx="423.0" cy="398.0" r="4.6"/><circle cx="413.4" cy="399.8" r="4.6"/><circle cx="415.1" cy="405.0" r="4.6"/><circle cx="423.0" cy="406.8" r="4.6"/><circle cx="416.0" cy="412.0" r="4.6"/><circle cx="423.9" cy="413.8" r="4.6"/><circle cx="412.5" cy="417.3" r="4.6"/><circle cx="421.3" cy="419.0" r="4.6"/><circle cx="426.5" cy="417.3" r="4.6"/><circle cx="431.8" cy="417.3" r="4.6"/><circle cx="416.0" cy="426.0" r="4.6"/><circle cx="421.3" cy="426.0" r="4.6"/><circle cx="423.0" cy="431.3" r="4.6"/><circle cx="417.8" cy="431.3" r="4.6"/><circle cx="424.8" cy="436.6" r="4.6"/><circle cx="415.1" cy="447.1" r="4.6"/><circle cx="430.0" cy="426.0" r="4.6"/><circle cx="435.3" cy="422.5" r="4.6"/><circle cx="437.0" cy="427.8" r="4.6"/><circle cx="440.5" cy="427.8" r="4.6"/><circle cx="437.0" cy="440.0" r="4.6"/><circle cx="442.3" cy="441.8" r="4.6"/><circle cx="433.5" cy="448.8" r="4.6"/><circle cx="438.8" cy="452.3" r="4.6"/><circle cx="442.3" cy="455.8" r="4.6"/><circle cx="445.8" cy="461.1" r="4.6"/><circle cx="451.0" cy="457.6" r="4.6"/><circle cx="456.3" cy="461.1" r="4.6"/><circle cx="449.3" cy="466.3" r="4.6"/><circle cx="454.6" cy="471.6" r="4.6"/><circle cx="461.6" cy="474.2" r="4.6"/><circle cx="452.8" cy="448.8" r="4.6"/><circle cx="458.1" cy="447.1" r="4.6"/><circle cx="449.3" cy="399.8" r="4.6"/><circle cx="452.8" cy="396.3" r="4.6"/><circle cx="447.5" cy="410.3" r="4.6"/><circle cx="454.6" cy="412.0" r="4.6"/><circle cx="447.5" cy="422.5" r="4.6"/><circle cx="451.0" cy="426.0" r="4.6"/><circle cx="456.3" cy="424.3" r="4.6"/><circle cx="458.1" cy="433.1" r="4.6"/><circle cx="465.1" cy="433.1" r="4.6"/><circle cx="463.3" cy="441.8" r="4.6"/><circle cx="468.6" cy="443.6" r="4.6"/><circle cx="473.8" cy="436.6" r="4.6"/><circle cx="477.3" cy="438.3" r="4.6"/><circle cx="480.8" cy="440.0" r="4.6"/><circle cx="472.1" cy="448.8" r="4.6"/><circle cx="480.8" cy="453.2" r="4.6"/><circle cx="461.6" cy="405.0" r="4.6"/><circle cx="465.1" cy="401.5" r="4.6"/><circle cx="470.3" cy="401.5" r="4.6"/><circle cx="475.6" cy="403.3" r="4.6"/><circle cx="479.1" cy="405.0" r="4.6"/><circle cx="468.6" cy="410.3" r="4.6"/><circle cx="473.8" cy="412.0" r="4.6"/><circle cx="479.1" cy="417.3" r="4.6"/><circle cx="482.6" cy="413.8" r="4.6"/><circle cx="486.1" cy="417.3" r="4.6"/><circle cx="470.3" cy="420.8" r="4.6"/><circle cx="477.3" cy="424.3" r="4.6"/><circle cx="482.6" cy="426.0" r="4.6"/><circle cx="489.6" cy="424.3" r="4.6"/><circle cx="490.5" cy="427.8" r="4.6"/><circle cx="487.8" cy="410.3" r="4.6"/><circle cx="493.1" cy="405.0" r="4.6"/><circle cx="496.6" cy="401.5" r="4.6"/><circle cx="498.3" cy="410.3" r="4.6"/><circle cx="487.8" cy="399.8" r="4.6"/><circle cx="493.1" cy="399.8" r="4.6"/><circle cx="482.6" cy="396.3" r="4.6"/><circle cx="477.3" cy="394.5" r="4.6"/><circle cx="472.1" cy="385.8" r="4.6"/><circle cx="477.3" cy="389.3" r="4.6"/><circle cx="484.3" cy="385.8" r="4.6"/><circle cx="489.6" cy="384.0" r="4.6"/><circle cx="493.1" cy="384.0" r="4.6"/><circle cx="461.6" cy="398.0" r="4.6"/><circle cx="465.1" cy="392.8" r="4.6"/><circle cx="468.6" cy="398.0" r="4.6"/><circle cx="458.1" cy="420.8" r="4.6"/><circle cx="461.6" cy="415.5" r="4.6"/><circle cx="452.8" cy="405.0" r="4.6"/><circle cx="444.0" cy="401.5" r="4.6"/><circle cx="430.0" cy="427.8" r="4.6"/><circle cx="435.3" cy="433.1" r="4.6"/><circle cx="444.0" cy="433.1" r="4.6"/><circle cx="449.3" cy="436.6" r="4.6"/><circle cx="447.5" cy="441.8" r="4.6"/><circle cx="452.8" cy="440.0" r="4.6"/><circle cx="416.8" cy="447.7" r="4.6"/><circle cx="433.0" cy="449.6" r="4.6"/><circle cx="438.7" cy="453.5" r="4.6"/><circle cx="444.5" cy="464.0" r="4.6"/><circle cx="448.3" cy="467.8" r="4.6"/><circle cx="455.0" cy="471.6" r="4.6"/><circle cx="461.7" cy="474.5" r="4.6"/><circle cx="453.1" cy="458.2" r="4.6"/><circle cx="457.9" cy="463.0" r="4.6"/><circle cx="396.7" cy="488.8" r="4.6"/><circle cx="398.6" cy="481.2" r="4.6"/><circle cx="399.6" cy="466.8" r="4.6"/><circle cx="393.8" cy="473.5" r="4.6"/><circle cx="492.8" cy="383.1" r="4.6"/><circle cx="486.1" cy="386.0" r="4.6"/><circle cx="471.8" cy="386.0" r="4.6"/><circle cx="496.6" cy="409.8" r="4.6"/><circle cx="492.8" cy="402.2" r="4.6"/><circle cx="490.9" cy="425.1" r="4.6"/><circle cx="483.2" cy="423.2" r="4.6"/><circle cx="475.6" cy="419.4" r="4.6"/><circle cx="462.2" cy="419.4" r="4.6"/><circle cx="452.6" cy="421.3" r="4.6"/><circle cx="456.5" cy="430.9" r="4.6"/><circle cx="471.8" cy="432.8" r="4.6"/><circle cx="464.1" cy="434.7" r="4.6"/><circle cx="267.8" cy="374.5" r="4.6"/><circle cx="277.9" cy="376.2" r="4.6"/><circle cx="287.2" cy="376.2" r="4.6"/><circle cx="304.8" cy="382.1" r="4.6"/><circle cx="256.0" cy="385.5" r="4.6"/><circle cx="219.8" cy="378.7" r="4.6"/><circle cx="187.8" cy="386.3" r="4.6"/><circle cx="173.5" cy="356.8" r="4.6"/><circle cx="242.5" cy="393.9" r="4.6"/><circle cx="290.1" cy="385.4" r="4.6"/><circle cx="329.8" cy="375.5" r="4.6"/><circle cx="333.7" cy="383.5" r="4.6"/><circle cx="345.1" cy="387.3" r="4.6"/><circle cx="357.6" cy="380.7" r="4.6"/><circle cx="354.7" cy="385.4" r="4.6"/><circle cx="368.5" cy="388.3" r="4.6"/><circle cx="381.5" cy="386.4" r="4.6"/><circle cx="396.8" cy="383.5" r="4.6"/><circle cx="322.2" cy="391.2" r="4.6"/><circle cx="275.4" cy="513.6" r="4.6"/><circle cx="280.1" cy="509.8" r="4.6"/><circle cx="297.3" cy="504.0" r="4.6"/><circle cx="295.4" cy="509.8" r="4.6"/><circle cx="302.1" cy="516.5" r="4.6"/><circle cx="314.6" cy="513.6" r="4.6"/><circle cx="316.5" cy="519.3" r="4.6"/><circle cx="319.3" cy="526.0" r="4.6"/><circle cx="329.8" cy="519.3" r="4.6"/><circle cx="340.4" cy="516.5" r="4.6"/><circle cx="346.1" cy="512.6" r="4.6"/><circle cx="352.8" cy="499.3" r="4.6"/><circle cx="380.5" cy="496.4" r="4.6"/><circle cx="394.8" cy="473.5" r="4.6"/><circle cx="385.3" cy="484.0" r="4.6"/><circle cx="373.8" cy="480.1" r="4.6"/><circle cx="362.3" cy="478.2" r="4.6"/><circle cx="247.6" cy="493.5" r="4.6"/><circle cx="266.8" cy="492.6" r="4.6"/><circle cx="277.3" cy="496.4" r="4.6"/><circle cx="285.9" cy="502.1" r="4.6"/><circle cx="186.5" cy="495.0" r="4.6"/><circle cx="198.5" cy="496.0" r="4.6"/><circle cx="208.6" cy="494.0" r="4.6"/><circle cx="216.8" cy="495.0" r="4.6"/><circle cx="245.0" cy="494.0" r="4.6"/><circle cx="256.0" cy="495.0" r="4.6"/></g><g fill="#800080" fill-opacity="0.6"><circle cx="653.0" cy="219.4" r="4.6"/><circle cx="645.1" cy="224.4" r="4.6"/><circle cx="650.8" cy="222.9" r="4.6"/><circle cx="653.7" cy="225.1" r="4.6"/><circle cx="649.4" cy="229.4" r="4.6"/><circle cx="648.0" cy="233.0" r="4.6"/><circle cx="661.6" cy="231.5" r="4.6"/><circle cx="668.8" cy="221.5" r="4.6"/><circle cx="670.9" cy="230.8" r="4.6"/><circle cx="663.7" cy="235.1" r="4.6"/><circle cx="666.6" cy="239.4" r="4.6"/><circle cx="645.8" cy="240.9" r="4.6"/><circle cx="652.3" cy="240.9" r="4.6"/><circle cx="649.4" cy="248.7" r="4.6"/><circle cx="656.6" cy="248.7" r="4.6"/><circle cx="647.3" cy="251.6" r="4.6"/><circle cx="668.0" cy="248.7" r="4.6"/><circle cx="670.9" cy="254.5" r="4.6"/><circle cx="663.7" cy="254.5" r="4.6"/><circle cx="653.7" cy="257.3" r="4.6"/><circle cx="660.9" cy="260.2" r="4.6"/><circle cx="638.0" cy="260.2" r="4.6"/><circle cx="643.7" cy="263.1" r="4.6"/><circle cx="648.0" cy="264.5" r="4.6"/><circle cx="640.8" cy="267.4" r="4.6"/><circle cx="636.5" cy="273.1" r="4.6"/><circle cx="640.1" cy="276.0" r="4.6"/><circle cx="648.0" cy="273.1" r="4.6"/><circle cx="653.7" cy="267.4" r="4.6"/><circle cx="665.2" cy="264.5" r="4.6"/><circle cx="669.5" cy="270.3" r="4.6"/><circle cx="649.4" cy="282.4" r="4.6"/><circle cx="630.8" cy="286.0" r="4.6"/><circle cx="653.7" cy="286.0" r="4.6"/><circle cx="675.2" cy="271.7" r="4.6"/><circle cx="681.0" cy="274.6" r="4.6"/><circle cx="683.8" cy="271.7" r="4.6"/><circle cx="679.5" cy="257.3" r="4.6"/><circle cx="682.4" cy="251.6" r="4.6"/><circle cx="683.8" cy="260.2" r="4.6"/><circle cx="689.6" cy="260.2" r="4.6"/><circle cx="686.7" cy="254.5" r="4.6"/><circle cx="691.0" cy="253.0" r="4.6"/><circle cx="698.2" cy="257.3" r="4.6"/><circle cx="689.6" cy="244.4" r="4.6"/><circle cx="695.3" cy="244.4" r="4.6"/><circle cx="683.1" cy="235.8" r="4.6"/><circle cx="691.0" cy="227.2" r="4.6"/><circle cx="695.3" cy="231.5" r="4.6"/><circle cx="692.4" cy="235.8" r="4.6"/><circle cx="701.0" cy="228.7" r="4.6"/><circle cx="706.8" cy="231.5" r="4.6"/><circle cx="713.9" cy="228.7" r="4.6"/><circle cx="696.7" cy="211.5" r="4.6"/><circle cx="703.9" cy="210.0" r="4.6"/><circle cx="713.9" cy="210.0" r="4.6"/><circle cx="702.5" cy="220.1" r="4.6"/><circle cx="708.2" cy="218.6" r="4.6"/><circle cx="716.8" cy="218.6" r="4.6"/><circle cx="709.6" cy="240.1" r="4.6"/><circle cx="721.1" cy="240.1" r="4.6"/><circle cx="708.2" cy="248.7" r="4.6"/><circle cx="715.4" cy="247.3" r="4.6"/><circle cx="712.5" cy="254.5" r="4.6"/><circle cx="718.2" cy="254.5" r="4.6"/><circle cx="706.8" cy="258.8" r="4.6"/><circle cx="715.4" cy="263.1" r="4.6"/><circle cx="724.0" cy="258.8" r="4.6"/><circle cx="724.0" cy="267.4" r="4.6"/><circle cx="715.4" cy="274.6" r="4.6"/><circle cx="703.9" cy="267.4" r="4.6"/><circle cx="635.5" cy="274.0" r="4.6"/><circle cx="641.8" cy="274.8" r="4.6"/><circle cx="649.8" cy="282.7" r="4.6"/><circle cx="646.6" cy="279.5" r="4.6"/><circle cx="630.7" cy="287.5" r="4.6"/><circle cx="638.6" cy="292.3" r="4.6"/><circle cx="648.2" cy="293.9" r="4.6"/><circle cx="632.3" cy="299.4" r="4.6"/><circle cx="641.8" cy="301.8" r="4.6"/><circle cx="647.4" cy="305.0" r="4.6"/><circle cx="653.0" cy="300.2" r="4.6"/><circle cx="659.3" cy="297.1" r="4.6"/><circle cx="657.7" cy="301.8" r="4.6"/><circle cx="662.5" cy="304.2" r="4.6"/><circle cx="627.5" cy="306.6" r="4.6"/><circle cx="635.5" cy="309.8" r="4.6"/><circle cx="641.8" cy="313.0" r="4.6"/><circle cx="649.8" cy="313.0" r="4.6"/><circle cx="654.6" cy="313.0" r="4.6"/><circle cx="659.3" cy="314.6" r="4.6"/><circle cx="621.9" cy="313.0" r="4.6"/><circle cx="625.9" cy="319.3" r="4.6"/><circle cx="632.3" cy="322.5" r="4.6"/><circle cx="640.2" cy="319.3" r="4.6"/><circle cx="648.2" cy="324.1" r="4.6"/><circle cx="651.4" cy="327.3" r="4.6"/><circle cx="625.9" cy="330.5" r="4.6"/><circle cx="635.5" cy="330.5" r="4.6"/><circle cx="643.4" cy="328.9" r="4.6"/><circle cx="660.9" cy="330.5" r="4.6"/><circle cx="653.0" cy="333.7" r="4.6"/><circle cx="630.7" cy="336.8" r="4.6"/><circle cx="640.2" cy="338.4" r="4.6"/><circle cx="632.3" cy="346.4" r="4.6"/><circle cx="638.6" cy="344.8" r="4.6"/><circle cx="645.0" cy="344.8" r="4.6"/><circle cx="648.2" cy="348.0" r="4.6"/><circle cx="654.6" cy="343.2" r="4.6"/><circle cx="657.7" cy="341.6" r="4.6"/><circle cx="653.0" cy="356.0" r="4.6"/><circle cx="638.6" cy="363.9" r="4.6"/><circle cx="676.8" cy="332.9" r="4.6"/><circle cx="670.5" cy="295.5" r="4.6"/><circle cx="675.3" cy="298.6" r="4.6"/><circle cx="676.8" cy="303.4" r="4.6"/><circle cx="672.1" cy="308.2" r="4.6"/><circle cx="680.0" cy="309.8" r="4.6"/><circle cx="668.9" cy="314.6" r="4.6"/><circle cx="672.1" cy="317.7" r="4.6"/><circle cx="678.4" cy="314.6" r="4.6"/><circle cx="686.4" cy="297.1" r="4.6"/><circle cx="689.6" cy="301.8" r="4.6"/><circle cx="692.8" cy="297.1" r="4.6"/><circle cx="689.6" cy="308.2" r="4.6"/><circle cx="692.8" cy="311.4" r="4.6"/><circle cx="691.2" cy="317.7" r="4.6"/><circle cx="683.2" cy="317.7" r="4.6"/><circle cx="668.9" cy="322.5" r="4.6"/><circle cx="662.5" cy="320.9" r="4.6"/><circle cx="680.0" cy="305.0" r="4.6"/><circle cx="715.0" cy="274.8" r="4.6"/><circle cx="723.0" cy="270.0" r="4.6"/><circle cx="639.4" cy="364.8" r="4.6"/><circle cx="660.0" cy="282.0" r="4.6"/><circle cx="665.0" cy="290.0" r="4.6"/><circle cx="674.0" cy="285.0" r="4.6"/><circle cx="680.0" cy="290.0" r="4.6"/><circle cx="686.0" cy="284.0" r="4.6"/><circle cx="692.0" cy="288.0" r="4.6"/><circle cx="672.0" cy="278.0" r="4.6"/><circle cx="661.0" cy="275.0" r="4.6"/><circle cx="658.0" cy="268.0" r="4.6"/><circle cx="651.4" cy="217.4" r="4.6"/><circle cx="651.9" cy="223.2" r="4.6"/><circle cx="655.1" cy="225.6" r="4.6"/><circle cx="666.7" cy="219.4" r="4.6"/><circle cx="664.6" cy="235.8" r="4.6"/><circle cx="668.3" cy="236.6" r="4.6"/><circle cx="650.8" cy="250.1" r="4.6"/><circle cx="657.6" cy="246.4" r="4.6"/><circle cx="662.6" cy="255.2" r="4.6"/><circle cx="663.2" cy="262.3" r="4.6"/><circle cx="635.9" cy="261.2" r="4.6"/><circle cx="644.7" cy="263.1" r="4.6"/><circle cx="645.1" cy="262.3" r="4.6"/><circle cx="642.2" cy="267.0" r="4.6"/><circle cx="642.4" cy="276.9" r="4.6"/><circle cx="645.8" cy="270.5" r="4.6"/><circle cx="655.9" cy="269.6" r="4.6"/><circle cx="670.5" cy="268.1" r="4.6"/><circle cx="683.1" cy="277.4" r="4.6"/><circle cx="683.4" cy="273.1" r="4.6"/><circle cx="682.1" cy="254.4" r="4.6"/><circle cx="682.1" cy="261.3" r="4.6"/><circle cx="692.0" cy="259.2" r="4.6"/><circle cx="693.3" cy="254.5" r="4.6"/><circle cx="687.6" cy="241.6" r="4.6"/><circle cx="696.3" cy="241.8" r="4.6"/><circle cx="683.5" cy="233.7" r="4.6"/><circle cx="689.4" cy="228.3" r="4.6"/><circle cx="698.3" cy="232.1" r="4.6"/><circle cx="701.0" cy="231.5" r="4.6"/><circle cx="697.2" cy="214.2" r="4.6"/><circle cx="714.8" cy="208.1" r="4.6"/><circle cx="716.9" cy="219.2" r="4.6"/><circle cx="710.7" cy="242.6" r="4.6"/><circle cx="706.1" cy="250.8" r="4.6"/><circle cx="707.3" cy="257.6" r="4.6"/><circle cx="724.0" cy="268.0" r="4.6"/><circle cx="713.5" cy="274.4" r="4.6"/><circle cx="703.9" cy="270.0" r="4.6"/><circle cx="643.8" cy="276.1" r="4.6"/><circle cx="648.2" cy="277.7" r="4.6"/><circle cx="637.8" cy="290.3" r="4.6"/><circle cx="634.5" cy="299.5" r="4.6"/><circle cx="642.7" cy="302.0" r="4.6"/><circle cx="649.3" cy="303.6" r="4.6"/><circle cx="654.6" cy="301.6" r="4.6"/><circle cx="657.4" cy="297.3" r="4.6"/><circle cx="658.8" cy="301.7" r="4.6"/><circle cx="663.8" cy="302.3" r="4.6"/><circle cx="627.4" cy="308.1" r="4.6"/><circle cx="651.1" cy="310.6" r="4.6"/><circle cx="652.0" cy="315.0" r="4.6"/><circle cx="634.1" cy="320.0" r="4.6"/><circle cx="639.3" cy="321.5" r="4.6"/><circle cx="646.2" cy="321.6" r="4.6"/><circle cx="628.3" cy="329.4" r="4.6"/><circle cx="645.8" cy="331.7" r="4.6"/><circle cx="640.7" cy="346.5" r="4.6"/><circle cx="643.0" cy="347.2" r="4.6"/><circle cx="648.4" cy="350.3" r="4.6"/><circle cx="653.1" cy="344.3" r="4.6"/><circle cx="656.3" cy="342.8" r="4.6"/><circle cx="640.5" cy="365.4" r="4.6"/><circle cx="675.0" cy="333.9" r="4.6"/><circle cx="669.0" cy="297.6" r="4.6"/><circle cx="672.9" cy="300.7" r="4.6"/><circle cx="671.5" cy="308.5" r="4.6"/><circle cx="669.8" cy="313.0" r="4.6"/><circle cx="681.1" cy="314.3" r="4.6"/><circle cx="687.8" cy="300.6" r="4.6"/><circle cx="690.8" cy="296.6" r="4.6"/><circle cx="690.0" cy="311.0" r="4.6"/><circle cx="677.5" cy="307.4" r="4.6"/><circle cx="688.7" cy="284.4" r="4.6"/><circle cx="691.6" cy="286.6" r="4.6"/><circle cx="672.7" cy="278.7" r="4.6"/><circle cx="663.5" cy="277.4" r="4.6"/></g><g fill="#ff0000" fill-opacity="0.6"><circle cx="595.8" cy="301.1" r="4.6"/><circle cx="592.6" cy="306.5" r="4.6"/><circle cx="589.4" cy="310.8" r="4.6"/><circle cx="594.8" cy="311.9" r="4.6"/><circle cx="592.6" cy="317.2" r="4.6"/><circle cx="585.1" cy="321.5" r="4.6"/><circle cx="578.6" cy="325.8" r="4.6"/><circle cx="589.4" cy="324.8" r="4.6"/><circle cx="595.8" cy="323.7" r="4.6"/><circle cx="598.0" cy="330.1" r="4.6"/><circle cx="583.0" cy="334.4" r="4.6"/><circle cx="590.5" cy="333.4" r="4.6"/><circle cx="580.8" cy="340.9" r="4.6"/><circle cx="587.2" cy="340.9" r="4.6"/><circle cx="594.8" cy="338.7" r="4.6"/><circle cx="573.3" cy="348.4" r="4.6"/><circle cx="578.6" cy="349.5" r="4.6"/><circle cx="585.1" cy="347.3" r="4.6"/><circle cx="571.1" cy="361.3" r="4.6"/><circle cx="576.5" cy="361.3" r="4.6"/><circle cx="583.0" cy="360.2" r="4.6"/><circle cx="589.4" cy="362.4" r="4.6"/><circle cx="593.7" cy="362.4" r="4.6"/><circle cx="609.8" cy="295.7" r="4.6"/><circle cx="618.4" cy="293.6" r="4.6"/><circle cx="621.6" cy="301.1" r="4.6"/><circle cx="612.0" cy="307.6" r="4.6"/><circle cx="618.4" cy="307.6" r="4.6"/><circle cx="610.9" cy="314.0" r="4.6"/><circle cx="615.2" cy="319.4" r="4.6"/><circle cx="608.7" cy="325.8" r="4.6"/><circle cx="615.2" cy="325.8" r="4.6"/><circle cx="606.6" cy="332.3" r="4.6"/><circle cx="613.0" cy="336.6" r="4.6"/><circle cx="619.5" cy="340.9" r="4.6"/><circle cx="617.3" cy="347.3" r="4.6"/><circle cx="609.8" cy="349.5" r="4.6"/><circle cx="621.6" cy="353.8" r="4.6"/><circle cx="614.1" cy="359.2" r="4.6"/><circle cx="619.5" cy="360.2" r="4.6"/><circle cx="616.3" cy="367.8" r="4.6"/><circle cx="574.3" cy="372.1" r="4.6"/><circle cx="585.1" cy="373.1" r="4.6"/><circle cx="592.6" cy="375.3" r="4.6"/><circle cx="578.6" cy="378.5" r="4.6"/><circle cx="600.1" cy="379.6" r="4.6"/><circle cx="572.2" cy="386.0" r="4.6"/><circle cx="587.2" cy="383.9" r="4.6"/><circle cx="598.0" cy="383.9" r="4.6"/><circle cx="580.8" cy="390.3" r="4.6"/><circle cx="585.1" cy="392.5" r="4.6"/><circle cx="571.1" cy="401.1" r="4.6"/><circle cx="578.6" cy="396.8" r="4.6"/><circle cx="595.8" cy="390.3" r="4.6"/><circle cx="596.9" cy="394.6" r="4.6"/><circle cx="583.0" cy="403.2" r="4.6"/><circle cx="600.1" cy="402.2" r="4.6"/><circle cx="578.6" cy="414.0" r="4.6"/><circle cx="575.4" cy="407.5" r="4.6"/><circle cx="594.6" cy="352.0" r="4.6"/><circle cx="600.0" cy="345.0" r="4.6"/><circle cx="603.0" cy="356.0" r="4.6"/><circle cx="588.0" cy="354.0" r="4.6"/><circle cx="598.0" cy="368.0" r="4.6"/><circle cx="606.0" cy="318.0" r="4.6"/><circle cx="593.4" cy="300.0" r="4.6"/><circle cx="593.8" cy="307.4" r="4.6"/><circle cx="587.3" cy="310.4" r="4.6"/><circle cx="593.4" cy="311.9" r="4.6"/><circle cx="591.1" cy="317.9" r="4.6"/><circle cx="583.7" cy="321.9" r="4.6"/><circle cx="576.1" cy="327.3" r="4.6"/><circle cx="588.6" cy="323.1" r="4.6"/><circle cx="596.0" cy="328.1" r="4.6"/><circle cx="583.5" cy="335.9" r="4.6"/><circle cx="590.7" cy="335.8" r="4.6"/><circle cx="581.1" cy="342.5" r="4.6"/><circle cx="589.0" cy="341.3" r="4.6"/><circle cx="592.5" cy="337.3" r="4.6"/><circle cx="571.2" cy="347.1" r="4.6"/><circle cx="577.5" cy="350.2" r="4.6"/><circle cx="584.5" cy="345.8" r="4.6"/><circle cx="573.3" cy="362.0" r="4.6"/><circle cx="574.9" cy="362.4" r="4.6"/><circle cx="582.4" cy="362.6" r="4.6"/><circle cx="589.7" cy="363.3" r="4.6"/><circle cx="595.1" cy="361.0" r="4.6"/><circle cx="608.9" cy="294.5" r="4.6"/><circle cx="620.6" cy="295.5" r="4.6"/><circle cx="622.4" cy="300.6" r="4.6"/><circle cx="617.2" cy="306.3" r="4.6"/><circle cx="609.7" cy="314.4" r="4.6"/><circle cx="614.7" cy="318.0" r="4.6"/><circle cx="613.2" cy="323.5" r="4.6"/><circle cx="607.2" cy="333.8" r="4.6"/><circle cx="610.8" cy="336.0" r="4.6"/><circle cx="619.7" cy="349.1" r="4.6"/><circle cx="610.9" cy="350.4" r="4.6"/><circle cx="620.4" cy="354.5" r="4.6"/><circle cx="613.8" cy="359.0" r="4.6"/><circle cx="615.1" cy="367.8" r="4.6"/><circle cx="576.4" cy="374.0" r="4.6"/><circle cx="585.8" cy="373.6" r="4.6"/><circle cx="593.9" cy="375.5" r="4.6"/><circle cx="578.8" cy="376.0" r="4.6"/><circle cx="597.7" cy="381.7" r="4.6"/><circle cx="573.9" cy="385.0" r="4.6"/><circle cx="589.1" cy="386.1" r="4.6"/><circle cx="597.9" cy="381.7" r="4.6"/><circle cx="582.1" cy="388.4" r="4.6"/><circle cx="585.3" cy="391.3" r="4.6"/><circle cx="570.7" cy="399.7" r="4.6"/><circle cx="579.7" cy="395.3" r="4.6"/><circle cx="598.3" cy="391.0" r="4.6"/><circle cx="597.0" cy="392.7" r="4.6"/><circle cx="582.2" cy="403.6" r="4.6"/><circle cx="598.7" cy="400.1" r="4.6"/><circle cx="577.2" cy="416.0" r="4.6"/><circle cx="573.3" cy="406.2" r="4.6"/><circle cx="593.2" cy="350.2" r="4.6"/><circle cx="602.9" cy="357.4" r="4.6"/><circle cx="586.5" cy="352.0" r="4.6"/><circle cx="597.6" cy="367.8" r="4.6"/><circle cx="606.9" cy="320.4" r="4.6"/></g><g fill="#808000" fill-opacity="0.6"><circle cx="526.8" cy="363.4" r="4.6"/><circle cx="525.2" cy="366.8" r="4.6"/><circle cx="533.5" cy="370.9" r="4.6"/><circle cx="546.0" cy="363.4" r="4.6"/><circle cx="555.3" cy="363.4" r="4.6"/><circle cx="560.3" cy="360.0" r="4.6"/><circle cx="556.9" cy="373.4" r="4.6"/><circle cx="561.1" cy="376.0" r="4.6"/><circle cx="530.2" cy="379.3" r="4.6"/><circle cx="537.7" cy="381.0" r="4.6"/><circle cx="546.9" cy="378.5" r="4.6"/><circle cx="550.2" cy="381.8" r="4.6"/><circle cx="501.7" cy="384.3" r="4.6"/><circle cx="500.0" cy="388.5" r="4.6"/><circle cx="510.1" cy="381.8" r="4.6"/><circle cx="516.8" cy="384.3" r="4.6"/><circle cx="521.8" cy="384.3" r="4.6"/><circle cx="515.1" cy="390.2" r="4.6"/><circle cx="505.1" cy="397.7" r="4.6"/><circle cx="510.1" cy="397.7" r="4.6"/><circle cx="518.5" cy="395.2" r="4.6"/><circle cx="525.2" cy="393.5" r="4.6"/><circle cx="548.6" cy="390.2" r="4.6"/><circle cx="553.6" cy="395.2" r="4.6"/><circle cx="550.2" cy="400.2" r="4.6"/><circle cx="556.9" cy="404.4" r="4.6"/><circle cx="561.9" cy="403.5" r="4.6"/><circle cx="506.8" cy="406.9" r="4.6"/><circle cx="516.8" cy="405.2" r="4.6"/><circle cx="518.5" cy="413.6" r="4.6"/><circle cx="526.8" cy="413.6" r="4.6"/><circle cx="505.1" cy="416.1" r="4.6"/><circle cx="507.6" cy="421.1" r="4.6"/><circle cx="538.5" cy="416.1" r="4.6"/><circle cx="545.2" cy="413.6" r="4.6"/><circle cx="555.3" cy="411.9" r="4.6"/><circle cx="538.5" cy="421.9" r="4.6"/><circle cx="543.5" cy="423.6" r="4.6"/><circle cx="550.2" cy="423.6" r="4.6"/><circle cx="553.6" cy="421.9" r="4.6"/><circle cx="535.2" cy="425.3" r="4.6"/><circle cx="540.2" cy="431.1" r="4.6"/><circle cx="521.0" cy="429.5" r="4.6"/><circle cx="501.7" cy="431.1" r="4.6"/><circle cx="506.8" cy="432.0" r="4.6"/><circle cx="508.4" cy="439.5" r="4.6"/><circle cx="530.2" cy="398.5" r="4.6"/><circle cx="535.2" cy="406.0" r="4.6"/><circle cx="543.5" cy="400.2" r="4.6"/><circle cx="520.0" cy="402.0" r="4.6"/><circle cx="528.0" cy="388.0" r="4.6"/><circle cx="540.0" cy="392.0" r="4.6"/><circle cx="512.0" cy="412.0" r="4.6"/><circle cx="548.0" cy="408.0" r="4.6"/><circle cx="531.0" cy="419.0" r="4.6"/><circle cx="528.4" cy="360.6" r="4.6"/><circle cx="556.4" cy="372.4" r="4.6"/><circle cx="553.0" cy="384.4" r="4.6"/><circle cx="498.5" cy="384.4" r="4.6"/><circle cx="501.5" cy="394.2" r="4.6"/><circle cx="528.3" cy="393.7" r="4.6"/><circle cx="551.4" cy="390.9" r="4.6"/><circle cx="557.9" cy="406.7" r="4.6"/><circle cx="507.0" cy="408.5" r="4.6"/><circle cx="519.6" cy="407.4" r="4.6"/><circle cx="519.2" cy="412.5" r="4.6"/><circle cx="527.6" cy="417.4" r="4.6"/><circle cx="507.6" cy="423.3" r="4.6"/><circle cx="559.0" cy="412.7" r="4.6"/><circle cx="535.5" cy="418.6" r="4.6"/><circle cx="552.7" cy="420.5" r="4.6"/><circle cx="536.2" cy="434.3" r="4.6"/><circle cx="503.6" cy="435.0" r="4.6"/><circle cx="531.9" cy="398.5" r="4.6"/><circle cx="541.7" cy="388.7" r="4.6"/><circle cx="515.5" cy="411.2" r="4.6"/></g><g fill="#00ff00" fill-opacity="0.6"><circle cx="700.7" cy="274.8" r="4.6"/><circle cx="701.5" cy="293.9" r="4.6"/></g><polygon points="211.09,371.62 216.18,376.71 211.09,381.80 216.18,386.89 211.09,391.98 206.00,386.89 200.91,391.98 195.82,386.89 200.91,381.80 195.82,376.71 200.91,371.62 206.00,376.71" fill="#0000ff" stroke="#000" stroke-width="1.6" stroke-linejoin="miter"/><polygon points="674.39,271.52 679.48,276.61 674.39,281.70 679.48,286.79 674.39,291.88 669.30,286.79 664.21,291.88 659.12,286.79 664.21,281.70 659.12,276.61 664.21,271.52 669.30,276.61" fill="#800080" stroke="#000" stroke-width="1.6" stroke-linejoin="miter"/><polygon points="599.69,341.92 604.78,347.01 599.69,352.10 604.78,357.19 599.69,362.28 594.60,357.19 589.51,362.28 584.42,357.19 589.51,352.10 584.42,347.01 589.51,341.92 594.60,347.01" fill="#ff0000" stroke="#000" stroke-width="1.6" stroke-linejoin="miter"/><polygon points="537.49,388.62 542.58,393.71 537.49,398.80 542.58,403.89 537.49,408.98 532.40,403.89 527.31,408.98 522.22,403.89 527.31,398.80 522.22,393.71 527.31,388.62 532.40,393.71" fill="#808000" stroke="#000" stroke-width="1.6" stroke-linejoin="miter"/><polygon points="706.49,271.52 711.58,276.61 706.49,281.70 711.58,286.79 706.49,291.88 701.40,286.79 696.31,291.88 691.22,286.79 696.31,281.70 691.22,276.61 696.31,271.52 701.40,276.61" fill="#00ff00" stroke="#000" stroke-width="1.6" stroke-linejoin="miter"/><g stroke="#000" stroke-width="1.3" fill="none"><path d="M46.4 589.4V18"/><path d="M46.4 589.4H931"/></g><polygon points="46.4,3.8 39,18.9 53.8,18.9" fill="#000"/><polygon points="945.3,589.5 930.1,582.1 930.1,597" fill="#000"/><rect x="59.6" y="373.8" width="93.1" height="202.6" rx="3.5" fill="#fff" fill-opacity="0.8" stroke="#cccccc" stroke-opacity="0.9" stroke-width="1"/><circle cx="97.1" cy="397.20" r="4.6" fill="#0000ff" fill-opacity="0.6"/><text x="111.20" y="404.52" font-size="27.68" textLength="17.96" lengthAdjust="spacingAndGlyphs" font-style="italic">C</text><text x="130.00" y="408.14" font-size="16.38" textLength="10.10" lengthAdjust="spacingAndGlyphs">0</text><circle cx="97.1" cy="436.15" r="4.6" fill="#800080" fill-opacity="0.6"/><text x="111.20" y="443.47" font-size="27.68" textLength="17.96" lengthAdjust="spacingAndGlyphs" font-style="italic">C</text><text x="130.00" y="447.09" font-size="16.38" textLength="10.10" lengthAdjust="spacingAndGlyphs">3</text><circle cx="97.1" cy="475.10" r="4.6" fill="#ff0000" fill-opacity="0.6"/><text x="111.20" y="482.42" font-size="27.68" textLength="17.96" lengthAdjust="spacingAndGlyphs" font-style="italic">C</text><text x="130.00" y="486.20" font-size="16.62" textLength="10.10" lengthAdjust="spacingAndGlyphs">2</text><circle cx="97.1" cy="514.05" r="4.6" fill="#808000" fill-opacity="0.6"/><text x="111.20" y="521.37" font-size="27.68" textLength="17.96" lengthAdjust="spacingAndGlyphs" font-style="italic">C</text><text x="130.00" y="525.15" font-size="16.86" textLength="10.10" lengthAdjust="spacingAndGlyphs">1</text><circle cx="97.1" cy="553.00" r="4.6" fill="#00ff00" fill-opacity="0.6"/><text x="111.20" y="560.32" font-size="27.68" textLength="17.96" lengthAdjust="spacingAndGlyphs" font-style="italic">C</text><text x="130.00" y="564.10" font-size="16.86" textLength="10.10" lengthAdjust="spacingAndGlyphs">4</text><text x="33.33" y="373.40" font-size="47.09" textLength="145.62" lengthAdjust="spacingAndGlyphs" transform="rotate(-90 33.33 373.40)">2nd PC</text><text x="428.70" y="626.54" font-size="45.93" textLength="129.50" lengthAdjust="spacingAndGlyphs">1st PC</text><rect x="195.5" y="11.5" width="294.1" height="180.7" fill="#fff" stroke="#000" stroke-width="1.15"/><text x="116.60" y="23.85" font-size="34.75" textLength="67.81" lengthAdjust="spacingAndGlyphs">0.20</text><text x="116.60" y="67.25" font-size="34.75" textLength="67.81" lengthAdjust="spacingAndGlyphs">0.15</text><text x="116.60" y="110.65" font-size="34.75" textLength="67.81" lengthAdjust="spacingAndGlyphs">0.10</text><text x="116.60" y="153.95" font-size="34.75" textLength="67.81" lengthAdjust="spacingAndGlyphs">0.05</text><text x="116.60" y="197.35" font-size="34.75" textLength="67.81" lengthAdjust="spacingAndGlyphs">0.00</text><path d="M190.9 10.9H195.5M190.9 54.3H195.5M190.9 97.7H195.5M190.9 141.0H195.5M190.9 184.4H195.5M208.6 192.2V196.6M327.9 192.2V196.6M446.9 192.2V196.6" stroke="#000" stroke-width="1.6" fill="none"/><text x="201.00" y="225.36" font-size="34.32" textLength="16.00" lengthAdjust="spacingAndGlyphs">0</text><text x="277.80" y="225.36" font-size="34.32" textLength="83.82" lengthAdjust="spacingAndGlyphs">2×10</text><text x="365.40" y="213.40" font-size="24.50" textLength="10.70" lengthAdjust="spacingAndGlyphs">2</text><text x="396.60" y="225.36" font-size="34.32" textLength="83.82" lengthAdjust="spacingAndGlyphs">4×10</text><text x="484.20" y="213.40" font-size="24.50" textLength="10.70" lengthAdjust="spacingAndGlyphs">2</text><text x="103.09" y="195.00" font-size="40.95" textLength="188.99" lengthAdjust="spacingAndGlyphs" transform="rotate(-90 103.09 195.00)">k-distance</text><text x="329.90" y="264.30" font-size="36.05" textLength="25.17" lengthAdjust="spacingAndGlyphs" font-style="italic">N</text><text x="417.80" y="135.88" font-size="31.93" textLength="13.61" lengthAdjust="spacingAndGlyphs" font-style="italic">ε</text><path d="M209.0 162.0H477.2" stroke="#808080" stroke-width="1.7" stroke-dasharray="7.6 2.97" fill="none"/><path d="M209.2,30.8L209.3,90L209.7,104.3L210.3,118.7L211.2,130.1L212.2,138.7L214.3,146.6L217.9,151.6L223.6,156.2L231.5,159.5L240.1,162.1L250,163.9L265.8,167.1L281.6,169.7L297.4,172.1L313.2,174L329,175.7L336.8,176.8L344.7,177.3L360.5,178.1L376.3,178.9L400,180L426.3,181.5L450,182.9L477.3,184.4" stroke="#000" stroke-width="2.7" fill="none" stroke-linejoin="round"/><rect x="742.5" y="355.0" width="194.6" height="162.3" fill="#fff" stroke="#000" stroke-width="1.15"/><text x="671.00" y="371.39" font-size="31.50" textLength="62.01" lengthAdjust="spacingAndGlyphs">1.00</text><text x="671.00" y="423.89" font-size="31.50" textLength="62.01" lengthAdjust="spacingAndGlyphs">0.98</text><text x="671.00" y="476.49" font-size="31.50" textLength="62.01" lengthAdjust="spacingAndGlyphs">0.96</text><text x="671.00" y="527.49" font-size="31.50" textLength="62.01" lengthAdjust="spacingAndGlyphs">0.94</text><path d="M737.9 360.7H742.5M737.9 413.2H742.5M737.9 465.8H742.5M737.9 516.8H742.5M750.9 517.3V521.5999999999999M809.7 517.3V521.5999999999999M868.5 517.3V521.5999999999999M927.2 517.3V521.5999999999999" stroke="#000" stroke-width="1.6" fill="none"/><path d="M768.6 517.3V519.8M778.9 517.3V519.8M786.3 517.3V519.8M792.0 517.3V519.8M796.6 517.3V519.8M800.6 517.3V519.8M804.0 517.3V519.8M807.0 517.3V519.8M827.4 517.3V519.8M837.7 517.3V519.8M845.1 517.3V519.8M850.7 517.3V519.8M855.4 517.3V519.8M859.3 517.3V519.8M862.7 517.3V519.8M865.8 517.3V519.8M886.1 517.3V519.8M896.5 517.3V519.8M903.8 517.3V519.8M909.5 517.3V519.8M914.2 517.3V519.8M918.1 517.3V519.8M921.5 517.3V519.8M924.5 517.3V519.8" stroke="#000" stroke-width="1.15" fill="none"/><text x="744.50" y="548.00" font-size="27.68" textLength="14.50" lengthAdjust="spacingAndGlyphs">1</text><text x="794.00" y="547.72" font-size="27.68" textLength="33.01" lengthAdjust="spacingAndGlyphs">10</text><text x="844.00" y="547.72" font-size="27.68" textLength="33.01" lengthAdjust="spacingAndGlyphs">10</text><text x="879.50" y="537.50" font-size="20.77" textLength="9.90" lengthAdjust="spacingAndGlyphs">2</text><text x="902.00" y="547.72" font-size="27.68" textLength="33.01" lengthAdjust="spacingAndGlyphs">10</text><text x="937.50" y="537.30" font-size="20.48" textLength="9.90" lengthAdjust="spacingAndGlyphs">3</text><text x="657.29" y="473.80" font-size="30.51" textLength="76.81" lengthAdjust="spacingAndGlyphs" transform="rotate(-90 657.29 473.80)">CEVR</text><text x="814.90" y="580.20" font-size="27.18" textLength="25.07" lengthAdjust="spacingAndGlyphs" font-style="italic">N</text><text x="840.50" y="587.00" font-size="20.06" textLength="21.91" lengthAdjust="spacingAndGlyphs" font-style="italic">PC</text><path d="M751.5,485.8L760,461L769.3,433.2L774,424.5L779.7,416.6L786,407L792.1,398L798.3,387.6L803,381.5L808.7,376L813,372L819,368.2L826,365L833.5,362.8L843,361.5L854.2,360.9L870,360.7L928.8,360.7" stroke="#000" stroke-width="2.7" fill="none" stroke-linejoin="round"/>
</svg>
</body></html>
